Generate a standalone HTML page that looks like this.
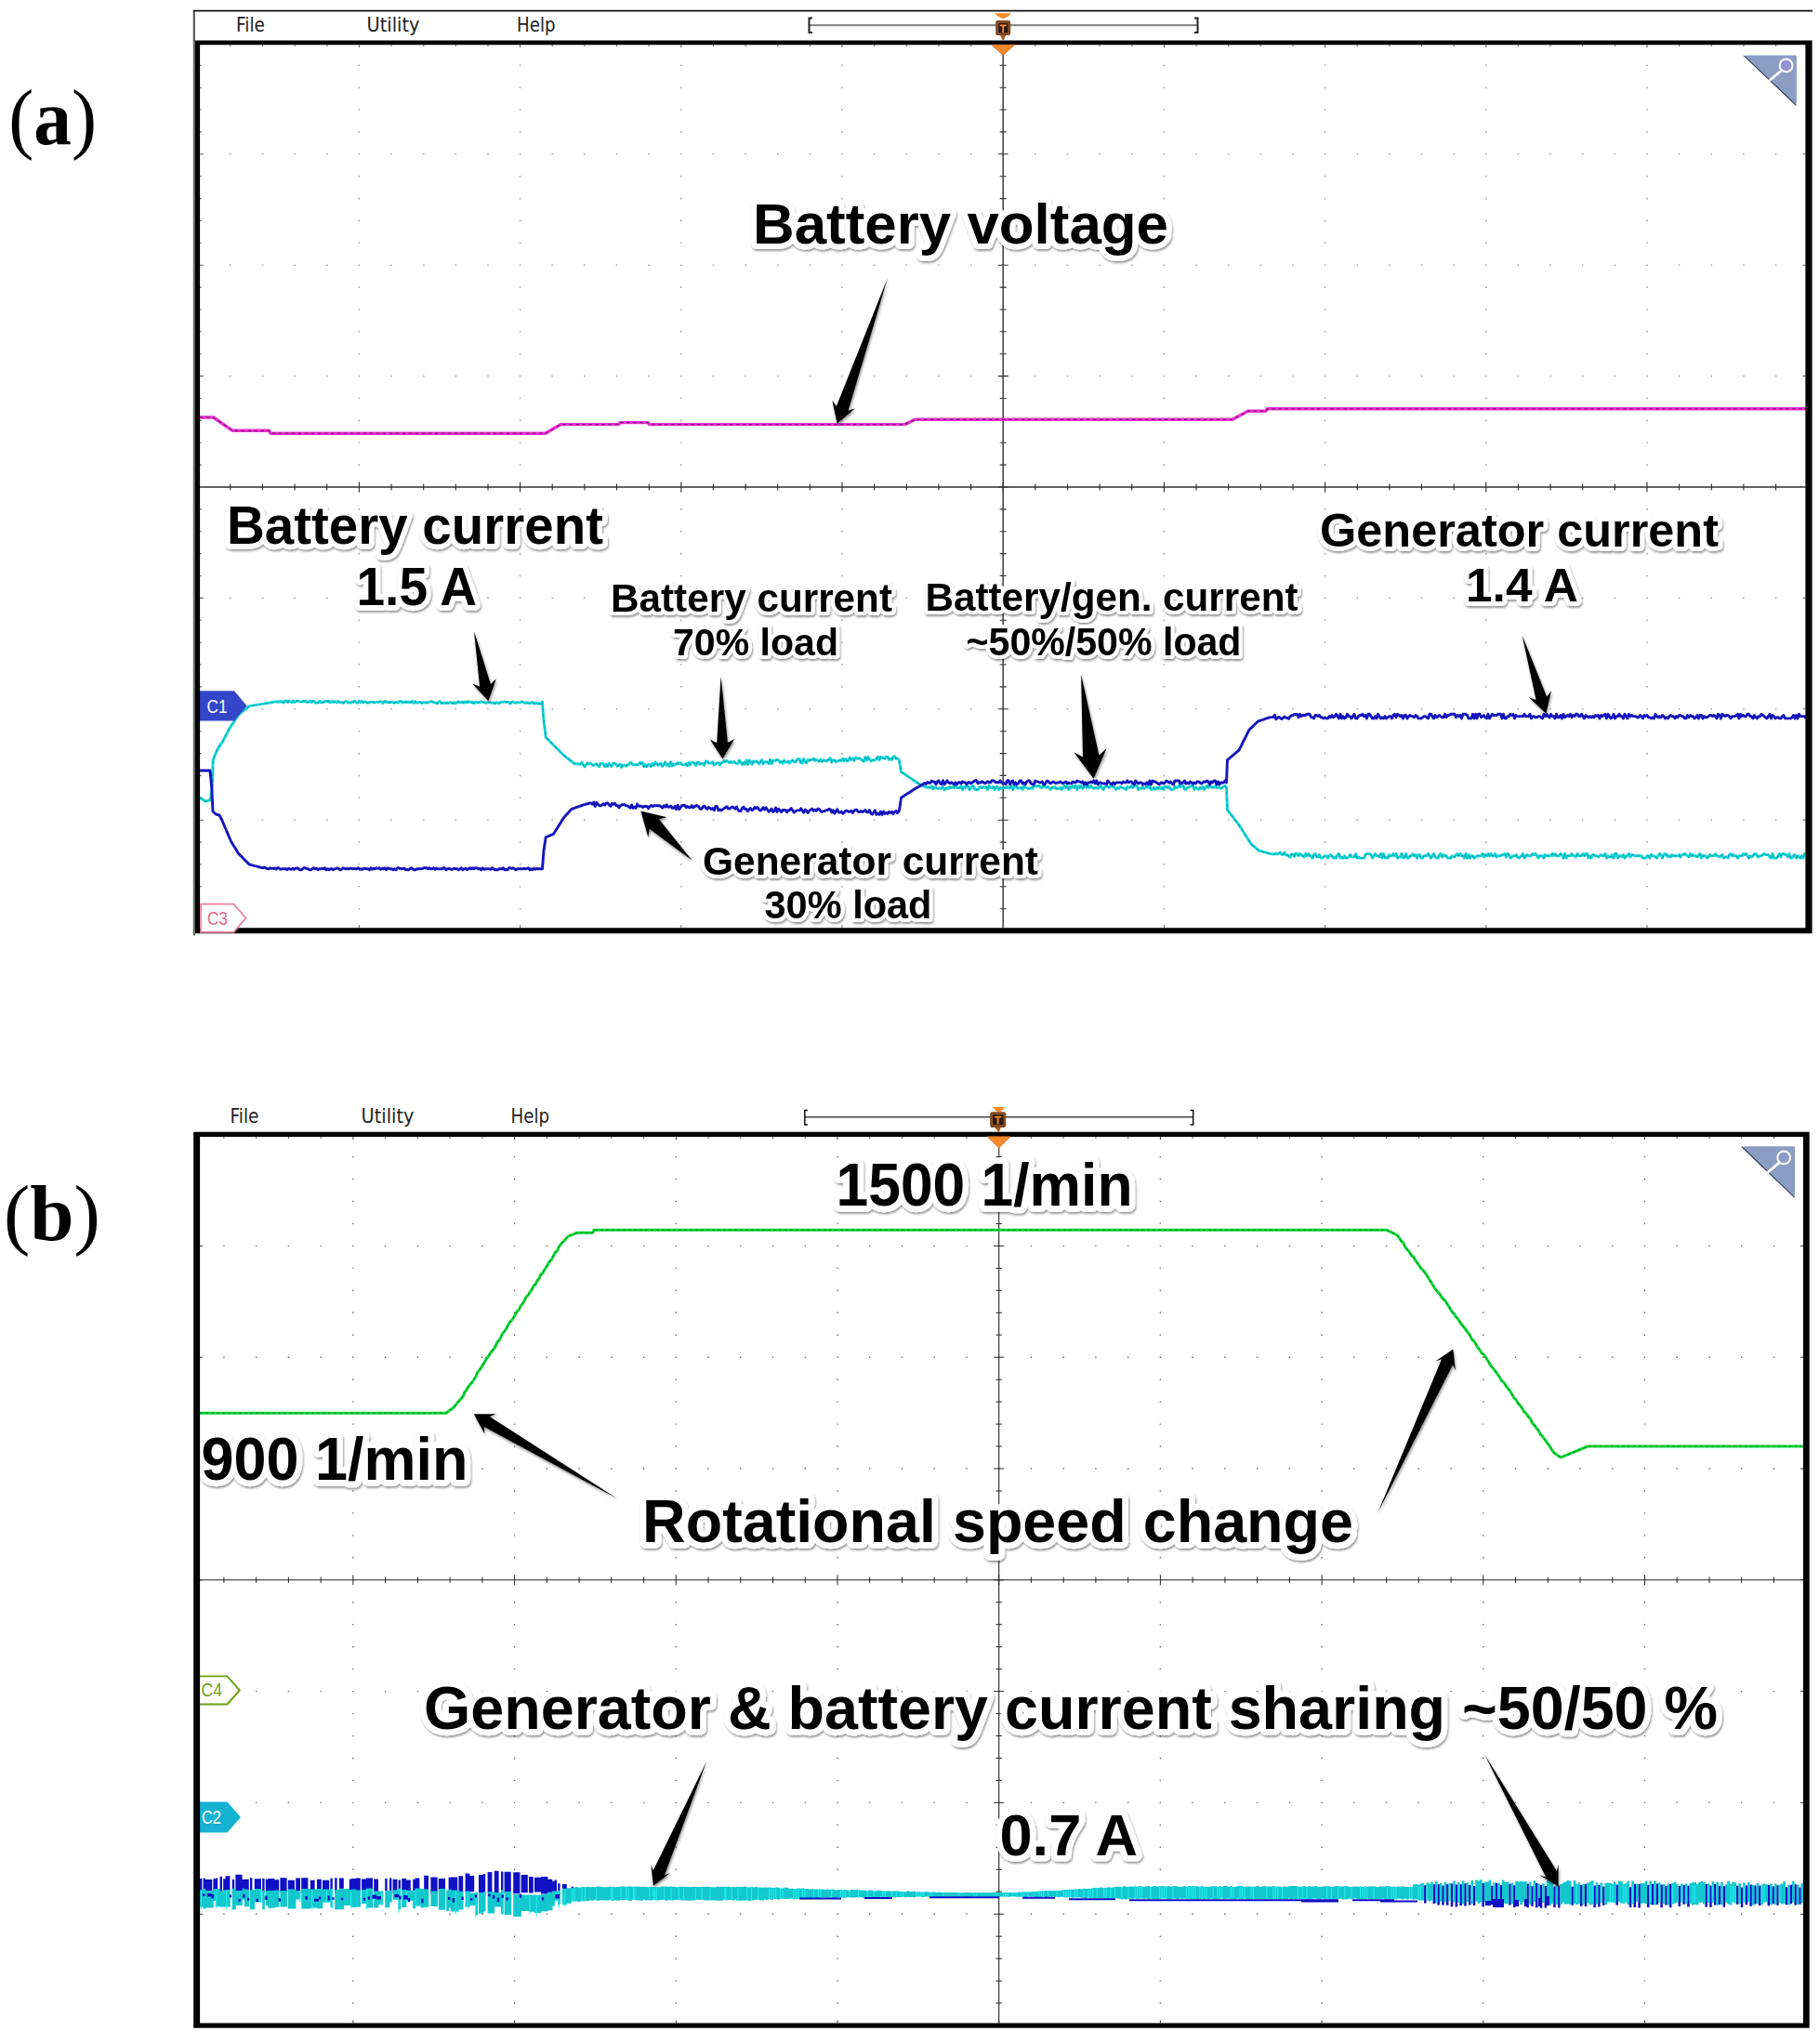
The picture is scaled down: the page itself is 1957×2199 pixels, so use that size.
<!DOCTYPE html>
<html lang="en"><head><meta charset="utf-8"><title>Oscilloscope figure</title>
<style>
html,body{margin:0;padding:0;background:#fff;}
body{width:1957px;height:2199px;overflow:hidden;position:relative;}
svg{position:absolute;left:0;top:0;display:block;}
.lb{font-family:"Liberation Sans",Arial,sans-serif;font-weight:bold;fill:#000;stroke:#fff;stroke-linejoin:round;paint-order:stroke fill;}
.mn{font-family:"DejaVu Sans","Liberation Sans",sans-serif;font-size:21.5px;fill:#1e1e1e;}
.ch{font-family:"Liberation Sans",Arial,sans-serif;font-size:20px;}
.fg{font-family:"Liberation Serif","Times New Roman",serif;fill:#000;}
</style></head><body>
<svg width="1957" height="2199" viewBox="0 0 1957 2199">
<defs>
<filter id="sh" x="-5%" y="-30%" width="110%" height="170%"><feGaussianBlur in="SourceAlpha" stdDeviation="1.3"/><feOffset dx="1.3" dy="1.8" result="b"/><feComponentTransfer><feFuncA type="linear" slope="0.42"/></feComponentTransfer><feMerge><feMergeNode/><feMergeNode in="SourceGraphic"/></feMerge></filter>
<filter id="sa" x="-30%" y="-30%" width="160%" height="160%"><feGaussianBlur in="SourceAlpha" stdDeviation="1.5"/><feOffset dx="1" dy="2"/><feComponentTransfer><feFuncA type="linear" slope="0.45"/></feComponentTransfer><feMerge><feMergeNode/><feMergeNode in="SourceGraphic"/></feMerge></filter>
</defs>
<rect width="1957" height="2199" fill="#fff"/>

<!-- panel a -->
<path d="M247,165.8h1.6M281.7,165.8h1.6M316.3,165.8h1.6M351,165.8h1.6M385.6,165.8h1.6M420.2,165.8h1.6M454.9,165.8h1.6M489.5,165.8h1.6M524.2,165.8h1.6M558.8,165.8h1.6M593.4,165.8h1.6M628.1,165.8h1.6M662.7,165.8h1.6M697.4,165.8h1.6M732,165.8h1.6M766.6,165.8h1.6M801.3,165.8h1.6M835.9,165.8h1.6M870.6,165.8h1.6M905.2,165.8h1.6M939.8,165.8h1.6M974.5,165.8h1.6M1009.1,165.8h1.6M1043.8,165.8h1.6M1078.4,165.8h1.6M1113,165.8h1.6M1147.7,165.8h1.6M1182.3,165.8h1.6M1217,165.8h1.6M1251.6,165.8h1.6M1286.2,165.8h1.6M1320.9,165.8h1.6M1355.5,165.8h1.6M1390.2,165.8h1.6M1424.8,165.8h1.6M1459.4,165.8h1.6M1494.1,165.8h1.6M1528.7,165.8h1.6M1563.4,165.8h1.6M1598,165.8h1.6M1632.6,165.8h1.6M1667.3,165.8h1.6M1701.9,165.8h1.6M1736.6,165.8h1.6M1771.2,165.8h1.6M1805.8,165.8h1.6M1840.5,165.8h1.6M1875.1,165.8h1.6M1909.8,165.8h1.6M247,285.2h1.6M281.7,285.2h1.6M316.3,285.2h1.6M351,285.2h1.6M385.6,285.2h1.6M420.2,285.2h1.6M454.9,285.2h1.6M489.5,285.2h1.6M524.2,285.2h1.6M558.8,285.2h1.6M593.4,285.2h1.6M628.1,285.2h1.6M662.7,285.2h1.6M697.4,285.2h1.6M732,285.2h1.6M766.6,285.2h1.6M801.3,285.2h1.6M835.9,285.2h1.6M870.6,285.2h1.6M905.2,285.2h1.6M939.8,285.2h1.6M974.5,285.2h1.6M1009.1,285.2h1.6M1043.8,285.2h1.6M1078.4,285.2h1.6M1113,285.2h1.6M1147.7,285.2h1.6M1182.3,285.2h1.6M1217,285.2h1.6M1251.6,285.2h1.6M1286.2,285.2h1.6M1320.9,285.2h1.6M1355.5,285.2h1.6M1390.2,285.2h1.6M1424.8,285.2h1.6M1459.4,285.2h1.6M1494.1,285.2h1.6M1528.7,285.2h1.6M1563.4,285.2h1.6M1598,285.2h1.6M1632.6,285.2h1.6M1667.3,285.2h1.6M1701.9,285.2h1.6M1736.6,285.2h1.6M1771.2,285.2h1.6M1805.8,285.2h1.6M1840.5,285.2h1.6M1875.1,285.2h1.6M1909.8,285.2h1.6M247,404.6h1.6M281.7,404.6h1.6M316.3,404.6h1.6M351,404.6h1.6M385.6,404.6h1.6M420.2,404.6h1.6M454.9,404.6h1.6M489.5,404.6h1.6M524.2,404.6h1.6M558.8,404.6h1.6M593.4,404.6h1.6M628.1,404.6h1.6M662.7,404.6h1.6M697.4,404.6h1.6M732,404.6h1.6M766.6,404.6h1.6M801.3,404.6h1.6M835.9,404.6h1.6M870.6,404.6h1.6M905.2,404.6h1.6M939.8,404.6h1.6M974.5,404.6h1.6M1009.1,404.6h1.6M1043.8,404.6h1.6M1078.4,404.6h1.6M1113,404.6h1.6M1147.7,404.6h1.6M1182.3,404.6h1.6M1217,404.6h1.6M1251.6,404.6h1.6M1286.2,404.6h1.6M1320.9,404.6h1.6M1355.5,404.6h1.6M1390.2,404.6h1.6M1424.8,404.6h1.6M1459.4,404.6h1.6M1494.1,404.6h1.6M1528.7,404.6h1.6M1563.4,404.6h1.6M1598,404.6h1.6M1632.6,404.6h1.6M1667.3,404.6h1.6M1701.9,404.6h1.6M1736.6,404.6h1.6M1771.2,404.6h1.6M1805.8,404.6h1.6M1840.5,404.6h1.6M1875.1,404.6h1.6M1909.8,404.6h1.6M247,643.4h1.6M281.7,643.4h1.6M316.3,643.4h1.6M351,643.4h1.6M385.6,643.4h1.6M420.2,643.4h1.6M454.9,643.4h1.6M489.5,643.4h1.6M524.2,643.4h1.6M558.8,643.4h1.6M593.4,643.4h1.6M628.1,643.4h1.6M662.7,643.4h1.6M697.4,643.4h1.6M732,643.4h1.6M766.6,643.4h1.6M801.3,643.4h1.6M835.9,643.4h1.6M870.6,643.4h1.6M905.2,643.4h1.6M939.8,643.4h1.6M974.5,643.4h1.6M1009.1,643.4h1.6M1043.8,643.4h1.6M1078.4,643.4h1.6M1113,643.4h1.6M1147.7,643.4h1.6M1182.3,643.4h1.6M1217,643.4h1.6M1251.6,643.4h1.6M1286.2,643.4h1.6M1320.9,643.4h1.6M1355.5,643.4h1.6M1390.2,643.4h1.6M1424.8,643.4h1.6M1459.4,643.4h1.6M1494.1,643.4h1.6M1528.7,643.4h1.6M1563.4,643.4h1.6M1598,643.4h1.6M1632.6,643.4h1.6M1667.3,643.4h1.6M1701.9,643.4h1.6M1736.6,643.4h1.6M1771.2,643.4h1.6M1805.8,643.4h1.6M1840.5,643.4h1.6M1875.1,643.4h1.6M1909.8,643.4h1.6M247,762.8h1.6M281.7,762.8h1.6M316.3,762.8h1.6M351,762.8h1.6M385.6,762.8h1.6M420.2,762.8h1.6M454.9,762.8h1.6M489.5,762.8h1.6M524.2,762.8h1.6M558.8,762.8h1.6M593.4,762.8h1.6M628.1,762.8h1.6M662.7,762.8h1.6M697.4,762.8h1.6M732,762.8h1.6M766.6,762.8h1.6M801.3,762.8h1.6M835.9,762.8h1.6M870.6,762.8h1.6M905.2,762.8h1.6M939.8,762.8h1.6M974.5,762.8h1.6M1009.1,762.8h1.6M1043.8,762.8h1.6M1078.4,762.8h1.6M1113,762.8h1.6M1147.7,762.8h1.6M1182.3,762.8h1.6M1217,762.8h1.6M1251.6,762.8h1.6M1286.2,762.8h1.6M1320.9,762.8h1.6M1355.5,762.8h1.6M1390.2,762.8h1.6M1424.8,762.8h1.6M1459.4,762.8h1.6M1494.1,762.8h1.6M1528.7,762.8h1.6M1563.4,762.8h1.6M1598,762.8h1.6M1632.6,762.8h1.6M1667.3,762.8h1.6M1701.9,762.8h1.6M1736.6,762.8h1.6M1771.2,762.8h1.6M1805.8,762.8h1.6M1840.5,762.8h1.6M1875.1,762.8h1.6M1909.8,762.8h1.6M247,882.2h1.6M281.7,882.2h1.6M316.3,882.2h1.6M351,882.2h1.6M385.6,882.2h1.6M420.2,882.2h1.6M454.9,882.2h1.6M489.5,882.2h1.6M524.2,882.2h1.6M558.8,882.2h1.6M593.4,882.2h1.6M628.1,882.2h1.6M662.7,882.2h1.6M697.4,882.2h1.6M732,882.2h1.6M766.6,882.2h1.6M801.3,882.2h1.6M835.9,882.2h1.6M870.6,882.2h1.6M905.2,882.2h1.6M939.8,882.2h1.6M974.5,882.2h1.6M1009.1,882.2h1.6M1043.8,882.2h1.6M1078.4,882.2h1.6M1113,882.2h1.6M1147.7,882.2h1.6M1182.3,882.2h1.6M1217,882.2h1.6M1251.6,882.2h1.6M1286.2,882.2h1.6M1320.9,882.2h1.6M1355.5,882.2h1.6M1390.2,882.2h1.6M1424.8,882.2h1.6M1459.4,882.2h1.6M1494.1,882.2h1.6M1528.7,882.2h1.6M1563.4,882.2h1.6M1598,882.2h1.6M1632.6,882.2h1.6M1667.3,882.2h1.6M1701.9,882.2h1.6M1736.6,882.2h1.6M1771.2,882.2h1.6M1805.8,882.2h1.6M1840.5,882.2h1.6M1875.1,882.2h1.6M1909.8,882.2h1.6M385.6,70.3h1.6M385.6,94.2h1.6M385.6,118h1.6M385.6,141.9h1.6M385.6,189.7h1.6M385.6,213.6h1.6M385.6,237.4h1.6M385.6,261.3h1.6M385.6,309.1h1.6M385.6,333h1.6M385.6,356.8h1.6M385.6,380.7h1.6M385.6,428.5h1.6M385.6,452.4h1.6M385.6,476.2h1.6M385.6,500.1h1.6M385.6,547.9h1.6M385.6,571.8h1.6M385.6,595.6h1.6M385.6,619.5h1.6M385.6,667.3h1.6M385.6,691.2h1.6M385.6,715h1.6M385.6,738.9h1.6M385.6,786.7h1.6M385.6,810.6h1.6M385.6,834.4h1.6M385.6,858.3h1.6M385.6,906.1h1.6M385.6,930h1.6M385.6,953.8h1.6M385.6,977.7h1.6M558.8,70.3h1.6M558.8,94.2h1.6M558.8,118h1.6M558.8,141.9h1.6M558.8,189.7h1.6M558.8,213.6h1.6M558.8,237.4h1.6M558.8,261.3h1.6M558.8,309.1h1.6M558.8,333h1.6M558.8,356.8h1.6M558.8,380.7h1.6M558.8,428.5h1.6M558.8,452.4h1.6M558.8,476.2h1.6M558.8,500.1h1.6M558.8,547.9h1.6M558.8,571.8h1.6M558.8,595.6h1.6M558.8,619.5h1.6M558.8,667.3h1.6M558.8,691.2h1.6M558.8,715h1.6M558.8,738.9h1.6M558.8,786.7h1.6M558.8,810.6h1.6M558.8,834.4h1.6M558.8,858.3h1.6M558.8,906.1h1.6M558.8,930h1.6M558.8,953.8h1.6M558.8,977.7h1.6M732,70.3h1.6M732,94.2h1.6M732,118h1.6M732,141.9h1.6M732,189.7h1.6M732,213.6h1.6M732,237.4h1.6M732,261.3h1.6M732,309.1h1.6M732,333h1.6M732,356.8h1.6M732,380.7h1.6M732,428.5h1.6M732,452.4h1.6M732,476.2h1.6M732,500.1h1.6M732,547.9h1.6M732,571.8h1.6M732,595.6h1.6M732,619.5h1.6M732,667.3h1.6M732,691.2h1.6M732,715h1.6M732,738.9h1.6M732,786.7h1.6M732,810.6h1.6M732,834.4h1.6M732,858.3h1.6M732,906.1h1.6M732,930h1.6M732,953.8h1.6M732,977.7h1.6M905.2,70.3h1.6M905.2,94.2h1.6M905.2,118h1.6M905.2,141.9h1.6M905.2,189.7h1.6M905.2,213.6h1.6M905.2,237.4h1.6M905.2,261.3h1.6M905.2,309.1h1.6M905.2,333h1.6M905.2,356.8h1.6M905.2,380.7h1.6M905.2,428.5h1.6M905.2,452.4h1.6M905.2,476.2h1.6M905.2,500.1h1.6M905.2,547.9h1.6M905.2,571.8h1.6M905.2,595.6h1.6M905.2,619.5h1.6M905.2,667.3h1.6M905.2,691.2h1.6M905.2,715h1.6M905.2,738.9h1.6M905.2,786.7h1.6M905.2,810.6h1.6M905.2,834.4h1.6M905.2,858.3h1.6M905.2,906.1h1.6M905.2,930h1.6M905.2,953.8h1.6M905.2,977.7h1.6M1251.6,70.3h1.6M1251.6,94.2h1.6M1251.6,118h1.6M1251.6,141.9h1.6M1251.6,189.7h1.6M1251.6,213.6h1.6M1251.6,237.4h1.6M1251.6,261.3h1.6M1251.6,309.1h1.6M1251.6,333h1.6M1251.6,356.8h1.6M1251.6,380.7h1.6M1251.6,428.5h1.6M1251.6,452.4h1.6M1251.6,476.2h1.6M1251.6,500.1h1.6M1251.6,547.9h1.6M1251.6,571.8h1.6M1251.6,595.6h1.6M1251.6,619.5h1.6M1251.6,667.3h1.6M1251.6,691.2h1.6M1251.6,715h1.6M1251.6,738.9h1.6M1251.6,786.7h1.6M1251.6,810.6h1.6M1251.6,834.4h1.6M1251.6,858.3h1.6M1251.6,906.1h1.6M1251.6,930h1.6M1251.6,953.8h1.6M1251.6,977.7h1.6M1424.8,70.3h1.6M1424.8,94.2h1.6M1424.8,118h1.6M1424.8,141.9h1.6M1424.8,189.7h1.6M1424.8,213.6h1.6M1424.8,237.4h1.6M1424.8,261.3h1.6M1424.8,309.1h1.6M1424.8,333h1.6M1424.8,356.8h1.6M1424.8,380.7h1.6M1424.8,428.5h1.6M1424.8,452.4h1.6M1424.8,476.2h1.6M1424.8,500.1h1.6M1424.8,547.9h1.6M1424.8,571.8h1.6M1424.8,595.6h1.6M1424.8,619.5h1.6M1424.8,667.3h1.6M1424.8,691.2h1.6M1424.8,715h1.6M1424.8,738.9h1.6M1424.8,786.7h1.6M1424.8,810.6h1.6M1424.8,834.4h1.6M1424.8,858.3h1.6M1424.8,906.1h1.6M1424.8,930h1.6M1424.8,953.8h1.6M1424.8,977.7h1.6M1598,70.3h1.6M1598,94.2h1.6M1598,118h1.6M1598,141.9h1.6M1598,189.7h1.6M1598,213.6h1.6M1598,237.4h1.6M1598,261.3h1.6M1598,309.1h1.6M1598,333h1.6M1598,356.8h1.6M1598,380.7h1.6M1598,428.5h1.6M1598,452.4h1.6M1598,476.2h1.6M1598,500.1h1.6M1598,547.9h1.6M1598,571.8h1.6M1598,595.6h1.6M1598,619.5h1.6M1598,667.3h1.6M1598,691.2h1.6M1598,715h1.6M1598,738.9h1.6M1598,786.7h1.6M1598,810.6h1.6M1598,834.4h1.6M1598,858.3h1.6M1598,906.1h1.6M1598,930h1.6M1598,953.8h1.6M1598,977.7h1.6M1771.2,70.3h1.6M1771.2,94.2h1.6M1771.2,118h1.6M1771.2,141.9h1.6M1771.2,189.7h1.6M1771.2,213.6h1.6M1771.2,237.4h1.6M1771.2,261.3h1.6M1771.2,309.1h1.6M1771.2,333h1.6M1771.2,356.8h1.6M1771.2,380.7h1.6M1771.2,428.5h1.6M1771.2,452.4h1.6M1771.2,476.2h1.6M1771.2,500.1h1.6M1771.2,547.9h1.6M1771.2,571.8h1.6M1771.2,595.6h1.6M1771.2,619.5h1.6M1771.2,667.3h1.6M1771.2,691.2h1.6M1771.2,715h1.6M1771.2,738.9h1.6M1771.2,786.7h1.6M1771.2,810.6h1.6M1771.2,834.4h1.6M1771.2,858.3h1.6M1771.2,906.1h1.6M1771.2,930h1.6M1771.2,953.8h1.6M1771.2,977.7h1.6" stroke="#a6a6a6" stroke-width="1.6" fill="none"/>
<path d="M215,524H1942.4 M1079.2,48.3V998.2" stroke="#303030" stroke-width="1.4" fill="none"/>
<path d="M247.8,520.5v7M282.5,520.5v7M317.1,520.5v7M351.8,520.5v7M386.4,518.5v11M421,520.5v7M455.7,520.5v7M490.3,520.5v7M525,520.5v7M559.6,518.5v11M594.2,520.5v7M628.9,520.5v7M663.5,520.5v7M698.2,520.5v7M732.8,518.5v11M767.4,520.5v7M802.1,520.5v7M836.7,520.5v7M871.4,520.5v7M906,518.5v11M940.6,520.5v7M975.3,520.5v7M1009.9,520.5v7M1044.6,520.5v7M1079.2,518.5v11M1113.8,520.5v7M1148.5,520.5v7M1183.1,520.5v7M1217.8,520.5v7M1252.4,518.5v11M1287,520.5v7M1321.7,520.5v7M1356.3,520.5v7M1391,520.5v7M1425.6,518.5v11M1460.2,520.5v7M1494.9,520.5v7M1529.5,520.5v7M1564.2,520.5v7M1598.8,518.5v11M1633.4,520.5v7M1668.1,520.5v7M1702.7,520.5v7M1737.4,520.5v7M1772,518.5v11M1806.6,520.5v7M1841.3,520.5v7M1875.9,520.5v7M1910.6,520.5v7M1075.7,70.3h7M1075.7,94.2h7M1075.7,118h7M1075.7,141.9h7M1073.7,165.8h11M1075.7,189.7h7M1075.7,213.6h7M1075.7,237.4h7M1075.7,261.3h7M1073.7,285.2h11M1075.7,309.1h7M1075.7,333h7M1075.7,356.8h7M1075.7,380.7h7M1073.7,404.6h11M1075.7,428.5h7M1075.7,452.4h7M1075.7,476.2h7M1075.7,500.1h7M1073.7,524h11M1075.7,547.9h7M1075.7,571.8h7M1075.7,595.6h7M1075.7,619.5h7M1073.7,643.4h11M1075.7,667.3h7M1075.7,691.2h7M1075.7,715h7M1075.7,738.9h7M1073.7,762.8h11M1075.7,786.7h7M1075.7,810.6h7M1075.7,834.4h7M1075.7,858.3h7M1073.7,882.2h11M1075.7,906.1h7M1075.7,930h7M1075.7,953.8h7M1075.7,977.7h7" stroke="#303030" stroke-width="1.1" fill="none"/>
<path d="M247.8,48.3v1.8M282.5,48.3v1.8M317.1,48.3v1.8M351.8,48.3v1.8M386.4,48.3v3M386.4,995.2v3M421,48.3v1.8M455.7,48.3v1.8M490.3,48.3v1.8M525,48.3v1.8M559.6,48.3v3M559.6,995.2v3M594.2,48.3v1.8M628.9,48.3v1.8M663.5,48.3v1.8M698.2,48.3v1.8M732.8,48.3v3M732.8,995.2v3M767.4,48.3v1.8M802.1,48.3v1.8M836.7,48.3v1.8M871.4,48.3v1.8M906,48.3v3M906,995.2v3M940.6,48.3v1.8M975.3,48.3v1.8M1009.9,48.3v1.8M1044.6,48.3v1.8M1079.2,48.3v3M1079.2,995.2v3M1113.8,48.3v1.8M1148.5,48.3v1.8M1183.1,48.3v1.8M1217.8,48.3v1.8M1252.4,48.3v3M1252.4,995.2v3M1287,48.3v1.8M1321.7,48.3v1.8M1356.3,48.3v1.8M1391,48.3v1.8M1425.6,48.3v3M1425.6,995.2v3M1460.2,48.3v1.8M1494.9,48.3v1.8M1529.5,48.3v1.8M1564.2,48.3v1.8M1598.8,48.3v3M1598.8,995.2v3M1633.4,48.3v1.8M1668.1,48.3v1.8M1702.7,48.3v1.8M1737.4,48.3v1.8M1772,48.3v3M1772,995.2v3M1806.6,48.3v1.8M1841.3,48.3v1.8M1875.9,48.3v1.8M1910.6,48.3v1.8M215,70.3h1.8M215,94.2h1.8M215,118h1.8M215,141.9h1.8M215,165.8h4M1939.4,165.8h3M215,189.7h1.8M215,213.6h1.8M215,237.4h1.8M215,261.3h1.8M215,285.2h4M1939.4,285.2h3M215,309.1h1.8M215,333h1.8M215,356.8h1.8M215,380.7h1.8M215,404.6h4M1939.4,404.6h3M215,428.5h1.8M215,452.4h1.8M215,476.2h1.8M215,500.1h1.8M215,524h4M1939.4,524h3M215,547.9h1.8M215,571.8h1.8M215,595.6h1.8M215,619.5h1.8M215,643.4h4M1939.4,643.4h3M215,667.3h1.8M215,691.2h1.8M215,715h1.8M215,738.9h1.8M215,762.8h4M1939.4,762.8h3M215,786.7h1.8M215,810.6h1.8M215,834.4h1.8M215,858.3h1.8M215,882.2h4M1939.4,882.2h3M215,906.1h1.8M215,930h1.8M215,953.8h1.8M215,977.7h1.8" stroke="#6a6a6a" stroke-width="1.1" fill="none"/>
<path d="M208.8,44V11.6" stroke="#4a4a4a" stroke-width="2" fill="none"/>
<path d="M207.8,11.6H1950" stroke="#111" stroke-width="1.6" fill="none"/>
<text class="mn" x="254" y="34" textLength="31" lengthAdjust="spacingAndGlyphs">File</text>
<text class="mn" x="394.5" y="34" textLength="57" lengthAdjust="spacingAndGlyphs">Utility</text>
<text class="mn" x="556" y="34" textLength="41.5" lengthAdjust="spacingAndGlyphs">Help</text>
<path d="M870.5,27.2H1288.5" stroke="#8e8e8e" stroke-width="2.2" fill="none"/>
<path d="M874,19.5H870.5V35H874M1285,19.5H1288.5V35H1285" stroke="#222" stroke-width="2" fill="none"/>
<path d="M215,449 229.6,449 250.2,463.3 289.5,463.3 291,466.2 586.7,466.2 603.5,456.6 665.8,456.6 667,454.6 697,454.6 698.5,456.6 973.6,456.6 984.6,451.3 1326,451.3 1342.7,442.2 1361.9,442.2 1363.5,439.8 1943,439.8" stroke="#e733cf" stroke-width="3.4" fill="none" stroke-linejoin="round"/>
<path d="M215,449 229.6,449 250.2,463.3 289.5,463.3 291,466.2 586.7,466.2 603.5,456.6 665.8,456.6 667,454.6 697,454.6 698.5,456.6 973.6,456.6 984.6,451.3 1326,451.3 1342.7,442.2 1361.9,442.2 1363.5,439.8 1943,439.8" stroke="#8a0a78" stroke-width="1.2" fill="none" stroke-dasharray="3.5 3.5"/>
<path d="M215,858 216.5,859 218,860 219.5,861 221,862 222.7,861.7 224.3,861.3 226,861 226.2,859.4 226.5,857.8 226.8,856.2 227,854.6 227.2,853 227.5,851.4 227.8,849.8 228,848.2 228.2,846.6 228.5,845 228.5,843.5 228.6,842 228.6,840.4 228.7,838.9 228.7,837.4 228.7,835.9 228.8,834.3 228.8,832.8 228.8,831.3 228.9,829.8 228.9,828.3 229,826.7 229,825.2 229,823.7 229.1,822.2 229.1,820.6 229.2,819.1 229.2,817.6 229.9,815.9 230.6,814.3 231.3,812.6 231.9,811 232.6,809.3 233.3,807.7 234,806 235,804.5 236,803 237,801.5 238,800 239,798.5 240,797 240.8,795.5 241.6,794 242.3,792.5 243.1,791 243.9,789.5 244.7,788 245.4,786.5 246.2,785 247,783.5 248.1,781.9 249.2,780.2 250.3,778.6 251.4,777 252.4,775.3 253.5,773.7 254.6,772.1 255.7,770.4 256.8,768.8 258.4,767.5 260.1,766.2 261.7,764.9 263.3,763.6 264.9,762.3 266.6,761 268.2,759.7 269.7,759.4 271.3,759.2 272.8,758.9 274.4,758.7 275.9,758.4 277.4,758.1 279,757.9 280.5,757.6 282,757.4 283.6,757.1 285.1,756.8 286.7,756.6 288.2,756.3 289.7,756 291.3,755.8 292.8,755.5 294.4,755.3 295.9,755 297.4,755 298.9,755 300.4,755 301.9,754.5 303.4,755 304.9,756 306.4,754 307.9,754 309.5,755.5 311,754.1 312.5,755.1 314,755.6 315.5,754.1 317,755.6 318.5,754.6 320,754.1 321.5,754.1 323,755.1 324.5,755.1 326,754.1 327.5,754.6 329,754.1 330.5,755.6 332,755.1 333.5,754.1 335,755.6 336.6,754.1 338.1,754.6 339.6,756.2 341.1,756.2 342.6,755.7 344.1,754.2 345.6,755.7 347.1,755.7 348.6,755.2 350.1,754.2 351.6,754.7 353.1,754.2 354.6,755.7 356.1,754.7 357.6,755.2 359.1,755.2 360.6,754.7 362.2,755.7 363.7,754.2 365.2,755.7 366.7,755.2 368.2,755.8 369.7,756.3 371.2,754.8 372.7,754.3 374.2,755.8 375.7,755.8 377.2,756.3 378.7,754.8 380.2,755.3 381.7,754.3 383.2,755.8 384.7,756.3 386.2,754.3 387.8,755.8 389.3,754.3 390.8,755.8 392.3,754.8 393.8,755.3 395.3,756.3 396.8,755.9 398.3,755.4 399.8,755.4 401.3,755.4 402.8,755.9 404.3,755.4 405.8,755.4 407.3,755.4 408.8,754.9 410.3,754.9 411.8,756.4 413.3,754.9 414.9,754.4 416.4,755.9 417.9,755.4 419.4,755.9 420.9,755.4 422.4,755.4 423.9,756.4 425.4,755.5 426.9,755.5 428.4,756 429.9,754.5 431.4,754.5 432.9,756 434.4,755.5 435.9,755 437.4,755.5 438.9,755 440.5,755.5 442,755.5 443.5,754.5 445,756.5 446.5,754.5 448,756 449.5,756 451,755.5 452.5,755.5 454,756.5 455.5,755.6 457,756.1 458.5,755.6 460,756.1 461.5,755.6 463,754.6 464.5,754.6 466.1,755.6 467.6,755.6 469.1,756.6 470.6,756.6 472.1,754.6 473.6,754.6 475.1,756.6 476.6,756.6 478.1,755.6 479.6,756.6 481.1,756.1 482.6,756.6 484.1,755.7 485.6,755.7 487.1,756.7 488.6,755.7 490.1,756.7 491.6,755.7 493.2,754.7 494.7,755.7 496.2,755.7 497.7,755.2 499.2,756.2 500.7,754.7 502.2,755.7 503.7,754.7 505.2,755.2 506.7,755.7 508.2,755.2 509.7,756.7 511.2,755.2 512.7,755.8 514.2,755.8 515.7,755.8 517.2,754.8 518.8,755.3 520.3,755.8 521.8,755.8 523.3,756.3 524.8,755.8 526.3,755.3 527.8,755.8 529.3,756.3 530.8,755.8 532.3,756.8 533.8,755.8 535.3,755.8 536.8,756.8 538.3,755.8 539.8,755.3 541.3,755.4 542.8,754.9 544.4,755.4 545.9,755.4 547.4,755.4 548.9,756.9 550.4,755.4 551.9,754.9 553.4,755.9 554.9,756.4 556.4,755.4 557.9,755.9 559.4,755.9 560.9,754.9 562.4,755.4 563.9,755.9 565.4,756.4 566.9,755.9 568.4,756.4 569.9,756.5 571.5,756 573,755.5 574.5,757 576,756.5 577.5,756.5 579,757 580.5,757 582,757 583.5,755 583.6,757.6 583.8,760.2 583.9,761.2 584,762.3 584.1,763.9 584.2,765.5 584.4,767.1 584.5,768.7 584.6,770.2 584.8,771.8 584.9,773.4 585,775 585.2,776.5 585.4,778 585.5,779.5 585.7,781.1 585.9,782.6 586.1,784.1 586.3,785.6 586.5,787.1 586.7,788.7 586.8,790.2 587,791.7 587.2,793.2 588.7,794.7 590.2,796.2 591.7,797.7 593.2,799.2 594.7,800.7 596.2,802.2 597.7,803.8 599.2,805.3 600.7,806.8 602.2,808.3 603.7,809.8 605.2,811.3 606.7,812.8 608.3,814 609.9,815.3 611.5,816.5 613.2,817.8 614.8,819 616.4,820.3 618,821.5 619.6,821.7 621.1,821.8 622.7,822 624.3,822.2 625.9,820.1 627.4,822.5 629,824.9 630.6,822.8 632.1,820.8 633.7,822 635.3,821.1 636.9,822.4 638.4,823.6 640,822.7 641.5,821.6 643,823.7 644.5,824.8 646,821.5 647.5,821.4 649.1,821.4 650.6,824.7 652.1,822.4 653.6,824.6 655.1,821.3 656.6,823.4 658.1,824.5 659.6,821.2 661.1,821.1 662.6,822.2 664.2,824.4 665.7,823.2 667.2,822.1 668.7,825.4 670.2,823.1 671.7,823.1 673.2,824.2 674.7,823 676.2,823 677.7,820.8 679.2,820.7 680.8,822.9 682.3,822.8 683.8,822.8 685.3,822.8 686.8,822.7 688.3,820.5 689.8,821.6 691.3,820.4 692.8,824.8 694.3,822.6 695.8,824.7 697.4,822.5 698.9,822.5 700.4,824.6 701.9,821.3 703.4,823.5 704.9,820.1 706.4,821.2 707.9,823.4 709.4,822.2 710.9,821.1 712.5,824.4 714,823.2 715.5,819.9 717,823.2 718.5,822 720,824.2 721.5,819.8 723,824.1 724.5,821.9 726,823 727.5,821.8 729.1,820.7 730.6,821.8 732.1,820.6 733.6,822.8 735.1,822.8 736.6,822.7 738.1,821.6 739.6,823.8 741.1,820.4 742.6,822.6 744.2,820.4 745.7,820.3 747.2,821.4 748.7,823.6 750.2,820.2 751.7,820.2 753.2,822.4 754.7,821.2 756.2,821.2 757.7,823.4 759.2,818.9 760.8,818.9 762.3,821 763.8,821 765.3,821 766.8,819.8 768.3,823.1 769.8,822 771.3,820.8 772.8,820.8 774.3,823 775.8,820.7 777.4,820.7 778.9,818.5 780.4,819.5 781.9,818.4 783.4,819.5 784.9,820.5 786.4,819.4 787.9,820.5 789.4,819.3 790.9,820.4 792.5,821.5 794,821.4 795.5,818.1 797,820.3 798.5,822.4 800,820.2 801.5,822.4 803,817.9 804.5,822.3 806,817.8 807.5,820 809,822.2 810.5,818.8 812,819.9 813.5,818.8 815,819.8 816.5,822 818.1,819.7 819.6,817.5 821.1,821.9 822.6,819.6 824.1,819.6 825.6,819.6 827.1,821.7 828.6,817.3 830.1,821.6 831.6,818.3 833.1,818.3 834.6,818.2 836.1,817.1 837.6,818.1 839.1,820.3 840.6,819.2 842.1,821.3 843.6,818 845.1,820.2 846.6,820.1 848.1,819 849.6,821.1 851.2,818.9 852.7,817.8 854.2,819.9 855.7,819.9 857.2,817.6 858.7,816.5 860.2,816.5 861.7,820.8 863.2,820.8 864.7,816.4 866.2,819.6 867.7,820.7 869.2,817.3 870.7,818.4 872.2,817.3 873.7,817.2 875.2,816.1 876.7,818.3 878.2,817.1 879.7,818.2 881.2,819.2 882.8,817 884.3,819.2 885.8,818 887.3,818 888.8,819 890.3,817.9 891.8,816.8 893.3,815.6 894.8,820 896.3,817.8 897.8,817.7 899.3,819.9 900.8,818.7 902.3,818.7 903.8,817.6 905.3,818.6 906.8,816.4 908.3,818.6 909.8,816.3 911.3,818.5 912.8,818.4 914.3,815.1 915.9,817.3 917.4,816.1 918.9,818.3 920.4,814.9 921.9,816 923.4,816 924.9,815.9 926.4,817 927.9,818.1 929.4,819.1 930.9,814.7 932.4,817.9 933.9,814.6 935.4,816.8 936.9,818.9 938.4,817.8 939.9,817.7 941.4,817.7 942.9,816.6 944.4,814.3 945.9,817.6 947.4,814.3 949,815.3 950.5,815.3 952,816.3 953.5,814.1 955,814.1 956.5,817.3 958,816.2 959.5,817.3 961,813.9 962.5,813.9 964,816 965.5,816 967.5,818 967.8,819.6 968,821.2 968.2,822.8 968.5,824.4 968.8,825.9 969,827.5 969.2,829.1 969.5,830.7 972,832 973.5,833 975,834 976.5,835.1 978,836.1 979.5,837.1 981,838.1 982.5,839.2 984,840.2 985.5,841.2 987,842.2 988.5,843.3 990,844.3 991.5,845.3 993,845.5 994.6,845.7 996.1,846.8 997.7,847 999.2,847.2 1000.8,847.4 1002.3,845.6 1003.8,848.8 1005.4,847 1006.9,847.1 1008.5,848.3 1010,848.5 1011.5,847.5 1013,848.5 1014.5,846.5 1016,849.5 1017.5,848.5 1019,847.5 1020.5,848.5 1022,846.5 1023.5,847.5 1025,846.5 1026.5,847.5 1028,845.5 1029.5,847.5 1031,847.5 1032.5,847.5 1034,845.5 1035.5,849.5 1037,846.5 1038.5,847.5 1040,845.5 1041.6,846.5 1043.1,849.5 1044.6,847.5 1046.1,845.5 1047.6,846.5 1049.1,849.5 1050.6,849.5 1052.1,849.5 1053.6,847.5 1055.1,846.5 1056.6,847.5 1058.1,846.5 1059.6,847.5 1061.1,846.5 1062.6,849.5 1064.1,845.5 1065.6,847.5 1067.1,847.5 1068.6,846.5 1070.1,849.5 1071.6,846.5 1073.1,846.5 1074.6,849.5 1076.1,847.5 1077.6,848.5 1079.1,847.5 1080.6,847.5 1082.1,847.5 1083.6,846.5 1085.1,847.5 1086.6,847.5 1088.1,845.4 1089.6,849.4 1091.1,847.4 1092.6,845.4 1094.1,847.4 1095.6,848.4 1097.1,847.4 1098.6,847.4 1100.1,849.4 1101.6,845.4 1103.2,847.4 1104.7,847.4 1106.2,848.4 1107.7,848.4 1109.2,847.4 1110.7,848.4 1112.2,845.4 1113.7,845.4 1115.2,846.4 1116.7,845.4 1118.2,845.4 1119.7,847.4 1121.2,847.4 1122.7,845.4 1124.2,846.4 1125.7,847.4 1127.2,846.4 1128.7,847.4 1130.2,849.4 1131.7,847.4 1133.2,847.4 1134.7,846.4 1136.2,848.4 1137.7,848.4 1139.2,848.4 1140.7,847.4 1142.2,849.4 1143.7,847.4 1145.2,845.4 1146.7,847.4 1148.2,845.4 1149.7,849.4 1151.2,846.4 1152.7,847.4 1154.2,845.4 1155.7,847.4 1157.2,845.4 1158.7,849.4 1160.2,845.4 1161.7,847.4 1163.2,845.4 1164.8,848.4 1166.3,846.4 1167.8,845.4 1169.3,847.4 1170.8,845.4 1172.3,847.4 1173.8,845.4 1175.3,847.4 1176.8,848.4 1178.3,847.4 1179.8,847.4 1181.3,848.4 1182.8,846.4 1184.3,845.4 1185.8,848.4 1187.3,849.4 1188.8,846.4 1190.3,845.4 1191.8,846.4 1193.3,847.4 1194.8,845.4 1196.3,846.4 1197.8,846.4 1199.3,847.4 1200.8,849.4 1202.3,847.4 1203.8,848.4 1205.3,846.4 1206.8,847.4 1208.3,847.4 1209.8,848.4 1211.3,849.4 1212.8,846.4 1214.3,847.4 1215.8,847.4 1217.3,845.4 1218.8,847.4 1220.3,845.4 1221.8,845.4 1223.3,845.4 1224.8,849.4 1226.3,848.4 1227.9,848.4 1229.4,846.4 1230.9,848.4 1232.4,847.4 1233.9,846.4 1235.4,847.4 1236.9,845.4 1238.4,849.4 1239.9,849.4 1241.4,847.4 1242.9,849.3 1244.4,847.3 1245.9,848.3 1247.4,847.3 1248.9,848.3 1250.4,847.3 1251.9,849.3 1253.4,846.3 1254.9,846.3 1256.4,847.3 1257.9,846.3 1259.4,849.3 1260.9,849.3 1262.4,849.3 1263.9,846.3 1265.4,847.3 1266.9,847.3 1268.4,845.3 1269.9,846.3 1271.4,845.3 1272.9,845.3 1274.4,849.3 1275.9,849.3 1277.4,847.3 1278.9,847.3 1280.4,846.3 1281.9,845.3 1283.4,845.3 1284.9,849.3 1286.4,847.3 1287.9,848.3 1289.5,849.3 1291,847.3 1292.5,848.3 1294,846.3 1295.5,849.3 1297,847.3 1298.5,845.3 1300,847.3 1301.5,846.3 1303,846.3 1304.5,847.3 1306,847.3 1307.5,845.3 1309,847.3 1310.5,847.3 1312,847.3 1313.5,848.3 1315,847.3 1316.5,846.3 1318,845.3 1319.5,847.3 1319.6,848.8 1319.6,850.3 1319.7,851.8 1319.8,853.3 1319.8,854.8 1319.9,856.3 1319.9,857.8 1320,859.3 1320.1,860.8 1320.1,862.3 1320.2,863.8 1320.2,865.3 1320.3,866.8 1320.4,868.3 1320.4,869.8 1320.5,871.3 1321.7,872.8 1322.8,874.3 1324,875.9 1325.2,877.4 1326.3,878.9 1327.5,880.4 1328.6,881.9 1329.8,883.4 1331,885 1332.1,886.5 1333.3,888 1334.3,889.5 1335.3,891.1 1336.2,892.6 1337.2,894.2 1338.2,895.7 1339.2,897.2 1340.1,898.8 1341.1,900.3 1342.1,901.8 1343.1,903.4 1344,904.9 1345,906.5 1346,908 1347.6,909.4 1349.3,910.8 1350.9,912.2 1352.6,913.6 1354.2,915 1355.8,915.5 1357.3,915.9 1358.9,916.4 1360.5,916.8 1362.1,917.2 1363.7,917.7 1365.2,918.1 1366.8,918.6 1368.3,918.7 1369.8,918.8 1371.3,918.9 1372.8,917.9 1374.3,919.1 1375.9,918.1 1377.4,917 1378.9,919.4 1380.4,919.5 1381.9,917.3 1383.4,919.7 1384.9,919.8 1386.4,921 1387.9,922.3 1389.4,919 1390.9,919 1392.5,921.4 1394,918.1 1395.5,918.2 1397,920.6 1398.5,918.4 1400,919.6 1401.5,920.8 1403,921.9 1404.5,918.5 1406,920.8 1407.5,918.5 1409,920.8 1410.5,920.8 1412,923.1 1413.5,919.6 1415,918.5 1416.5,921.9 1418,921.9 1419.5,919.6 1421,923.1 1422.5,923.1 1424,921.9 1425.5,920.8 1427,920.8 1428.5,923.1 1430,920.8 1431.5,919.6 1433,920.8 1434.5,923.1 1436,921.9 1437.5,923.1 1439,919.6 1440.5,918.5 1442,923.1 1443.5,921.9 1445,923.1 1446.5,920.8 1448,923.1 1449.5,923.1 1451,921.9 1452.5,919.6 1454,921.9 1455.5,921.9 1457,921.9 1458.5,918.5 1460,923.1 1461.5,921.9 1463,923.1 1464.5,923.1 1466,923.1 1467.5,923.1 1469,919.6 1470.5,918.5 1472,918.5 1473.5,918.5 1475,919.6 1476.5,923.1 1478,920.8 1479.5,918.5 1481,920.8 1482.5,920.8 1484,921.9 1485.5,918.5 1487,923.1 1488.5,918.5 1490,923.1 1491.5,921.9 1493,923.1 1494.5,919.6 1496,920.8 1497.5,920.8 1499,918.5 1500.5,920.8 1502,918.5 1503.5,923.1 1505,921.9 1506.5,921.9 1508,918.5 1509.5,923.1 1511,921.9 1512.5,918.5 1514,923.1 1515.5,923.1 1517,920.8 1518.5,920.8 1520,918.5 1521.5,920.8 1523,919.6 1524.5,923.1 1526,919.6 1527.5,919.6 1529,923.1 1530.5,923.1 1532,920.8 1533.5,920.8 1535,920.8 1536.5,918.5 1538,920.8 1539.5,923.1 1541,920.8 1542.5,918.5 1544,921.9 1545.5,923.1 1547,923.1 1548.5,919.6 1550,918.5 1551.5,921.9 1553,919.6 1554.5,920.8 1556,920.8 1557.5,923.1 1559,923.1 1560.5,923.1 1562,920.8 1563.5,921.9 1565,921.9 1566.5,919.6 1568,918.5 1569.5,920.8 1571,918.5 1572.5,920.8 1574,920.8 1575.5,923.1 1577,918.5 1578.5,923.1 1580,919.6 1581.5,923.1 1583,920.8 1584.5,920.8 1586,923.1 1587.5,921.9 1589,920.8 1590.5,920.8 1592,920.8 1593.5,920.8 1595,918.5 1596.5,921.9 1598,919.6 1599.5,920.8 1601,918.5 1602.5,920.8 1604,918.5 1605.5,920.8 1607,920.8 1608.5,918.5 1610,921.9 1611.5,920.8 1613,920.8 1614.5,920.8 1616,919.6 1617.5,919.6 1619,918.5 1620.5,921.9 1622,918.5 1623.5,919.6 1625,923.1 1626.5,921.9 1628,920.8 1629.5,920.8 1631,919.6 1632.5,921.9 1634,923.1 1635.5,921.9 1637,920.8 1638.5,918.5 1640,923.1 1641.5,920.8 1643,919.6 1644.5,920.8 1646,920.8 1647.5,920.8 1649,918.5 1650.5,919.6 1652,918.5 1653.5,920.8 1655,923.1 1656.5,920.8 1658,920.8 1659.5,920.8 1661,923.1 1662.5,919.6 1664,920.8 1665.5,920.8 1667,920.8 1668.5,920.8 1670,918.5 1671.5,920.8 1673,918.5 1674.5,920.8 1676,920.8 1677.5,920.8 1679,918.5 1680.5,919.6 1682,923.1 1683.5,918.5 1685,923.1 1686.5,920.8 1688,920.8 1689.5,920.8 1691,918.5 1692.5,920.8 1694,920.8 1695.5,921.9 1697,918.5 1698.5,920.8 1700,920.8 1701.5,920.8 1703,918.5 1704.5,920.8 1706,918.5 1707.5,918.5 1709,923.1 1710.5,920.8 1712,923.1 1713.5,919.6 1715,919.6 1716.5,920.8 1718,920.8 1719.5,921.9 1721,920.8 1722.5,919.6 1724,920.8 1725.5,920.8 1727,918.5 1728.5,923.1 1730,920.8 1731.5,921.9 1733,921.9 1734.5,919.6 1736,923.1 1737.5,918.5 1739,918.5 1740.5,923.1 1742,920.8 1743.5,920.8 1745,921.9 1746.5,919.6 1748,923.1 1749.5,920.8 1751,920.8 1752.5,918.5 1754,921.9 1755.5,919.6 1757,919.6 1758.5,920.8 1760,920.8 1761.5,920.8 1763,920.8 1764.5,920.8 1766,920.8 1767.5,923.1 1769,923.1 1770.5,923.1 1772,920.8 1773.5,920.8 1775,923.1 1776.5,919.6 1778,920.8 1779.5,920.8 1781,921.9 1782.5,923.1 1784,920.8 1785.5,918.5 1787,919.6 1788.5,923.1 1790,919.6 1791.5,918.5 1793,919.6 1794.5,921.9 1796,920.8 1797.5,921.9 1799,919.6 1800.5,920.8 1802,920.8 1803.5,920.8 1805,920.8 1806.5,919.6 1808,921.9 1809.5,919.6 1811,919.6 1812.5,918.5 1814,919.6 1815.5,920.8 1817,921.9 1818.5,918.5 1820,920.8 1821.5,919.6 1823,920.8 1824.5,920.8 1826,921.9 1827.5,919.6 1829,918.5 1830.5,923.1 1832,920.8 1833.5,920.8 1835,920.8 1836.5,923.1 1838,921.9 1839.5,919.6 1841,920.8 1842.5,920.8 1844,920.8 1845.5,918.5 1847,920.8 1848.5,920.8 1850,921.9 1851.5,920.8 1853,919.6 1854.5,923.1 1856,921.9 1857.5,921.9 1859,923.1 1860.5,919.6 1862,918.5 1863.5,920.8 1865,919.6 1866.5,920.8 1868,920.8 1869.5,923.1 1871,920.8 1872.5,920.8 1874,920.8 1875.5,918.5 1877,919.6 1878.5,918.5 1880,920.8 1881.5,923.1 1883,920.8 1884.5,921.9 1886,920.8 1887.5,918.5 1889,918.5 1890.5,920.8 1892,921.9 1893.5,920.8 1895,920.8 1896.5,919.6 1898,918.5 1899.5,919.6 1901,919.6 1902.5,919.6 1904,921.9 1905.5,923.1 1907,918.5 1908.5,923.1 1910,923.1 1911.5,923.1 1913,920.8 1914.5,918.5 1916,921.9 1917.5,918.5 1919,918.5 1920.5,919.6 1922,919.6 1923.5,921.9 1925,918.5 1926.5,923.1 1928,923.1 1929.5,920.8 1931,919.6 1932.5,923.1 1934,920.8 1935.5,921.9 1937,923.1 1938.5,920.8 1940,923.1 1941.5,918.5 1943,918.5" stroke="#12d3d7" stroke-width="2.9" fill="none" stroke-linejoin="round"/>
<path d="M215,858 216.5,859 218,860 219.5,861 221,862 222.7,861.7 224.3,861.3 226,861 226.2,859.4 226.5,857.8 226.8,856.2 227,854.6 227.2,853 227.5,851.4 227.8,849.8 228,848.2 228.2,846.6 228.5,845 228.5,843.5 228.6,842 228.6,840.4 228.7,838.9 228.7,837.4 228.7,835.9 228.8,834.3 228.8,832.8 228.8,831.3 228.9,829.8 228.9,828.3 229,826.7 229,825.2 229,823.7 229.1,822.2 229.1,820.6 229.2,819.1 229.2,817.6 229.9,815.9 230.6,814.3 231.3,812.6 231.9,811 232.6,809.3 233.3,807.7 234,806 235,804.5 236,803 237,801.5 238,800 239,798.5 240,797 240.8,795.5 241.6,794 242.3,792.5 243.1,791 243.9,789.5 244.7,788 245.4,786.5 246.2,785 247,783.5 248.1,781.9 249.2,780.2 250.3,778.6 251.4,777 252.4,775.3 253.5,773.7 254.6,772.1 255.7,770.4 256.8,768.8 258.4,767.5 260.1,766.2 261.7,764.9 263.3,763.6 264.9,762.3 266.6,761 268.2,759.7 269.7,759.4 271.3,759.2 272.8,758.9 274.4,758.7 275.9,758.4 277.4,758.1 279,757.9 280.5,757.6 282,757.4 283.6,757.1 285.1,756.8 286.7,756.6 288.2,756.3 289.7,756 291.3,755.8 292.8,755.5 294.4,755.3 295.9,755 297.4,755 298.9,755 300.4,755 301.9,754.5 303.4,755 304.9,756 306.4,754 307.9,754 309.5,755.5 311,754.1 312.5,755.1 314,755.6 315.5,754.1 317,755.6 318.5,754.6 320,754.1 321.5,754.1 323,755.1 324.5,755.1 326,754.1 327.5,754.6 329,754.1 330.5,755.6 332,755.1 333.5,754.1 335,755.6 336.6,754.1 338.1,754.6 339.6,756.2 341.1,756.2 342.6,755.7 344.1,754.2 345.6,755.7 347.1,755.7 348.6,755.2 350.1,754.2 351.6,754.7 353.1,754.2 354.6,755.7 356.1,754.7 357.6,755.2 359.1,755.2 360.6,754.7 362.2,755.7 363.7,754.2 365.2,755.7 366.7,755.2 368.2,755.8 369.7,756.3 371.2,754.8 372.7,754.3 374.2,755.8 375.7,755.8 377.2,756.3 378.7,754.8 380.2,755.3 381.7,754.3 383.2,755.8 384.7,756.3 386.2,754.3 387.8,755.8 389.3,754.3 390.8,755.8 392.3,754.8 393.8,755.3 395.3,756.3 396.8,755.9 398.3,755.4 399.8,755.4 401.3,755.4 402.8,755.9 404.3,755.4 405.8,755.4 407.3,755.4 408.8,754.9 410.3,754.9 411.8,756.4 413.3,754.9 414.9,754.4 416.4,755.9 417.9,755.4 419.4,755.9 420.9,755.4 422.4,755.4 423.9,756.4 425.4,755.5 426.9,755.5 428.4,756 429.9,754.5 431.4,754.5 432.9,756 434.4,755.5 435.9,755 437.4,755.5 438.9,755 440.5,755.5 442,755.5 443.5,754.5 445,756.5 446.5,754.5 448,756 449.5,756 451,755.5 452.5,755.5 454,756.5 455.5,755.6 457,756.1 458.5,755.6 460,756.1 461.5,755.6 463,754.6 464.5,754.6 466.1,755.6 467.6,755.6 469.1,756.6 470.6,756.6 472.1,754.6 473.6,754.6 475.1,756.6 476.6,756.6 478.1,755.6 479.6,756.6 481.1,756.1 482.6,756.6 484.1,755.7 485.6,755.7 487.1,756.7 488.6,755.7 490.1,756.7 491.6,755.7 493.2,754.7 494.7,755.7 496.2,755.7 497.7,755.2 499.2,756.2 500.7,754.7 502.2,755.7 503.7,754.7 505.2,755.2 506.7,755.7 508.2,755.2 509.7,756.7 511.2,755.2 512.7,755.8 514.2,755.8 515.7,755.8 517.2,754.8 518.8,755.3 520.3,755.8 521.8,755.8 523.3,756.3 524.8,755.8 526.3,755.3 527.8,755.8 529.3,756.3 530.8,755.8 532.3,756.8 533.8,755.8 535.3,755.8 536.8,756.8 538.3,755.8 539.8,755.3 541.3,755.4 542.8,754.9 544.4,755.4 545.9,755.4 547.4,755.4 548.9,756.9 550.4,755.4 551.9,754.9 553.4,755.9 554.9,756.4 556.4,755.4 557.9,755.9 559.4,755.9 560.9,754.9 562.4,755.4 563.9,755.9 565.4,756.4 566.9,755.9 568.4,756.4 569.9,756.5 571.5,756 573,755.5 574.5,757 576,756.5 577.5,756.5 579,757 580.5,757 582,757 583.5,755 583.6,757.6 583.8,760.2 583.9,761.2 584,762.3 584.1,763.9 584.2,765.5 584.4,767.1 584.5,768.7 584.6,770.2 584.8,771.8 584.9,773.4 585,775 585.2,776.5 585.4,778 585.5,779.5 585.7,781.1 585.9,782.6 586.1,784.1 586.3,785.6 586.5,787.1 586.7,788.7 586.8,790.2 587,791.7 587.2,793.2 588.7,794.7 590.2,796.2 591.7,797.7 593.2,799.2 594.7,800.7 596.2,802.2 597.7,803.8 599.2,805.3 600.7,806.8 602.2,808.3 603.7,809.8 605.2,811.3 606.7,812.8 608.3,814 609.9,815.3 611.5,816.5 613.2,817.8 614.8,819 616.4,820.3 618,821.5 619.6,821.7 621.1,821.8 622.7,822 624.3,822.2 625.9,820.1 627.4,822.5 629,824.9 630.6,822.8 632.1,820.8 633.7,822 635.3,821.1 636.9,822.4 638.4,823.6 640,822.7 641.5,821.6 643,823.7 644.5,824.8 646,821.5 647.5,821.4 649.1,821.4 650.6,824.7 652.1,822.4 653.6,824.6 655.1,821.3 656.6,823.4 658.1,824.5 659.6,821.2 661.1,821.1 662.6,822.2 664.2,824.4 665.7,823.2 667.2,822.1 668.7,825.4 670.2,823.1 671.7,823.1 673.2,824.2 674.7,823 676.2,823 677.7,820.8 679.2,820.7 680.8,822.9 682.3,822.8 683.8,822.8 685.3,822.8 686.8,822.7 688.3,820.5 689.8,821.6 691.3,820.4 692.8,824.8 694.3,822.6 695.8,824.7 697.4,822.5 698.9,822.5 700.4,824.6 701.9,821.3 703.4,823.5 704.9,820.1 706.4,821.2 707.9,823.4 709.4,822.2 710.9,821.1 712.5,824.4 714,823.2 715.5,819.9 717,823.2 718.5,822 720,824.2 721.5,819.8 723,824.1 724.5,821.9 726,823 727.5,821.8 729.1,820.7 730.6,821.8 732.1,820.6 733.6,822.8 735.1,822.8 736.6,822.7 738.1,821.6 739.6,823.8 741.1,820.4 742.6,822.6 744.2,820.4 745.7,820.3 747.2,821.4 748.7,823.6 750.2,820.2 751.7,820.2 753.2,822.4 754.7,821.2 756.2,821.2 757.7,823.4 759.2,818.9 760.8,818.9 762.3,821 763.8,821 765.3,821 766.8,819.8 768.3,823.1 769.8,822 771.3,820.8 772.8,820.8 774.3,823 775.8,820.7 777.4,820.7 778.9,818.5 780.4,819.5 781.9,818.4 783.4,819.5 784.9,820.5 786.4,819.4 787.9,820.5 789.4,819.3 790.9,820.4 792.5,821.5 794,821.4 795.5,818.1 797,820.3 798.5,822.4 800,820.2 801.5,822.4 803,817.9 804.5,822.3 806,817.8 807.5,820 809,822.2 810.5,818.8 812,819.9 813.5,818.8 815,819.8 816.5,822 818.1,819.7 819.6,817.5 821.1,821.9 822.6,819.6 824.1,819.6 825.6,819.6 827.1,821.7 828.6,817.3 830.1,821.6 831.6,818.3 833.1,818.3 834.6,818.2 836.1,817.1 837.6,818.1 839.1,820.3 840.6,819.2 842.1,821.3 843.6,818 845.1,820.2 846.6,820.1 848.1,819 849.6,821.1 851.2,818.9 852.7,817.8 854.2,819.9 855.7,819.9 857.2,817.6 858.7,816.5 860.2,816.5 861.7,820.8 863.2,820.8 864.7,816.4 866.2,819.6 867.7,820.7 869.2,817.3 870.7,818.4 872.2,817.3 873.7,817.2 875.2,816.1 876.7,818.3 878.2,817.1 879.7,818.2 881.2,819.2 882.8,817 884.3,819.2 885.8,818 887.3,818 888.8,819 890.3,817.9 891.8,816.8 893.3,815.6 894.8,820 896.3,817.8 897.8,817.7 899.3,819.9 900.8,818.7 902.3,818.7 903.8,817.6 905.3,818.6 906.8,816.4 908.3,818.6 909.8,816.3 911.3,818.5 912.8,818.4 914.3,815.1 915.9,817.3 917.4,816.1 918.9,818.3 920.4,814.9 921.9,816 923.4,816 924.9,815.9 926.4,817 927.9,818.1 929.4,819.1 930.9,814.7 932.4,817.9 933.9,814.6 935.4,816.8 936.9,818.9 938.4,817.8 939.9,817.7 941.4,817.7 942.9,816.6 944.4,814.3 945.9,817.6 947.4,814.3 949,815.3 950.5,815.3 952,816.3 953.5,814.1 955,814.1 956.5,817.3 958,816.2 959.5,817.3 961,813.9 962.5,813.9 964,816 965.5,816 967.5,818 967.8,819.6 968,821.2 968.2,822.8 968.5,824.4 968.8,825.9 969,827.5 969.2,829.1 969.5,830.7 972,832 973.5,833 975,834 976.5,835.1 978,836.1 979.5,837.1 981,838.1 982.5,839.2 984,840.2 985.5,841.2 987,842.2 988.5,843.3 990,844.3 991.5,845.3 993,845.5 994.6,845.7 996.1,846.8 997.7,847 999.2,847.2 1000.8,847.4 1002.3,845.6 1003.8,848.8 1005.4,847 1006.9,847.1 1008.5,848.3 1010,848.5 1011.5,847.5 1013,848.5 1014.5,846.5 1016,849.5 1017.5,848.5 1019,847.5 1020.5,848.5 1022,846.5 1023.5,847.5 1025,846.5 1026.5,847.5 1028,845.5 1029.5,847.5 1031,847.5 1032.5,847.5 1034,845.5 1035.5,849.5 1037,846.5 1038.5,847.5 1040,845.5 1041.6,846.5 1043.1,849.5 1044.6,847.5 1046.1,845.5 1047.6,846.5 1049.1,849.5 1050.6,849.5 1052.1,849.5 1053.6,847.5 1055.1,846.5 1056.6,847.5 1058.1,846.5 1059.6,847.5 1061.1,846.5 1062.6,849.5 1064.1,845.5 1065.6,847.5 1067.1,847.5 1068.6,846.5 1070.1,849.5 1071.6,846.5 1073.1,846.5 1074.6,849.5 1076.1,847.5 1077.6,848.5 1079.1,847.5 1080.6,847.5 1082.1,847.5 1083.6,846.5 1085.1,847.5 1086.6,847.5 1088.1,845.4 1089.6,849.4 1091.1,847.4 1092.6,845.4 1094.1,847.4 1095.6,848.4 1097.1,847.4 1098.6,847.4 1100.1,849.4 1101.6,845.4 1103.2,847.4 1104.7,847.4 1106.2,848.4 1107.7,848.4 1109.2,847.4 1110.7,848.4 1112.2,845.4 1113.7,845.4 1115.2,846.4 1116.7,845.4 1118.2,845.4 1119.7,847.4 1121.2,847.4 1122.7,845.4 1124.2,846.4 1125.7,847.4 1127.2,846.4 1128.7,847.4 1130.2,849.4 1131.7,847.4 1133.2,847.4 1134.7,846.4 1136.2,848.4 1137.7,848.4 1139.2,848.4 1140.7,847.4 1142.2,849.4 1143.7,847.4 1145.2,845.4 1146.7,847.4 1148.2,845.4 1149.7,849.4 1151.2,846.4 1152.7,847.4 1154.2,845.4 1155.7,847.4 1157.2,845.4 1158.7,849.4 1160.2,845.4 1161.7,847.4 1163.2,845.4 1164.8,848.4 1166.3,846.4 1167.8,845.4 1169.3,847.4 1170.8,845.4 1172.3,847.4 1173.8,845.4 1175.3,847.4 1176.8,848.4 1178.3,847.4 1179.8,847.4 1181.3,848.4 1182.8,846.4 1184.3,845.4 1185.8,848.4 1187.3,849.4 1188.8,846.4 1190.3,845.4 1191.8,846.4 1193.3,847.4 1194.8,845.4 1196.3,846.4 1197.8,846.4 1199.3,847.4 1200.8,849.4 1202.3,847.4 1203.8,848.4 1205.3,846.4 1206.8,847.4 1208.3,847.4 1209.8,848.4 1211.3,849.4 1212.8,846.4 1214.3,847.4 1215.8,847.4 1217.3,845.4 1218.8,847.4 1220.3,845.4 1221.8,845.4 1223.3,845.4 1224.8,849.4 1226.3,848.4 1227.9,848.4 1229.4,846.4 1230.9,848.4 1232.4,847.4 1233.9,846.4 1235.4,847.4 1236.9,845.4 1238.4,849.4 1239.9,849.4 1241.4,847.4 1242.9,849.3 1244.4,847.3 1245.9,848.3 1247.4,847.3 1248.9,848.3 1250.4,847.3 1251.9,849.3 1253.4,846.3 1254.9,846.3 1256.4,847.3 1257.9,846.3 1259.4,849.3 1260.9,849.3 1262.4,849.3 1263.9,846.3 1265.4,847.3 1266.9,847.3 1268.4,845.3 1269.9,846.3 1271.4,845.3 1272.9,845.3 1274.4,849.3 1275.9,849.3 1277.4,847.3 1278.9,847.3 1280.4,846.3 1281.9,845.3 1283.4,845.3 1284.9,849.3 1286.4,847.3 1287.9,848.3 1289.5,849.3 1291,847.3 1292.5,848.3 1294,846.3 1295.5,849.3 1297,847.3 1298.5,845.3 1300,847.3 1301.5,846.3 1303,846.3 1304.5,847.3 1306,847.3 1307.5,845.3 1309,847.3 1310.5,847.3 1312,847.3 1313.5,848.3 1315,847.3 1316.5,846.3 1318,845.3 1319.5,847.3 1319.6,848.8 1319.6,850.3 1319.7,851.8 1319.8,853.3 1319.8,854.8 1319.9,856.3 1319.9,857.8 1320,859.3 1320.1,860.8 1320.1,862.3 1320.2,863.8 1320.2,865.3 1320.3,866.8 1320.4,868.3 1320.4,869.8 1320.5,871.3 1321.7,872.8 1322.8,874.3 1324,875.9 1325.2,877.4 1326.3,878.9 1327.5,880.4 1328.6,881.9 1329.8,883.4 1331,885 1332.1,886.5 1333.3,888 1334.3,889.5 1335.3,891.1 1336.2,892.6 1337.2,894.2 1338.2,895.7 1339.2,897.2 1340.1,898.8 1341.1,900.3 1342.1,901.8 1343.1,903.4 1344,904.9 1345,906.5 1346,908 1347.6,909.4 1349.3,910.8 1350.9,912.2 1352.6,913.6 1354.2,915 1355.8,915.5 1357.3,915.9 1358.9,916.4 1360.5,916.8 1362.1,917.2 1363.7,917.7 1365.2,918.1 1366.8,918.6 1368.3,918.7 1369.8,918.8 1371.3,918.9 1372.8,917.9 1374.3,919.1 1375.9,918.1 1377.4,917 1378.9,919.4 1380.4,919.5 1381.9,917.3 1383.4,919.7 1384.9,919.8 1386.4,921 1387.9,922.3 1389.4,919 1390.9,919 1392.5,921.4 1394,918.1 1395.5,918.2 1397,920.6 1398.5,918.4 1400,919.6 1401.5,920.8 1403,921.9 1404.5,918.5 1406,920.8 1407.5,918.5 1409,920.8 1410.5,920.8 1412,923.1 1413.5,919.6 1415,918.5 1416.5,921.9 1418,921.9 1419.5,919.6 1421,923.1 1422.5,923.1 1424,921.9 1425.5,920.8 1427,920.8 1428.5,923.1 1430,920.8 1431.5,919.6 1433,920.8 1434.5,923.1 1436,921.9 1437.5,923.1 1439,919.6 1440.5,918.5 1442,923.1 1443.5,921.9 1445,923.1 1446.5,920.8 1448,923.1 1449.5,923.1 1451,921.9 1452.5,919.6 1454,921.9 1455.5,921.9 1457,921.9 1458.5,918.5 1460,923.1 1461.5,921.9 1463,923.1 1464.5,923.1 1466,923.1 1467.5,923.1 1469,919.6 1470.5,918.5 1472,918.5 1473.5,918.5 1475,919.6 1476.5,923.1 1478,920.8 1479.5,918.5 1481,920.8 1482.5,920.8 1484,921.9 1485.5,918.5 1487,923.1 1488.5,918.5 1490,923.1 1491.5,921.9 1493,923.1 1494.5,919.6 1496,920.8 1497.5,920.8 1499,918.5 1500.5,920.8 1502,918.5 1503.5,923.1 1505,921.9 1506.5,921.9 1508,918.5 1509.5,923.1 1511,921.9 1512.5,918.5 1514,923.1 1515.5,923.1 1517,920.8 1518.5,920.8 1520,918.5 1521.5,920.8 1523,919.6 1524.5,923.1 1526,919.6 1527.5,919.6 1529,923.1 1530.5,923.1 1532,920.8 1533.5,920.8 1535,920.8 1536.5,918.5 1538,920.8 1539.5,923.1 1541,920.8 1542.5,918.5 1544,921.9 1545.5,923.1 1547,923.1 1548.5,919.6 1550,918.5 1551.5,921.9 1553,919.6 1554.5,920.8 1556,920.8 1557.5,923.1 1559,923.1 1560.5,923.1 1562,920.8 1563.5,921.9 1565,921.9 1566.5,919.6 1568,918.5 1569.5,920.8 1571,918.5 1572.5,920.8 1574,920.8 1575.5,923.1 1577,918.5 1578.5,923.1 1580,919.6 1581.5,923.1 1583,920.8 1584.5,920.8 1586,923.1 1587.5,921.9 1589,920.8 1590.5,920.8 1592,920.8 1593.5,920.8 1595,918.5 1596.5,921.9 1598,919.6 1599.5,920.8 1601,918.5 1602.5,920.8 1604,918.5 1605.5,920.8 1607,920.8 1608.5,918.5 1610,921.9 1611.5,920.8 1613,920.8 1614.5,920.8 1616,919.6 1617.5,919.6 1619,918.5 1620.5,921.9 1622,918.5 1623.5,919.6 1625,923.1 1626.5,921.9 1628,920.8 1629.5,920.8 1631,919.6 1632.5,921.9 1634,923.1 1635.5,921.9 1637,920.8 1638.5,918.5 1640,923.1 1641.5,920.8 1643,919.6 1644.5,920.8 1646,920.8 1647.5,920.8 1649,918.5 1650.5,919.6 1652,918.5 1653.5,920.8 1655,923.1 1656.5,920.8 1658,920.8 1659.5,920.8 1661,923.1 1662.5,919.6 1664,920.8 1665.5,920.8 1667,920.8 1668.5,920.8 1670,918.5 1671.5,920.8 1673,918.5 1674.5,920.8 1676,920.8 1677.5,920.8 1679,918.5 1680.5,919.6 1682,923.1 1683.5,918.5 1685,923.1 1686.5,920.8 1688,920.8 1689.5,920.8 1691,918.5 1692.5,920.8 1694,920.8 1695.5,921.9 1697,918.5 1698.5,920.8 1700,920.8 1701.5,920.8 1703,918.5 1704.5,920.8 1706,918.5 1707.5,918.5 1709,923.1 1710.5,920.8 1712,923.1 1713.5,919.6 1715,919.6 1716.5,920.8 1718,920.8 1719.5,921.9 1721,920.8 1722.5,919.6 1724,920.8 1725.5,920.8 1727,918.5 1728.5,923.1 1730,920.8 1731.5,921.9 1733,921.9 1734.5,919.6 1736,923.1 1737.5,918.5 1739,918.5 1740.5,923.1 1742,920.8 1743.5,920.8 1745,921.9 1746.5,919.6 1748,923.1 1749.5,920.8 1751,920.8 1752.5,918.5 1754,921.9 1755.5,919.6 1757,919.6 1758.5,920.8 1760,920.8 1761.5,920.8 1763,920.8 1764.5,920.8 1766,920.8 1767.5,923.1 1769,923.1 1770.5,923.1 1772,920.8 1773.5,920.8 1775,923.1 1776.5,919.6 1778,920.8 1779.5,920.8 1781,921.9 1782.5,923.1 1784,920.8 1785.5,918.5 1787,919.6 1788.5,923.1 1790,919.6 1791.5,918.5 1793,919.6 1794.5,921.9 1796,920.8 1797.5,921.9 1799,919.6 1800.5,920.8 1802,920.8 1803.5,920.8 1805,920.8 1806.5,919.6 1808,921.9 1809.5,919.6 1811,919.6 1812.5,918.5 1814,919.6 1815.5,920.8 1817,921.9 1818.5,918.5 1820,920.8 1821.5,919.6 1823,920.8 1824.5,920.8 1826,921.9 1827.5,919.6 1829,918.5 1830.5,923.1 1832,920.8 1833.5,920.8 1835,920.8 1836.5,923.1 1838,921.9 1839.5,919.6 1841,920.8 1842.5,920.8 1844,920.8 1845.5,918.5 1847,920.8 1848.5,920.8 1850,921.9 1851.5,920.8 1853,919.6 1854.5,923.1 1856,921.9 1857.5,921.9 1859,923.1 1860.5,919.6 1862,918.5 1863.5,920.8 1865,919.6 1866.5,920.8 1868,920.8 1869.5,923.1 1871,920.8 1872.5,920.8 1874,920.8 1875.5,918.5 1877,919.6 1878.5,918.5 1880,920.8 1881.5,923.1 1883,920.8 1884.5,921.9 1886,920.8 1887.5,918.5 1889,918.5 1890.5,920.8 1892,921.9 1893.5,920.8 1895,920.8 1896.5,919.6 1898,918.5 1899.5,919.6 1901,919.6 1902.5,919.6 1904,921.9 1905.5,923.1 1907,918.5 1908.5,923.1 1910,923.1 1911.5,923.1 1913,920.8 1914.5,918.5 1916,921.9 1917.5,918.5 1919,918.5 1920.5,919.6 1922,919.6 1923.5,921.9 1925,918.5 1926.5,923.1 1928,923.1 1929.5,920.8 1931,919.6 1932.5,923.1 1934,920.8 1935.5,921.9 1937,923.1 1938.5,920.8 1940,923.1 1941.5,918.5 1943,918.5" stroke="#0aa4a8" stroke-width="1.1" fill="none" stroke-dasharray="3 3.5"/>
<path d="M215,829 216.6,829 218.1,829 219.7,829 221.3,829 222.9,829 224.4,829 226,829 226.1,830.5 226.3,832 226.4,833.5 226.6,835 226.7,836.5 226.9,838 227,839.5 227.1,841 227.3,842.5 227.4,844 227.6,845.5 227.7,847 227.9,848.5 228,850 228.1,851.5 228.1,853.1 228.2,854.6 228.3,856.1 228.3,857.7 228.4,859.2 228.5,860.7 228.5,862.3 228.6,863.8 228.7,865.3 228.7,866.9 228.8,868.4 228.9,869.9 228.9,871.5 229,873 230.7,874.5 232.4,876 234.2,876.5 236,877 237,878.9 238,880.8 239,882.7 239.6,884.2 240.3,885.7 240.9,887.3 241.6,888.8 242.2,890.3 242.9,891.8 243.5,893.3 244.2,894.9 244.8,896.4 245.5,897.9 246.1,899.4 246.8,900.9 247.4,902.5 248.1,904 248.7,905.5 249.7,907.1 250.7,908.8 251.7,910.4 252.8,912 253.8,913.6 254.8,915.2 255.8,916.9 256.8,918.5 258.4,920.1 260.1,921.8 261.7,923.4 263.3,925.1 264.9,926.7 266.6,928.4 268.2,930 269.8,930.4 271.5,930.8 273.1,931.3 274.7,931.7 276.4,932.1 278,932.5 279.6,933 281.3,933.4 282.9,933.8 284.5,932.9 286,934 287.6,934.6 289.1,934.7 290.7,933.8 292.2,934.3 293.8,934.4 295.3,934 296.9,935.1 298.4,933.7 300,933.8 301.5,935.3 303,934.8 304.5,934.8 306,934.8 307.5,934.8 309,935.8 310.5,934.3 312,934.8 313.5,935.3 315,934.3 316.5,935.3 318,934.3 319.5,933.8 321,934.8 322.5,935.8 324,935.8 325.5,934.8 327,933.8 328.5,933.8 330,934.3 331.5,934.8 333,935.8 334.5,935.8 336,934.8 337.5,933.8 339,934.8 340.5,934.3 342,935.8 343.5,934.8 345,934.8 346.5,934.3 348,934.8 349.5,933.8 351,935.8 352.5,934.8 354,935.8 355.5,934.8 357,934.8 358.5,935.8 360,934.8 361.5,934.3 363,933.8 364.5,934.8 366,935.8 367.5,935.3 369,933.8 370.5,934.3 372,934.8 373.5,934.3 375,934.8 376.5,934.3 378,934.3 379.5,934.8 381,934.3 382.5,934.8 384,934.8 385.5,933.8 387,935.3 388.5,934.8 390,935.3 391.5,934.3 393,934.3 394.5,934.8 396,934.8 397.5,935.8 399,933.8 400.5,935.3 402,934.3 403.5,934.8 405,933.8 406.5,934.3 408,933.8 409.5,935.3 411,934.3 412.5,934.8 414,933.8 415.5,935.8 417,933.8 418.5,934.3 420,934.8 421.5,934.8 423,935.8 424.5,934.8 426,935.8 427.5,933.8 429,933.8 430.5,934.3 432,934.8 433.5,934.3 435,934.3 436.5,935.8 438,935.3 439.5,935.8 441,934.8 442.5,933.8 444,934.8 445.5,935.8 447,935.8 448.5,934.8 450,934.8 451.5,934.8 453,934.8 454.5,934.3 456,933.8 457.5,933.8 459,933.8 460.5,934.8 462,933.8 463.5,934.8 465,934.8 466.5,933.8 468,935.3 469.5,934.3 471,934.8 472.5,934.8 474,934.8 475.5,934.8 477,933.8 478.5,933.8 480,935.8 481.5,934.8 483,934.3 484.5,934.8 486,935.3 487.5,934.8 489,934.3 490.5,934.8 492,934.8 493.5,935.8 495,934.8 496.5,933.8 498,935.8 499.5,934.8 501,934.3 502.5,935.8 504,934.8 505.5,933.8 507,934.8 508.5,933.8 510,934.8 511.5,933.8 513,933.8 514.5,934.8 516,934.3 517.5,935.8 519,933.8 520.5,935.3 522,934.8 523.5,934.8 525,934.8 526.5,934.8 528,935.3 529.5,933.8 531,934.8 532.5,935.8 534,935.8 535.5,935.8 537,934.8 538.5,934.8 540,934.8 541.5,933.8 543,935.8 544.5,935.3 546,935.8 547.5,933.8 549,933.8 550.5,934.3 552,933.8 553.5,934.8 555,935.8 556.5,934.8 558,934.8 559.5,934.8 561,934.8 562.5,934.8 564,934.3 565.5,934.8 567,934.3 568.5,933.8 570,935.8 571.5,934.8 573,935.8 574.5,934.3 576,935.3 577.5,934.3 579,934.8 580.5,934.8 582,934.8 583.5,934.8 583.6,933.8 583.7,930.8 583.8,930.7 584,928.2 584.1,927.2 584.2,925.7 584.3,924.1 584.4,922.6 584.5,921.1 584.7,919.6 584.8,918 584.9,916.5 585,915 585.2,913.4 585.5,911.8 585.7,910.2 586,908.6 586.2,907 586.5,905.4 586.7,903.8 587,902.2 587.2,900.6 588.8,900 590.5,899.3 592.1,898.7 593.8,898 595.4,897.4 596.4,895.8 597.5,894.1 598.5,892.5 599.5,890.9 600.5,889.3 601.6,887.6 602.6,886 603.6,884.4 604.6,882.8 605.7,881.1 606.7,879.5 608.1,878 609.4,876.5 610.8,875 612.2,873.4 613.5,871.9 614.9,870.4 616.5,869.8 618.2,869.3 619.8,868.7 621.4,868.2 623,867.6 624.7,867 626.3,866.5 627.9,865.9 629.6,865.4 631.2,864.8 632.7,864.9 634.2,863.9 635.7,864 637.3,865.2 638.8,863 640.3,867.5 641.8,863.2 643.3,865.5 644.8,866.7 646.4,866.8 647.9,865.8 649.4,864.8 650.9,866 652.4,863.9 653.9,863.9 655.5,866.2 657,867.4 658.5,864.2 660,865.4 661.5,864.3 663,866.6 664.5,866.6 666,868.9 667.5,866.7 669,865.7 670.5,865.7 672,865.7 673.5,866.9 675.1,866.9 676.6,868.1 678.1,869.2 679.6,865.9 681.1,869.3 682.6,868.2 684.1,869.4 685.6,865 687.1,867.3 688.6,867.3 690.1,867.3 691.6,868.5 693.1,867.4 694.6,867.5 696.1,867.5 697.6,869.7 699.1,867.6 700.6,866.5 702.2,867.7 703.7,866.6 705.2,866.7 706.7,866.7 708.2,866.7 709.7,866.8 711.2,867.9 712.7,869.1 714.2,866.9 715.7,868.1 717.2,865.9 718.7,868.1 720.2,868.2 721.7,867.1 723.2,869.4 724.7,869.4 726.2,867.2 727.7,870.6 729.2,866.2 730.8,870.7 732.3,868.5 733.8,866.4 735.3,866.4 736.8,866.4 738.3,868.7 739.8,867.6 741.3,868.8 742.8,868.8 744.3,866.6 745.8,868.9 747.3,867.8 748.8,866.8 750.3,866.8 751.8,868 753.3,870.2 754.8,870.2 756.3,868.1 757.8,867 759.4,869.3 760.9,870.4 762.4,868.3 763.9,869.4 765.4,870.5 766.9,869.5 768.4,871.7 769.9,867.4 771.4,867.4 772.9,871.8 774.4,870.8 775.9,871.9 777.4,870.9 778.9,869.8 780.4,868.8 781.9,867.7 783.4,869.9 784.9,870 786.5,868.9 788,867.9 789.5,869 791,870.1 792.5,868 794,871.3 795.5,872.5 797,872.5 798.5,869.3 800,868.2 801.5,870.4 803,870.5 804.5,872.7 806,870.6 807.5,869.5 809,871.7 810.5,870.7 812,868.5 813.5,869.6 815,868.6 816.5,870.8 818.1,872 819.6,870.9 821.1,868.7 822.6,871 824.1,868.8 825.6,871 827.1,873.3 828.6,872.2 830.1,870.1 831.6,873.4 833.1,872.3 834.6,869.1 836.1,873.5 837.6,870.3 839.1,871.4 840.6,873.6 842.1,871.5 843.6,871.5 845.1,871.5 846.6,873.8 848.1,871.6 849.6,871.7 851.2,869.5 852.7,871.7 854.2,874 855.7,872.9 857.2,871.9 858.7,871.9 860.2,871.9 861.7,869.8 863.2,872 864.7,874.2 866.2,871 867.7,872.1 869.2,874.4 870.7,872.2 872.2,871.1 873.7,870.1 875.2,872.3 876.7,871.2 878.2,872.4 879.7,870.2 881.2,870.3 882.8,872.5 884.3,873.6 885.8,872.6 887.3,872.6 888.8,871.6 890.3,871.6 891.8,870.5 893.3,870.6 894.8,873.9 896.3,871.7 897.8,875.1 899.3,872.9 900.8,870.8 902.3,874.1 903.8,874.1 905.3,873.1 906.8,875.3 908.3,874.2 909.8,872.1 911.3,872.1 912.8,873.3 914.3,873.3 915.9,872.2 917.4,874.5 918.9,872.3 920.4,871.3 921.9,871.3 923.4,873.5 924.9,873.6 926.4,872.5 927.9,873.6 929.4,872.6 930.9,871.5 932.4,873.8 933.9,873.8 935.4,871.6 936.9,875 938.4,876.1 939.9,874 941.4,871.8 942.9,876.2 944.4,875.2 945.9,876.3 947.4,873 949,876.4 950.5,873.1 952,875.4 953.5,874.3 955,875.4 956.5,873.3 958,874.4 959.5,873.3 961,875.6 962.5,873.4 964,872.4 965.5,874.6 967.5,872 967.7,870.5 967.9,869 968.2,867.4 968.4,865.9 968.6,864.4 968.8,862.9 969.1,861.3 969.3,859.8 969.5,858.3 971,857.3 972.6,856.3 974.1,855.3 975.6,854.2 977.2,853.2 978.7,852.2 980.3,851.2 981.8,850.2 983.4,849.2 985,848.3 986.7,847.3 988.3,846.4 989.9,845.4 991.5,844.4 993.2,843.5 994.8,842.5 996.3,843.4 997.8,841.4 999.4,842.3 1000.9,842.2 1002.4,840.1 1003.9,841.1 1005.4,841 1007,843.9 1008.5,840.9 1010,839.8 1011.5,842.8 1013,843.8 1014.5,839.8 1016,843.8 1017.5,841.8 1019,839.8 1020.5,841.8 1022,842.8 1023.5,841.8 1025,842.8 1026.5,843.8 1028,841.8 1029.5,843.8 1031,841.8 1032.5,841.8 1034,842.8 1035.5,840.8 1037,841.8 1038.5,841.8 1040,843.8 1041.6,841.8 1043.1,841.8 1044.6,842.8 1046.1,841.8 1047.6,840.8 1049.1,839.8 1050.6,839.8 1052.1,842.8 1053.6,841.8 1055.1,841.8 1056.6,840.8 1058.1,841.8 1059.6,842.8 1061.1,841.8 1062.6,840.8 1064.1,841.8 1065.6,841.8 1067.1,839.8 1068.6,839.8 1070.1,840.8 1071.6,841.8 1073.1,841.8 1074.6,841.8 1076.1,839.8 1077.6,841.8 1079.1,842.8 1080.6,842.8 1082.1,843.8 1083.6,839.8 1085.1,839.8 1086.6,843.8 1088.1,840.9 1089.6,839.9 1091.1,843.9 1092.6,841.9 1094.1,843.9 1095.6,842.9 1097.1,839.9 1098.6,839.9 1100.1,842.9 1101.6,841.9 1103.2,843.9 1104.7,840.9 1106.2,839.9 1107.7,839.9 1109.2,842.9 1110.7,843.9 1112.2,843.9 1113.7,839.9 1115.2,840.9 1116.7,840.9 1118.2,841.9 1119.7,841.9 1121.2,840.9 1122.7,843.9 1124.2,843.9 1125.7,840.9 1127.2,839.9 1128.7,841.9 1130.2,842.9 1131.7,841.9 1133.2,840.9 1134.7,841.9 1136.2,842.9 1137.7,841.9 1139.2,841.9 1140.7,840.9 1142.2,841.9 1143.7,842.9 1145.2,841.9 1146.7,840.9 1148.2,842.9 1149.7,841.9 1151.2,842.9 1152.7,842.9 1154.2,840.9 1155.7,841.9 1157.2,841.9 1158.7,839.9 1160.2,840.9 1161.7,840.9 1163.2,841.9 1164.8,840.9 1166.3,843.9 1167.8,841.9 1169.3,843.9 1170.8,841.9 1172.3,841.9 1173.8,840.9 1175.3,841.9 1176.8,839.9 1178.3,842.9 1179.8,839.9 1181.3,843.9 1182.8,841.9 1184.3,841.9 1185.8,842.9 1187.3,842.9 1188.8,842.9 1190.3,843.9 1191.8,839.9 1193.3,841.9 1194.8,842.9 1196.3,843.9 1197.8,841.9 1199.3,843.9 1200.8,841.9 1202.3,841.9 1203.8,841.9 1205.3,841.9 1206.8,842.9 1208.3,840.9 1209.8,841.9 1211.3,841.9 1212.8,839.9 1214.3,841.9 1215.8,840.9 1217.3,840.9 1218.8,842.9 1220.3,843.9 1221.8,839.9 1223.3,841.9 1224.8,842.9 1226.3,841.9 1227.9,841.9 1229.4,843.9 1230.9,842.9 1232.4,843.9 1233.9,841.9 1235.4,843.9 1236.9,839.9 1238.4,843.9 1239.9,839.9 1241.4,840.9 1242.9,841 1244.4,842 1245.9,843 1247.4,844 1248.9,842 1250.4,842 1251.9,843 1253.4,842 1254.9,840 1256.4,841 1257.9,842 1259.4,841 1260.9,843 1262.4,844 1263.9,840 1265.4,840 1266.9,840 1268.4,840 1269.9,843 1271.4,842 1272.9,842 1274.4,840 1275.9,843 1277.4,842 1278.9,843 1280.4,841 1281.9,842 1283.4,843 1284.9,842 1286.4,843 1287.9,841 1289.5,841 1291,842 1292.5,843 1294,842 1295.5,841 1297,841 1298.5,840 1300,841 1301.5,844 1303,841 1304.5,842 1306,840 1307.5,840 1309,844 1310.5,841 1312,844 1313.5,842 1315,842 1316.5,842 1318,840 1319.5,842 1319.6,840.5 1319.6,839 1319.7,837.4 1319.8,835.9 1319.8,834.4 1319.9,832.9 1319.9,831.3 1320,829.8 1320.1,828.3 1320.1,826.8 1320.2,825.2 1320.2,823.7 1320.3,822.2 1320.4,820.6 1320.4,819.1 1320.5,817.6 1322.1,816.3 1323.6,815 1325.2,813.6 1326.8,812.3 1328.3,811 1329.9,809.6 1331.4,808.3 1333,807 1333.8,805.4 1334.6,803.9 1335.4,802.3 1336.1,800.7 1336.9,799.2 1337.7,797.6 1338.5,796 1339.3,794.5 1340.1,792.9 1340.9,791.4 1341.6,789.8 1342.4,788.2 1343.2,786.7 1344,785.1 1345.6,783.6 1347.2,782.1 1348.8,780.5 1350.3,779 1351.9,777.5 1353.5,776 1355.2,775.5 1356.8,774.9 1358.5,774.4 1360.2,773.8 1361.8,773.2 1363.5,772.7 1365.1,772.1 1366.8,771.6 1368.3,771.6 1369.8,771.5 1371.3,769.2 1372.8,773.7 1374.3,772.5 1375.9,771.3 1377.4,772.4 1378.9,773.5 1380.4,772.3 1381.9,771.1 1383.4,772.2 1384.9,772.2 1386.4,773.3 1387.9,771 1389.4,769.8 1390.9,769.7 1392.5,768.5 1394,768.5 1395.5,768.4 1397,771.8 1398.5,768.3 1400,770.6 1401.5,769.5 1403,769.5 1404.5,769.5 1406,768.3 1407.5,768.3 1409,768.3 1410.5,771.8 1412,771.8 1413.5,772.9 1415,769.5 1416.5,769.5 1418,770.6 1419.5,769.5 1421,771.8 1422.5,771.8 1424,772.9 1425.5,771.8 1427,772.9 1428.5,772.9 1430,770.6 1431.5,771.8 1433,769.5 1434.5,771.8 1436,770.6 1437.5,768.3 1439,770.6 1440.5,772.9 1442,768.3 1443.5,772.9 1445,770.6 1446.5,772.9 1448,771.8 1449.5,768.3 1451,770.6 1452.5,770.6 1454,772.9 1455.5,770.6 1457,768.3 1458.5,772.9 1460,772.9 1461.5,770.6 1463,769.5 1464.5,769.5 1466,768.3 1467.5,770.6 1469,769.5 1470.5,772.9 1472,768.3 1473.5,768.3 1475,770.6 1476.5,772.9 1478,772.9 1479.5,770.6 1481,772.9 1482.5,768.3 1484,770.6 1485.5,772.9 1487,771.8 1488.5,772.9 1490,770.6 1491.5,772.9 1493,771.8 1494.5,770.6 1496,770.6 1497.5,772.9 1499,769.5 1500.5,768.3 1502,771.8 1503.5,768.3 1505,769.5 1506.5,770.6 1508,769.5 1509.5,772.9 1511,769.5 1512.5,769.5 1514,772.9 1515.5,770.6 1517,769.5 1518.5,770.6 1520,770.6 1521.5,771.8 1523,769.5 1524.5,770.6 1526,772.9 1527.5,772.9 1529,772.9 1530.5,771.8 1532,770.6 1533.5,770.6 1535,771.8 1536.5,772.9 1538,768.3 1539.5,768.3 1541,770.6 1542.5,772.9 1544,769.5 1545.5,771.8 1547,770.6 1548.5,769.5 1550,770.6 1551.5,771.8 1553,771.8 1554.5,768.3 1556,771.8 1557.5,769.5 1559,769.5 1560.5,768.3 1562,768.3 1563.5,768.3 1565,768.3 1566.5,771.8 1568,769.5 1569.5,770.6 1571,769.5 1572.5,772.9 1574,768.3 1575.5,768.3 1577,768.3 1578.5,769.5 1580,772.9 1581.5,772.9 1583,772.9 1584.5,768.3 1586,772.9 1587.5,768.3 1589,772.9 1590.5,768.3 1592,768.3 1593.5,771.8 1595,770.6 1596.5,769.5 1598,771.8 1599.5,772.9 1601,768.3 1602.5,772.9 1604,770.6 1605.5,768.3 1607,769.5 1608.5,769.5 1610,769.5 1611.5,768.3 1613,768.3 1614.5,768.3 1616,772.9 1617.5,768.3 1619,772.9 1620.5,772.9 1622,770.6 1623.5,770.6 1625,768.3 1626.5,769.5 1628,768.3 1629.5,772.9 1631,769.5 1632.5,770.6 1634,770.6 1635.5,770.6 1637,770.6 1638.5,770.6 1640,768.3 1641.5,770.6 1643,770.6 1644.5,770.6 1646,768.3 1647.5,772.9 1649,770.6 1650.5,770.6 1652,771.8 1653.5,771.8 1655,770.6 1656.5,770.6 1658,771.8 1659.5,772.9 1661,768.3 1662.5,770.6 1664,768.3 1665.5,770.6 1667,771.8 1668.5,768.3 1670,770.6 1671.5,770.6 1673,772.9 1674.5,768.3 1676,771.8 1677.5,771.8 1679,769.5 1680.5,772.9 1682,768.3 1683.5,771.8 1685,770.6 1686.5,769.5 1688,770.6 1689.5,768.3 1691,771.8 1692.5,769.5 1694,770.6 1695.5,768.3 1697,768.3 1698.5,770.6 1700,770.6 1701.5,768.3 1703,770.6 1704.5,772.9 1706,769.5 1707.5,770.6 1709,771.8 1710.5,770.6 1712,771.8 1713.5,770.6 1715,771.8 1716.5,769.5 1718,770.6 1719.5,769.5 1721,772.9 1722.5,769.5 1724,770.6 1725.5,769.5 1727,768.3 1728.5,772.9 1730,768.3 1731.5,770.6 1733,772.9 1734.5,771.8 1736,768.3 1737.5,772.9 1739,770.6 1740.5,770.6 1742,768.3 1743.5,770.6 1745,770.6 1746.5,772.9 1748,768.3 1749.5,770.6 1751,772.9 1752.5,768.3 1754,770.6 1755.5,769.5 1757,770.6 1758.5,770.6 1760,770.6 1761.5,771.8 1763,771.8 1764.5,769.5 1766,770.6 1767.5,772.9 1769,769.5 1770.5,770.6 1772,769.5 1773.5,771.8 1775,771.8 1776.5,772.9 1778,771.8 1779.5,772.9 1781,768.3 1782.5,770.6 1784,771.8 1785.5,770.6 1787,771.8 1788.5,769.5 1790,770.6 1791.5,772.9 1793,771.8 1794.5,772.9 1796,770.6 1797.5,769.5 1799,770.6 1800.5,770.6 1802,772.9 1803.5,770.6 1805,771.8 1806.5,769.5 1808,769.5 1809.5,770.6 1811,770.6 1812.5,772.9 1814,772.9 1815.5,769.5 1817,771.8 1818.5,769.5 1820,770.6 1821.5,770.6 1823,772.9 1824.5,771.8 1826,769.5 1827.5,772.9 1829,769.5 1830.5,769.5 1832,772.9 1833.5,770.6 1835,771.8 1836.5,771.8 1838,770.6 1839.5,769.5 1841,769.5 1842.5,770.6 1844,769.5 1845.5,770.6 1847,772.9 1848.5,768.3 1850,769.5 1851.5,772.9 1853,768.3 1854.5,769.5 1856,770.6 1857.5,769.5 1859,769.5 1860.5,770.6 1862,772.9 1863.5,770.6 1865,770.6 1866.5,770.6 1868,769.5 1869.5,768.3 1871,772.9 1872.5,768.3 1874,770.6 1875.5,769.5 1877,770.6 1878.5,770.6 1880,768.3 1881.5,768.3 1883,770.6 1884.5,770.6 1886,772.9 1887.5,769.5 1889,771.8 1890.5,772.9 1892,770.6 1893.5,770.6 1895,768.3 1896.5,769.5 1898,770.6 1899.5,771.8 1901,772.9 1902.5,770.6 1904,768.3 1905.5,772.9 1907,769.5 1908.5,770.6 1910,772.9 1911.5,771.8 1913,771.8 1914.5,772.9 1916,772.9 1917.5,770.6 1919,769.5 1920.5,772.9 1922,772.9 1923.5,772.9 1925,772.9 1926.5,772.9 1928,771.8 1929.5,769.5 1931,772.9 1932.5,769.5 1934,772.9 1935.5,768.3 1937,770.6 1938.5,770.6 1940,770.6 1941.5,770.6 1943,772.9" stroke="#1515bc" stroke-width="2.9" fill="none" stroke-linejoin="round"/>
<polygon points="215,743.2 252,743.2 265.6,759.4 252,775.5 215,775.5" fill="#3447c8"/>
<text class="ch" x="222.5" y="766.5" fill="#fff" textLength="22" lengthAdjust="spacingAndGlyphs">C1</text>
<path fill="#000" fill-rule="evenodd" d="M209.6,43.5H1949.6V1004.3H209.6Z M215.1,48.3V998.2H1942.4V48.3Z"/>
<rect x="207.8" y="43" width="2" height="963.5" fill="#59625e"/>
<polygon points="216,972.6 251.5,972.6 264.6,987.7 251.5,1002.8 216,1002.8" fill="#fff" stroke="#e8819a" stroke-width="1.7"/>
<text class="ch" x="223" y="994.5" fill="#e26a88" textLength="22" lengthAdjust="spacingAndGlyphs">C3</text>
<path d="M1070.4,14.3H1088Q1083.6,19.5 1079.2,19.9Q1074.8,19.5 1070.4,14.3Z" fill="#f58a2c"/>
<rect x="1072.2" y="23" width="14" height="14" rx="1.2" fill="#2a1a14" stroke="#7c421c" stroke-width="2"/>
<rect x="1073.4" y="24.2" width="11.6" height="11.6" fill="none" stroke="#b5672a" stroke-width="0.8"/>
<path d="M1075.5,27.4h7.4M1079.2,27.4v7.6" stroke="#ee8a34" stroke-width="1.9" fill="none"/>
<polygon points="1076.2,38 1082.2,38 1079.2,44.5" fill="#a85a20"/>
<polygon points="1066.8,48.2 1091.6,48.2 1079.2,59.6" fill="#f58a2c" stroke="#c86a1e" stroke-width="0.8"/>
<path d="M1878.9,60.6H1931.7V110.6Z" fill="#8b9dc3" stroke="#8b9dc3" stroke-width="2.4" stroke-linejoin="round"/>
<path d="M1876.5,60.2L1932.1,113" stroke="#2f3a52" stroke-width="1.1" stroke-linecap="round"/>
<path d="M1916.4,76L1904.5,86" stroke="#fff" stroke-width="2.8" stroke-linecap="round"/>
<circle cx="1921.6" cy="70.4" r="6.9" fill="#9192cf" stroke="#fff" stroke-width="2"/>
<g fill="#000" filter="url(#sa)">
<polygon points="955,299 899.8,437.3 895.4,430.8 900.6,455.6 920,439.4 912.5,441.7"/>
<polygon points="510,679 516.1,738.5 508.3,735.5 525.4,753.9 533.8,730.2 527.9,736"/>
<polygon points="775.6,727.6 771.2,799.3 763.8,795.5 777.4,816.2 790.2,794.9 782.9,799.1"/>
<polygon points="1163.1,725.4 1165,814.6 1155.3,809.2 1176.6,837.4 1190.6,805 1182.4,812.5"/>
<polygon points="744.5,925.4 708.9,881.2 717.6,879.3 689.4,872.6 697.3,900.5 698.8,891.7"/>
<polygon points="1637.6,683.4 1652.6,752.9 1645.1,750.5 1663.3,767.4 1669,743.2 1664.1,749.4"/>
</g>
<g filter="url(#sh)">
<text class="lb" x="810" y="261.8" font-size="61.3" stroke-width="12" textLength="447" lengthAdjust="spacingAndGlyphs">Battery voltage</text>
<text class="lb" x="244" y="584.7" font-size="58" stroke-width="11.3" textLength="405" lengthAdjust="spacingAndGlyphs">Battery current</text>
<text class="lb" x="383.5" y="650.5" font-size="58" stroke-width="11.3" textLength="129.5" lengthAdjust="spacingAndGlyphs">1.5 A</text>
<text class="lb" x="657" y="658" font-size="41.8" stroke-width="8.2" textLength="303" lengthAdjust="spacingAndGlyphs">Battery current</text>
<text class="lb" x="724" y="705" font-size="40.5" stroke-width="7.9" textLength="178" lengthAdjust="spacingAndGlyphs">70% load</text>
<text class="lb" x="995.5" y="656.5" font-size="41.8" stroke-width="8.2" textLength="401" lengthAdjust="spacingAndGlyphs">Battery/gen. current</text>
<text class="lb" x="1039.5" y="705" font-size="41.8" stroke-width="8.2" textLength="296" lengthAdjust="spacingAndGlyphs">~50%/50% load</text>
<text class="lb" x="756" y="941" font-size="41.8" stroke-width="8.2" textLength="361" lengthAdjust="spacingAndGlyphs">Generator current</text>
<text class="lb" x="822.5" y="988" font-size="41.8" stroke-width="8.2" textLength="180" lengthAdjust="spacingAndGlyphs">30% load</text>
<text class="lb" x="1420" y="588" font-size="50" stroke-width="9.8" textLength="429" lengthAdjust="spacingAndGlyphs">Generator current</text>
<text class="lb" x="1577" y="647" font-size="50" stroke-width="9.8" textLength="121" lengthAdjust="spacingAndGlyphs">1.4 A</text>
</g>
<text class="fg" x="9.2" y="155" font-size="85" textLength="94.9" lengthAdjust="spacingAndGlyphs">(<tspan font-weight="bold">a</tspan>)</text>
<!-- panel b -->
<path d="M240.2,1340.4h1.4M275,1340.4h1.4M309.7,1340.4h1.4M344.5,1340.4h1.4M379.2,1340.4h1.4M413.9,1340.4h1.4M448.7,1340.4h1.4M483.4,1340.4h1.4M518.2,1340.4h1.4M552.9,1340.4h1.4M587.6,1340.4h1.4M622.4,1340.4h1.4M657.1,1340.4h1.4M691.9,1340.4h1.4M726.6,1340.4h1.4M761.3,1340.4h1.4M796.1,1340.4h1.4M830.8,1340.4h1.4M865.6,1340.4h1.4M900.3,1340.4h1.4M935,1340.4h1.4M969.8,1340.4h1.4M1004.5,1340.4h1.4M1039.3,1340.4h1.4M1074,1340.4h1.4M1108.7,1340.4h1.4M1143.5,1340.4h1.4M1178.2,1340.4h1.4M1213,1340.4h1.4M1247.7,1340.4h1.4M1282.4,1340.4h1.4M1317.2,1340.4h1.4M1351.9,1340.4h1.4M1386.7,1340.4h1.4M1421.4,1340.4h1.4M1456.1,1340.4h1.4M1490.9,1340.4h1.4M1525.6,1340.4h1.4M1560.4,1340.4h1.4M1595.1,1340.4h1.4M1629.8,1340.4h1.4M1664.6,1340.4h1.4M1699.3,1340.4h1.4M1734.1,1340.4h1.4M1768.8,1340.4h1.4M1803.5,1340.4h1.4M1838.3,1340.4h1.4M1873,1340.4h1.4M1907.8,1340.4h1.4M240.2,1460.2h1.4M275,1460.2h1.4M309.7,1460.2h1.4M344.5,1460.2h1.4M379.2,1460.2h1.4M413.9,1460.2h1.4M448.7,1460.2h1.4M483.4,1460.2h1.4M518.2,1460.2h1.4M552.9,1460.2h1.4M587.6,1460.2h1.4M622.4,1460.2h1.4M657.1,1460.2h1.4M691.9,1460.2h1.4M726.6,1460.2h1.4M761.3,1460.2h1.4M796.1,1460.2h1.4M830.8,1460.2h1.4M865.6,1460.2h1.4M900.3,1460.2h1.4M935,1460.2h1.4M969.8,1460.2h1.4M1004.5,1460.2h1.4M1039.3,1460.2h1.4M1074,1460.2h1.4M1108.7,1460.2h1.4M1143.5,1460.2h1.4M1178.2,1460.2h1.4M1213,1460.2h1.4M1247.7,1460.2h1.4M1282.4,1460.2h1.4M1317.2,1460.2h1.4M1351.9,1460.2h1.4M1386.7,1460.2h1.4M1421.4,1460.2h1.4M1456.1,1460.2h1.4M1490.9,1460.2h1.4M1525.6,1460.2h1.4M1560.4,1460.2h1.4M1595.1,1460.2h1.4M1629.8,1460.2h1.4M1664.6,1460.2h1.4M1699.3,1460.2h1.4M1734.1,1460.2h1.4M1768.8,1460.2h1.4M1803.5,1460.2h1.4M1838.3,1460.2h1.4M1873,1460.2h1.4M1907.8,1460.2h1.4M240.2,1580h1.4M275,1580h1.4M309.7,1580h1.4M344.5,1580h1.4M379.2,1580h1.4M413.9,1580h1.4M448.7,1580h1.4M483.4,1580h1.4M518.2,1580h1.4M552.9,1580h1.4M587.6,1580h1.4M622.4,1580h1.4M657.1,1580h1.4M691.9,1580h1.4M726.6,1580h1.4M761.3,1580h1.4M796.1,1580h1.4M830.8,1580h1.4M865.6,1580h1.4M900.3,1580h1.4M935,1580h1.4M969.8,1580h1.4M1004.5,1580h1.4M1039.3,1580h1.4M1074,1580h1.4M1108.7,1580h1.4M1143.5,1580h1.4M1178.2,1580h1.4M1213,1580h1.4M1247.7,1580h1.4M1282.4,1580h1.4M1317.2,1580h1.4M1351.9,1580h1.4M1386.7,1580h1.4M1421.4,1580h1.4M1456.1,1580h1.4M1490.9,1580h1.4M1525.6,1580h1.4M1560.4,1580h1.4M1595.1,1580h1.4M1629.8,1580h1.4M1664.6,1580h1.4M1699.3,1580h1.4M1734.1,1580h1.4M1768.8,1580h1.4M1803.5,1580h1.4M1838.3,1580h1.4M1873,1580h1.4M1907.8,1580h1.4M240.2,1819.6h1.4M275,1819.6h1.4M309.7,1819.6h1.4M344.5,1819.6h1.4M379.2,1819.6h1.4M413.9,1819.6h1.4M448.7,1819.6h1.4M483.4,1819.6h1.4M518.2,1819.6h1.4M552.9,1819.6h1.4M587.6,1819.6h1.4M622.4,1819.6h1.4M657.1,1819.6h1.4M691.9,1819.6h1.4M726.6,1819.6h1.4M761.3,1819.6h1.4M796.1,1819.6h1.4M830.8,1819.6h1.4M865.6,1819.6h1.4M900.3,1819.6h1.4M935,1819.6h1.4M969.8,1819.6h1.4M1004.5,1819.6h1.4M1039.3,1819.6h1.4M1074,1819.6h1.4M1108.7,1819.6h1.4M1143.5,1819.6h1.4M1178.2,1819.6h1.4M1213,1819.6h1.4M1247.7,1819.6h1.4M1282.4,1819.6h1.4M1317.2,1819.6h1.4M1351.9,1819.6h1.4M1386.7,1819.6h1.4M1421.4,1819.6h1.4M1456.1,1819.6h1.4M1490.9,1819.6h1.4M1525.6,1819.6h1.4M1560.4,1819.6h1.4M1595.1,1819.6h1.4M1629.8,1819.6h1.4M1664.6,1819.6h1.4M1699.3,1819.6h1.4M1734.1,1819.6h1.4M1768.8,1819.6h1.4M1803.5,1819.6h1.4M1838.3,1819.6h1.4M1873,1819.6h1.4M1907.8,1819.6h1.4M240.2,1939.4h1.4M275,1939.4h1.4M309.7,1939.4h1.4M344.5,1939.4h1.4M379.2,1939.4h1.4M413.9,1939.4h1.4M448.7,1939.4h1.4M483.4,1939.4h1.4M518.2,1939.4h1.4M552.9,1939.4h1.4M587.6,1939.4h1.4M622.4,1939.4h1.4M657.1,1939.4h1.4M691.9,1939.4h1.4M726.6,1939.4h1.4M761.3,1939.4h1.4M796.1,1939.4h1.4M830.8,1939.4h1.4M865.6,1939.4h1.4M900.3,1939.4h1.4M935,1939.4h1.4M969.8,1939.4h1.4M1004.5,1939.4h1.4M1039.3,1939.4h1.4M1074,1939.4h1.4M1108.7,1939.4h1.4M1143.5,1939.4h1.4M1178.2,1939.4h1.4M1213,1939.4h1.4M1247.7,1939.4h1.4M1282.4,1939.4h1.4M1317.2,1939.4h1.4M1351.9,1939.4h1.4M1386.7,1939.4h1.4M1421.4,1939.4h1.4M1456.1,1939.4h1.4M1490.9,1939.4h1.4M1525.6,1939.4h1.4M1560.4,1939.4h1.4M1595.1,1939.4h1.4M1629.8,1939.4h1.4M1664.6,1939.4h1.4M1699.3,1939.4h1.4M1734.1,1939.4h1.4M1768.8,1939.4h1.4M1803.5,1939.4h1.4M1838.3,1939.4h1.4M1873,1939.4h1.4M1907.8,1939.4h1.4M240.2,2059.2h1.4M275,2059.2h1.4M309.7,2059.2h1.4M344.5,2059.2h1.4M379.2,2059.2h1.4M413.9,2059.2h1.4M448.7,2059.2h1.4M483.4,2059.2h1.4M518.2,2059.2h1.4M552.9,2059.2h1.4M587.6,2059.2h1.4M622.4,2059.2h1.4M657.1,2059.2h1.4M691.9,2059.2h1.4M726.6,2059.2h1.4M761.3,2059.2h1.4M796.1,2059.2h1.4M830.8,2059.2h1.4M865.6,2059.2h1.4M900.3,2059.2h1.4M935,2059.2h1.4M969.8,2059.2h1.4M1004.5,2059.2h1.4M1039.3,2059.2h1.4M1074,2059.2h1.4M1108.7,2059.2h1.4M1143.5,2059.2h1.4M1178.2,2059.2h1.4M1213,2059.2h1.4M1247.7,2059.2h1.4M1282.4,2059.2h1.4M1317.2,2059.2h1.4M1351.9,2059.2h1.4M1386.7,2059.2h1.4M1421.4,2059.2h1.4M1456.1,2059.2h1.4M1490.9,2059.2h1.4M1525.6,2059.2h1.4M1560.4,2059.2h1.4M1595.1,2059.2h1.4M1629.8,2059.2h1.4M1664.6,2059.2h1.4M1699.3,2059.2h1.4M1734.1,2059.2h1.4M1768.8,2059.2h1.4M1803.5,2059.2h1.4M1838.3,2059.2h1.4M1873,2059.2h1.4M1907.8,2059.2h1.4M379.2,1244.6h1.4M379.2,1268.5h1.4M379.2,1292.5h1.4M379.2,1316.4h1.4M379.2,1364.4h1.4M379.2,1388.3h1.4M379.2,1412.3h1.4M379.2,1436.2h1.4M379.2,1484.2h1.4M379.2,1508.1h1.4M379.2,1532.1h1.4M379.2,1556h1.4M379.2,1604h1.4M379.2,1627.9h1.4M379.2,1651.9h1.4M379.2,1675.8h1.4M379.2,1723.8h1.4M379.2,1747.7h1.4M379.2,1771.7h1.4M379.2,1795.6h1.4M379.2,1843.6h1.4M379.2,1867.5h1.4M379.2,1891.5h1.4M379.2,1915.4h1.4M379.2,1963.4h1.4M379.2,1987.3h1.4M379.2,2011.3h1.4M379.2,2035.2h1.4M379.2,2083.2h1.4M379.2,2107.1h1.4M379.2,2131.1h1.4M379.2,2155h1.4M552.9,1244.6h1.4M552.9,1268.5h1.4M552.9,1292.5h1.4M552.9,1316.4h1.4M552.9,1364.4h1.4M552.9,1388.3h1.4M552.9,1412.3h1.4M552.9,1436.2h1.4M552.9,1484.2h1.4M552.9,1508.1h1.4M552.9,1532.1h1.4M552.9,1556h1.4M552.9,1604h1.4M552.9,1627.9h1.4M552.9,1651.9h1.4M552.9,1675.8h1.4M552.9,1723.8h1.4M552.9,1747.7h1.4M552.9,1771.7h1.4M552.9,1795.6h1.4M552.9,1843.6h1.4M552.9,1867.5h1.4M552.9,1891.5h1.4M552.9,1915.4h1.4M552.9,1963.4h1.4M552.9,1987.3h1.4M552.9,2011.3h1.4M552.9,2035.2h1.4M552.9,2083.2h1.4M552.9,2107.1h1.4M552.9,2131.1h1.4M552.9,2155h1.4M726.6,1244.6h1.4M726.6,1268.5h1.4M726.6,1292.5h1.4M726.6,1316.4h1.4M726.6,1364.4h1.4M726.6,1388.3h1.4M726.6,1412.3h1.4M726.6,1436.2h1.4M726.6,1484.2h1.4M726.6,1508.1h1.4M726.6,1532.1h1.4M726.6,1556h1.4M726.6,1604h1.4M726.6,1627.9h1.4M726.6,1651.9h1.4M726.6,1675.8h1.4M726.6,1723.8h1.4M726.6,1747.7h1.4M726.6,1771.7h1.4M726.6,1795.6h1.4M726.6,1843.6h1.4M726.6,1867.5h1.4M726.6,1891.5h1.4M726.6,1915.4h1.4M726.6,1963.4h1.4M726.6,1987.3h1.4M726.6,2011.3h1.4M726.6,2035.2h1.4M726.6,2083.2h1.4M726.6,2107.1h1.4M726.6,2131.1h1.4M726.6,2155h1.4M900.3,1244.6h1.4M900.3,1268.5h1.4M900.3,1292.5h1.4M900.3,1316.4h1.4M900.3,1364.4h1.4M900.3,1388.3h1.4M900.3,1412.3h1.4M900.3,1436.2h1.4M900.3,1484.2h1.4M900.3,1508.1h1.4M900.3,1532.1h1.4M900.3,1556h1.4M900.3,1604h1.4M900.3,1627.9h1.4M900.3,1651.9h1.4M900.3,1675.8h1.4M900.3,1723.8h1.4M900.3,1747.7h1.4M900.3,1771.7h1.4M900.3,1795.6h1.4M900.3,1843.6h1.4M900.3,1867.5h1.4M900.3,1891.5h1.4M900.3,1915.4h1.4M900.3,1963.4h1.4M900.3,1987.3h1.4M900.3,2011.3h1.4M900.3,2035.2h1.4M900.3,2083.2h1.4M900.3,2107.1h1.4M900.3,2131.1h1.4M900.3,2155h1.4M1247.7,1244.6h1.4M1247.7,1268.5h1.4M1247.7,1292.5h1.4M1247.7,1316.4h1.4M1247.7,1364.4h1.4M1247.7,1388.3h1.4M1247.7,1412.3h1.4M1247.7,1436.2h1.4M1247.7,1484.2h1.4M1247.7,1508.1h1.4M1247.7,1532.1h1.4M1247.7,1556h1.4M1247.7,1604h1.4M1247.7,1627.9h1.4M1247.7,1651.9h1.4M1247.7,1675.8h1.4M1247.7,1723.8h1.4M1247.7,1747.7h1.4M1247.7,1771.7h1.4M1247.7,1795.6h1.4M1247.7,1843.6h1.4M1247.7,1867.5h1.4M1247.7,1891.5h1.4M1247.7,1915.4h1.4M1247.7,1963.4h1.4M1247.7,1987.3h1.4M1247.7,2011.3h1.4M1247.7,2035.2h1.4M1247.7,2083.2h1.4M1247.7,2107.1h1.4M1247.7,2131.1h1.4M1247.7,2155h1.4M1421.4,1244.6h1.4M1421.4,1268.5h1.4M1421.4,1292.5h1.4M1421.4,1316.4h1.4M1421.4,1364.4h1.4M1421.4,1388.3h1.4M1421.4,1412.3h1.4M1421.4,1436.2h1.4M1421.4,1484.2h1.4M1421.4,1508.1h1.4M1421.4,1532.1h1.4M1421.4,1556h1.4M1421.4,1604h1.4M1421.4,1627.9h1.4M1421.4,1651.9h1.4M1421.4,1675.8h1.4M1421.4,1723.8h1.4M1421.4,1747.7h1.4M1421.4,1771.7h1.4M1421.4,1795.6h1.4M1421.4,1843.6h1.4M1421.4,1867.5h1.4M1421.4,1891.5h1.4M1421.4,1915.4h1.4M1421.4,1963.4h1.4M1421.4,1987.3h1.4M1421.4,2011.3h1.4M1421.4,2035.2h1.4M1421.4,2083.2h1.4M1421.4,2107.1h1.4M1421.4,2131.1h1.4M1421.4,2155h1.4M1595.1,1244.6h1.4M1595.1,1268.5h1.4M1595.1,1292.5h1.4M1595.1,1316.4h1.4M1595.1,1364.4h1.4M1595.1,1388.3h1.4M1595.1,1412.3h1.4M1595.1,1436.2h1.4M1595.1,1484.2h1.4M1595.1,1508.1h1.4M1595.1,1532.1h1.4M1595.1,1556h1.4M1595.1,1604h1.4M1595.1,1627.9h1.4M1595.1,1651.9h1.4M1595.1,1675.8h1.4M1595.1,1723.8h1.4M1595.1,1747.7h1.4M1595.1,1771.7h1.4M1595.1,1795.6h1.4M1595.1,1843.6h1.4M1595.1,1867.5h1.4M1595.1,1891.5h1.4M1595.1,1915.4h1.4M1595.1,1963.4h1.4M1595.1,1987.3h1.4M1595.1,2011.3h1.4M1595.1,2035.2h1.4M1595.1,2083.2h1.4M1595.1,2107.1h1.4M1595.1,2131.1h1.4M1595.1,2155h1.4M1768.8,1244.6h1.4M1768.8,1268.5h1.4M1768.8,1292.5h1.4M1768.8,1316.4h1.4M1768.8,1364.4h1.4M1768.8,1388.3h1.4M1768.8,1412.3h1.4M1768.8,1436.2h1.4M1768.8,1484.2h1.4M1768.8,1508.1h1.4M1768.8,1532.1h1.4M1768.8,1556h1.4M1768.8,1604h1.4M1768.8,1627.9h1.4M1768.8,1651.9h1.4M1768.8,1675.8h1.4M1768.8,1723.8h1.4M1768.8,1747.7h1.4M1768.8,1771.7h1.4M1768.8,1795.6h1.4M1768.8,1843.6h1.4M1768.8,1867.5h1.4M1768.8,1891.5h1.4M1768.8,1915.4h1.4M1768.8,1963.4h1.4M1768.8,1987.3h1.4M1768.8,2011.3h1.4M1768.8,2035.2h1.4M1768.8,2083.2h1.4M1768.8,2107.1h1.4M1768.8,2131.1h1.4M1768.8,2155h1.4" stroke="#6a6a6a" stroke-width="1.4" fill="none"/>
<path d="M215,1699.8H1940 M1074.7,1223.1V2176.5" stroke="#262626" stroke-width="1.1" fill="none"/>
<path d="M240.9,1696.6v6.4M275.7,1696.6v6.4M310.4,1696.6v6.4M345.2,1696.6v6.4M379.9,1694.3v11M414.6,1696.6v6.4M449.4,1696.6v6.4M484.1,1696.6v6.4M518.9,1696.6v6.4M553.6,1694.3v11M588.3,1696.6v6.4M623.1,1696.6v6.4M657.8,1696.6v6.4M692.6,1696.6v6.4M727.3,1694.3v11M762,1696.6v6.4M796.8,1696.6v6.4M831.5,1696.6v6.4M866.3,1696.6v6.4M901,1694.3v11M935.7,1696.6v6.4M970.5,1696.6v6.4M1005.2,1696.6v6.4M1040,1696.6v6.4M1074.7,1694.3v11M1109.4,1696.6v6.4M1144.2,1696.6v6.4M1178.9,1696.6v6.4M1213.7,1696.6v6.4M1248.4,1694.3v11M1283.1,1696.6v6.4M1317.9,1696.6v6.4M1352.6,1696.6v6.4M1387.4,1696.6v6.4M1422.1,1694.3v11M1456.8,1696.6v6.4M1491.6,1696.6v6.4M1526.3,1696.6v6.4M1561.1,1696.6v6.4M1595.8,1694.3v11M1630.5,1696.6v6.4M1665.3,1696.6v6.4M1700,1696.6v6.4M1734.8,1696.6v6.4M1769.5,1694.3v11M1804.2,1696.6v6.4M1839,1696.6v6.4M1873.7,1696.6v6.4M1908.5,1696.6v6.4M1071.5,1244.6h6.4M1071.5,1268.5h6.4M1071.5,1292.5h6.4M1071.5,1316.4h6.4M1069.2,1340.4h11M1071.5,1364.4h6.4M1071.5,1388.3h6.4M1071.5,1412.3h6.4M1071.5,1436.2h6.4M1069.2,1460.2h11M1071.5,1484.2h6.4M1071.5,1508.1h6.4M1071.5,1532.1h6.4M1071.5,1556h6.4M1069.2,1580h11M1071.5,1604h6.4M1071.5,1627.9h6.4M1071.5,1651.9h6.4M1071.5,1675.8h6.4M1069.2,1699.8h11M1071.5,1723.8h6.4M1071.5,1747.7h6.4M1071.5,1771.7h6.4M1071.5,1795.6h6.4M1069.2,1819.6h11M1071.5,1843.6h6.4M1071.5,1867.5h6.4M1071.5,1891.5h6.4M1071.5,1915.4h6.4M1069.2,1939.4h11M1071.5,1963.4h6.4M1071.5,1987.3h6.4M1071.5,2011.3h6.4M1071.5,2035.2h6.4M1069.2,2059.2h11M1071.5,2083.2h6.4M1071.5,2107.1h6.4M1071.5,2131.1h6.4M1071.5,2155h6.4" stroke="#262626" stroke-width="1" fill="none"/>
<path d="M240.9,1223.1v1.6M275.7,1223.1v1.6M310.4,1223.1v1.6M345.2,1223.1v1.6M379.9,1223.1v3M379.9,2173.5v3M414.6,1223.1v1.6M449.4,1223.1v1.6M484.1,1223.1v1.6M518.9,1223.1v1.6M553.6,1223.1v3M553.6,2173.5v3M588.3,1223.1v1.6M623.1,1223.1v1.6M657.8,1223.1v1.6M692.6,1223.1v1.6M727.3,1223.1v3M727.3,2173.5v3M762,1223.1v1.6M796.8,1223.1v1.6M831.5,1223.1v1.6M866.3,1223.1v1.6M901,1223.1v3M901,2173.5v3M935.7,1223.1v1.6M970.5,1223.1v1.6M1005.2,1223.1v1.6M1040,1223.1v1.6M1074.7,1223.1v3M1074.7,2173.5v3M1109.4,1223.1v1.6M1144.2,1223.1v1.6M1178.9,1223.1v1.6M1213.7,1223.1v1.6M1248.4,1223.1v3M1248.4,2173.5v3M1283.1,1223.1v1.6M1317.9,1223.1v1.6M1352.6,1223.1v1.6M1387.4,1223.1v1.6M1422.1,1223.1v3M1422.1,2173.5v3M1456.8,1223.1v1.6M1491.6,1223.1v1.6M1526.3,1223.1v1.6M1561.1,1223.1v1.6M1595.8,1223.1v3M1595.8,2173.5v3M1630.5,1223.1v1.6M1665.3,1223.1v1.6M1700,1223.1v1.6M1734.8,1223.1v1.6M1769.5,1223.1v3M1769.5,2173.5v3M1804.2,1223.1v1.6M1839,1223.1v1.6M1873.7,1223.1v1.6M1908.5,1223.1v1.6M215,1340.4h3M1937,1340.4h3M215,1460.2h3M1937,1460.2h3M215,1580h3M1937,1580h3M215,1699.8h3M1937,1699.8h3M215,1819.6h3M1937,1819.6h3M215,1939.4h3M1937,1939.4h3M215,2059.2h3M1937,2059.2h3" stroke="#333" stroke-width="1" fill="none"/>
<text class="mn" x="247.5" y="1208" textLength="31" lengthAdjust="spacingAndGlyphs">File</text>
<text class="mn" x="388.5" y="1208" textLength="57" lengthAdjust="spacingAndGlyphs">Utility</text>
<text class="mn" x="549.5" y="1208" textLength="41.5" lengthAdjust="spacingAndGlyphs">Help</text>
<path d="M866,1201.8H1283.5" stroke="#444" stroke-width="1.4" fill="none"/>
<path d="M869,1194.5H865.8V1210H869M1280.5,1194.5H1283.7V1210H1280.5" stroke="#111" stroke-width="1.5" fill="none"/>
<path d="M215,1520.2 218,1520.2 221,1520.2 224,1520.2 227,1520.2 230,1520.2 233.1,1520.2 236.1,1520.2 239.1,1520.2 242.1,1520.2 245.1,1520.2 248.1,1520.2 251.1,1520.2 254.1,1520.2 257.1,1520.2 260.1,1520.2 263.1,1520.2 266.2,1520.2 269.2,1520.2 272.2,1520.2 275.2,1520.2 278.2,1520.2 281.2,1520.2 284.2,1520.2 287.2,1520.2 290.2,1520.2 293.2,1520.2 296.2,1520.2 299.3,1520.2 302.3,1520.2 305.3,1520.2 308.3,1520.2 311.3,1520.2 314.3,1520.2 317.3,1520.2 320.3,1520.2 323.3,1520.2 326.3,1520.2 329.3,1520.2 332.4,1520.2 335.4,1520.2 338.4,1520.2 341.4,1520.2 344.4,1520.2 347.4,1520.2 350.4,1520.2 353.4,1520.2 356.4,1520.2 359.4,1520.2 362.4,1520.2 365.5,1520.2 368.5,1520.2 371.5,1520.2 374.5,1520.2 377.5,1520.2 380.5,1520.2 383.5,1520.2 386.5,1520.2 389.5,1520.2 392.5,1520.2 395.5,1520.2 398.6,1520.2 401.6,1520.2 404.6,1520.2 407.6,1520.2 410.6,1520.2 413.6,1520.2 416.6,1520.2 419.6,1520.2 422.6,1520.2 425.6,1520.2 428.6,1520.2 431.7,1520.2 434.7,1520.2 437.7,1520.2 440.7,1520.2 443.7,1520.2 446.7,1520.2 449.7,1520.2 452.7,1520.2 455.7,1520.2 458.7,1520.2 461.7,1520.2 464.8,1520.2 467.8,1520.2 470.8,1520.2 473.8,1520.2 476.8,1520.2 479.8,1520.2 483.9,1517.2 487.9,1514.3 490.6,1511.1 493.3,1507.8 496,1504.6 498,1502.6 499.9,1497.6 501.9,1495.5 503.8,1492 505.8,1489.5 507.7,1487.5 509.7,1484.5 511.6,1481.5 513.6,1476.9 515.5,1474.4 517.5,1471.4 519.4,1468.4 521.4,1465.4 523.3,1461.3 525.3,1459.8 527.2,1456.3 529.2,1453.8 531.1,1451.3 533.1,1448.3 535.1,1443.7 537,1442.2 539,1438.2 540.9,1434.2 542.9,1432.2 544.8,1429.1 546.8,1425.1 548.7,1422.1 550.7,1420.1 552.6,1417.6 554.6,1413.6 556.5,1410.5 558.5,1409 560.4,1404.5 562.4,1402.5 564.3,1399 566.3,1394.9 568.3,1393.4 570.2,1389.9 572.2,1387.4 574.1,1383.4 576.1,1381.9 578,1377.8 580,1375.3 581.9,1370.8 583.9,1369.8 585.8,1365.8 587.8,1363.2 589.7,1359.7 591.7,1356.7 593.6,1354.7 595.6,1350.7 597.5,1347.2 599.5,1345.6 601.4,1341.1 603.4,1338.6 607.5,1334.2 611.6,1329.8 614.8,1328.6 618.1,1327.4 621.3,1326.2 624.6,1326.2 627.8,1326.2 631.1,1326.2 634.3,1326.2 637.6,1326.2 639,1323.3 642,1323.3 645,1323.3 648,1323.3 651,1323.3 654,1323.3 657,1323.3 660,1323.3 663,1323.3 666,1323.3 669,1323.3 672,1323.3 675,1323.3 678,1323.3 681,1323.3 684,1323.3 687,1323.3 690,1323.3 693.1,1323.3 696.1,1323.3 699.1,1323.3 702.1,1323.3 705.1,1323.3 708.1,1323.3 711.1,1323.3 714.1,1323.3 717.1,1323.3 720.1,1323.3 723.1,1323.3 726.1,1323.3 729.1,1323.3 732.1,1323.3 735.1,1323.3 738.1,1323.3 741.1,1323.3 744.1,1323.3 747.1,1323.3 750.1,1323.3 753.1,1323.3 756.1,1323.3 759.1,1323.3 762.1,1323.3 765.1,1323.3 768.1,1323.3 771.1,1323.3 774.1,1323.3 777.1,1323.3 780.1,1323.3 783.1,1323.3 786.1,1323.3 789.1,1323.3 792.1,1323.3 795.1,1323.3 798.1,1323.3 801.2,1323.3 804.2,1323.3 807.2,1323.3 810.2,1323.3 813.2,1323.3 816.2,1323.3 819.2,1323.3 822.2,1323.3 825.2,1323.3 828.2,1323.3 831.2,1323.3 834.2,1323.3 837.2,1323.3 840.2,1323.3 843.2,1323.3 846.2,1323.3 849.2,1323.3 852.2,1323.3 855.2,1323.3 858.2,1323.3 861.2,1323.3 864.2,1323.3 867.2,1323.3 870.2,1323.3 873.2,1323.3 876.2,1323.3 879.2,1323.3 882.2,1323.3 885.2,1323.3 888.2,1323.3 891.2,1323.3 894.2,1323.3 897.2,1323.3 900.2,1323.3 903.2,1323.3 906.3,1323.3 909.3,1323.3 912.3,1323.3 915.3,1323.3 918.3,1323.3 921.3,1323.3 924.3,1323.3 927.3,1323.3 930.3,1323.3 933.3,1323.3 936.3,1323.3 939.3,1323.3 942.3,1323.3 945.3,1323.3 948.3,1323.3 951.3,1323.3 954.3,1323.3 957.3,1323.3 960.3,1323.3 963.3,1323.3 966.3,1323.3 969.3,1323.3 972.3,1323.3 975.3,1323.3 978.3,1323.3 981.3,1323.3 984.3,1323.3 987.3,1323.3 990.3,1323.3 993.3,1323.3 996.3,1323.3 999.3,1323.3 1002.3,1323.3 1005.3,1323.3 1008.3,1323.3 1011.3,1323.3 1014.4,1323.3 1017.4,1323.3 1020.4,1323.3 1023.4,1323.3 1026.4,1323.3 1029.4,1323.3 1032.4,1323.3 1035.4,1323.3 1038.4,1323.3 1041.4,1323.3 1044.4,1323.3 1047.4,1323.3 1050.4,1323.3 1053.4,1323.3 1056.4,1323.3 1059.4,1323.3 1062.4,1323.3 1065.4,1323.3 1068.4,1323.3 1071.4,1323.3 1074.4,1323.3 1077.4,1323.3 1080.4,1323.3 1083.4,1323.3 1086.4,1323.3 1089.4,1323.3 1092.4,1323.3 1095.4,1323.3 1098.4,1323.3 1101.4,1323.3 1104.4,1323.3 1107.4,1323.3 1110.4,1323.3 1113.4,1323.3 1116.4,1323.3 1119.5,1323.3 1122.5,1323.3 1125.5,1323.3 1128.5,1323.3 1131.5,1323.3 1134.5,1323.3 1137.5,1323.3 1140.5,1323.3 1143.5,1323.3 1146.5,1323.3 1149.5,1323.3 1152.5,1323.3 1155.5,1323.3 1158.5,1323.3 1161.5,1323.3 1164.5,1323.3 1167.5,1323.3 1170.5,1323.3 1173.5,1323.3 1176.5,1323.3 1179.5,1323.3 1182.5,1323.3 1185.5,1323.3 1188.5,1323.3 1191.5,1323.3 1194.5,1323.3 1197.5,1323.3 1200.5,1323.3 1203.5,1323.3 1206.5,1323.3 1209.5,1323.3 1212.5,1323.3 1215.5,1323.3 1218.5,1323.3 1221.5,1323.3 1224.5,1323.3 1227.6,1323.3 1230.6,1323.3 1233.6,1323.3 1236.6,1323.3 1239.6,1323.3 1242.6,1323.3 1245.6,1323.3 1248.6,1323.3 1251.6,1323.3 1254.6,1323.3 1257.6,1323.3 1260.6,1323.3 1263.6,1323.3 1266.6,1323.3 1269.6,1323.3 1272.6,1323.3 1275.6,1323.3 1278.6,1323.3 1281.6,1323.3 1284.6,1323.3 1287.6,1323.3 1290.6,1323.3 1293.6,1323.3 1296.6,1323.3 1299.6,1323.3 1302.6,1323.3 1305.6,1323.3 1308.6,1323.3 1311.6,1323.3 1314.6,1323.3 1317.6,1323.3 1320.6,1323.3 1323.6,1323.3 1326.6,1323.3 1329.6,1323.3 1332.7,1323.3 1335.7,1323.3 1338.7,1323.3 1341.7,1323.3 1344.7,1323.3 1347.7,1323.3 1350.7,1323.3 1353.7,1323.3 1356.7,1323.3 1359.7,1323.3 1362.7,1323.3 1365.7,1323.3 1368.7,1323.3 1371.7,1323.3 1374.7,1323.3 1377.7,1323.3 1380.7,1323.3 1383.7,1323.3 1386.7,1323.3 1389.7,1323.3 1392.7,1323.3 1395.7,1323.3 1398.7,1323.3 1401.7,1323.3 1404.7,1323.3 1407.7,1323.3 1410.7,1323.3 1413.7,1323.3 1416.7,1323.3 1419.7,1323.3 1422.7,1323.3 1425.7,1323.3 1428.7,1323.3 1431.7,1323.3 1434.7,1323.3 1437.7,1323.3 1440.8,1323.3 1443.8,1323.3 1446.8,1323.3 1449.8,1323.3 1452.8,1323.3 1455.8,1323.3 1458.8,1323.3 1461.8,1323.3 1464.8,1323.3 1467.8,1323.3 1470.8,1323.3 1473.8,1323.3 1476.8,1323.3 1479.8,1323.3 1482.8,1323.3 1485.8,1323.3 1488.8,1323.3 1491.8,1323.3 1495.6,1325.1 1499.4,1327 1503.2,1328.8 1505.4,1331.8 1507.5,1335.3 1509.7,1336.8 1511.9,1341.8 1514,1344.3 1516.2,1346.8 1518.4,1350.8 1520.6,1351.8 1522.7,1355.8 1524.9,1358.9 1527.1,1361.9 1529.2,1364.9 1531.4,1366.9 1533.6,1369.9 1535.7,1372.9 1537.9,1376.9 1540.1,1379.9 1542.2,1383.9 1544.4,1386.9 1546.6,1389.9 1548.8,1391.9 1550.9,1395.4 1553.1,1397.9 1555.3,1399.9 1557.4,1403.4 1559.6,1406.9 1561.8,1410.9 1563.9,1412.9 1566.1,1416.4 1568.3,1418.5 1570.4,1422 1572.6,1425 1574.8,1427.5 1577,1430.5 1579.1,1433.5 1581.3,1436 1583.5,1441 1585.6,1442.5 1587.8,1446 1590,1450 1592.1,1452.5 1594.3,1456 1596.5,1457.5 1598.6,1460.5 1600.8,1464 1603,1468 1605.2,1471 1607.3,1473 1609.5,1476.1 1611.7,1479.1 1613.8,1482.6 1616,1486.1 1618.2,1487.6 1620.3,1491.1 1622.5,1494.1 1624.7,1496.6 1626.8,1500.1 1629,1504.1 1631.2,1506.1 1633.4,1510.1 1635.5,1512.1 1637.7,1515.1 1639.9,1519.1 1642,1520.6 1644.2,1524.1 1646.4,1526.1 1648.5,1531.1 1650.7,1533.1 1652.9,1536.2 1655,1538.7 1657.2,1543.2 1659.4,1545.2 1661.6,1548.2 1663.7,1551.2 1665.9,1554.2 1668.1,1557.2 1670.2,1560.7 1672.4,1563.2 1675.7,1565.6 1679,1568 1682.3,1566.7 1685.5,1565.3 1688.8,1564 1692,1562.7 1695.3,1561.3 1698.5,1560 1701.8,1558.7 1705,1557.3 1708.3,1556 1711.3,1556 1714.3,1556 1717.3,1556 1720.3,1556 1723.3,1556 1726.4,1556 1729.4,1556 1732.4,1556 1735.4,1556 1738.4,1556 1741.4,1556 1744.4,1556 1747.4,1556 1750.4,1556 1753.4,1556 1756.4,1556 1759.5,1556 1762.5,1556 1765.5,1556 1768.5,1556 1771.5,1556 1774.5,1556 1777.5,1556 1780.5,1556 1783.5,1556 1786.5,1556 1789.5,1556 1792.6,1556 1795.6,1556 1798.6,1556 1801.6,1556 1804.6,1556 1807.6,1556 1810.6,1556 1813.6,1556 1816.6,1556 1819.6,1556 1822.6,1556 1825.7,1556 1828.7,1556 1831.7,1556 1834.7,1556 1837.7,1556 1840.7,1556 1843.7,1556 1846.7,1556 1849.7,1556 1852.7,1556 1855.7,1556 1858.8,1556 1861.8,1556 1864.8,1556 1867.8,1556 1870.8,1556 1873.8,1556 1876.8,1556 1879.8,1556 1882.8,1556 1885.8,1556 1888.8,1556 1891.9,1556 1894.9,1556 1897.9,1556 1900.9,1556 1903.9,1556 1906.9,1556 1909.9,1556 1912.9,1556 1915.9,1556 1918.9,1556 1921.9,1556 1925,1556 1928,1556 1931,1556 1934,1556 1937,1556 1940,1556" stroke="#0ad636" stroke-width="3" fill="none" stroke-linejoin="round"/>
<path d="M215,1520.2 479.8,1520.2 487.9,1514.3 496,1504.6 603.4,1338.6 611.6,1329.8 621.3,1326.2 637.6,1326.2 639,1323.3 1491.8,1323.3 1503.2,1328.8 1672.4,1563.2 1679,1568 1708.3,1556 1940,1556" stroke="#078a1c" stroke-width="1" fill="none" stroke-dasharray="3 3"/>
<path d="M215,2020.9h2.4V2034.3h-2.4ZM218.6,2020.8h2.4V2034.4h-2.4ZM221,2022h7.2V2034.3h-7.2ZM229.4,2021.3h2.4V2035.7h-2.4ZM231.8,2020.6h2.4V2036.2h-2.4ZM236.6,2018.7h2.4V2036h-2.4ZM240.2,2021.3h2.4V2034.3h-2.4ZM242.6,2018.2h4.8V2035.1h-4.8ZM249.8,2022.1h2.4V2036.9h-2.4ZM253.4,2016.8h7.2V2035.4h-7.2ZM260.6,2022h2.4V2036.3h-2.4ZM263,2021.7h4.8V2034.9h-4.8ZM269,2020.2h2.4V2036.4h-2.4ZM273.8,2021.3h7.2V2035.9h-7.2ZM282.2,2020.9h2.4V2035.4h-2.4ZM285.8,2021.7h2.4V2036h-2.4ZM288.2,2021h7.2V2036.9h-7.2ZM295.4,2022.3h4.8V2035.9h-4.8ZM301.4,2020.3h7.2V2036.1h-7.2ZM309.8,2022.8h7.2V2035.2h-7.2ZM318.2,2020.5h4.8V2036.3h-4.8ZM324.2,2020.3h7.2V2036.4h-7.2ZM333.8,2022.7h4.8V2034h-4.8ZM341,2021.8h4.8V2034.6h-4.8ZM347,2022.7h7.2V2036.6h-7.2ZM355.4,2020.7h2.4V2034.8h-2.4ZM360.2,2020.2h2.4V2036.6h-2.4ZM365,2020.4h4.8V2034.7h-4.8ZM375.8,2021.5h2.4V2036.3h-2.4ZM378.2,2021.1h4.8V2035.1h-4.8ZM383,2020.5h4.8V2034.2h-4.8ZM389,2021.4h4.8V2036.5h-4.8ZM393.8,2020.5h7.2V2034.7h-7.2ZM402.2,2021.5h4.8V2036.4h-4.8ZM414.2,2021.1h2.4V2034h-2.4ZM419,2020.5h2.4V2036.3h-2.4ZM422.6,2021.8h4.8V2036.4h-4.8ZM428.6,2022.5h2.4V2035.5h-2.4ZM432.2,2021.1h4.8V2034h-4.8ZM437,2022.6h4.8V2034.3h-4.8ZM444.2,2021.7h2.4V2034.1h-2.4ZM446.6,2020.4h4.8V2036.2h-4.8ZM456.2,2017.8h4.8V2034.2h-4.8ZM463.4,2019.4h7.2V2036.9h-7.2ZM471.8,2021h7.2V2034.1h-7.2ZM482.6,2019.7h2.4V2037.3h-2.4ZM485,2019.6h7.2V2035.8h-7.2ZM493.4,2018.3h4.8V2035.4h-4.8ZM500.6,2015.6h4.8V2036.2h-4.8ZM505.4,2017.9h4.8V2035.3h-4.8ZM515,2017.1h4.8V2036.8h-4.8ZM519.8,2015.9h2.4V2038.3h-2.4ZM524.6,2014h4.8V2036.6h-4.8ZM531.8,2012.8h4.8V2036.1h-4.8ZM539,2013.6h2.4V2035.9h-2.4ZM542.6,2013.8h7.2V2037.1h-7.2ZM552.2,2014.2h7.2V2037.3h-7.2ZM560.6,2017.1h7.2V2036.3h-7.2ZM569,2018.9h4.8V2036.5h-4.8ZM575,2019.7h7.2V2035.6h-7.2ZM582.2,2018.9h7.2V2037.5h-7.2ZM589.4,2021.8h4.8V2036.4h-4.8ZM594.2,2023.8h2.4V2037.3h-2.4ZM596.6,2022.4h2.4V2038h-2.4ZM600.2,2026.2h2.4V2038.5h-2.4ZM605,2027h4.8V2038.4h-4.8ZM614.6,2029.8h2.4V2038h-2.4ZM619.4,2030.5h2.4V2040.1h-2.4ZM629,2031.8h2.4V2039.2h-2.4ZM633.8,2032.4h2.4V2040.4h-2.4ZM638.6,2032.7h2.4V2042h-2.4ZM653,2033.3h2.4V2042.8h-2.4ZM667.4,2033.5h2.4V2041.8h-2.4ZM672.2,2033.3h2.4V2041.6h-2.4ZM677,2033.2h2.4V2042.3h-2.4ZM696.2,2033.3h2.4V2041.5h-2.4ZM698.6,2033.5h2.4V2042.2h-2.4ZM708.2,2033.5h2.4V2043.4h-2.4ZM710.6,2033.5h2.4V2042h-2.4ZM729.8,2033.6h2.4V2043.4h-2.4ZM746.6,2033.6h2.4V2041.8h-2.4ZM751.4,2034h2.4V2041h-2.4ZM770.6,2034.2h2.4V2042.3h-2.4ZM794.6,2033.7h2.4V2042h-2.4Z" fill="#1010c4"/>
<path d="M1532,2028.2h2.5V2047.6h-2.5ZM1541.6,2027.3h2.5V2048h-2.5ZM1546.4,2027.3h2.5V2049.5h-2.5ZM1551.2,2028.7h2.5V2049.6h-2.5ZM1556,2027.3h2.5V2049.7h-2.5ZM1560.8,2026.4h2.5V2051.2h-2.5ZM1565.6,2027.6h2.5V2051.6h-2.5ZM1570.4,2027.3h2.5V2050.1h-2.5ZM1575.2,2026.3h2.5V2050.6h-2.5ZM1580,2028h2.5V2049.5h-2.5ZM1584.8,2028.9h2.5V2049.9h-2.5ZM1594.4,2026.1h2.5V2051.6h-2.5ZM1604,2028.7h2.5V2049.1h-2.5ZM1608.8,2026h2.5V2052h-2.5ZM1613.6,2028.2h2.5V2051.5h-2.5ZM1623.2,2026.8h2.5V2049.4h-2.5ZM1628,2028.3h2.5V2052.1h-2.5ZM1642.4,2026.7h2.5V2052.3h-2.5ZM1647.2,2029.2h2.5V2050.7h-2.5ZM1652,2025.8h2.5V2052.3h-2.5ZM1656.8,2028h2.5V2052.7h-2.5ZM1661.6,2028.9h2.5V2052.6h-2.5ZM1671.2,2029.6h2.5V2052h-2.5ZM1676,2028.6h2.5V2052.4h-2.5ZM1690.4,2029.7h2.5V2049.8h-2.5ZM1700,2027.9h2.5V2050.8h-2.5ZM1704.8,2026.7h2.5V2051h-2.5ZM1714.4,2028.6h2.5V2052h-2.5ZM1719.2,2028h2.5V2051.5h-2.5ZM1724,2029.5h2.5V2049.7h-2.5ZM1738.4,2027.6h2.5V2049.5h-2.5ZM1752.8,2029.9h2.5V2051.9h-2.5ZM1757.6,2026.8h2.5V2051.9h-2.5ZM1762.4,2027h2.5V2052.5h-2.5ZM1772,2027.8h2.5V2051.9h-2.5ZM1776.8,2026.7h2.5V2049.3h-2.5ZM1781.6,2026.6h2.5V2049.1h-2.5ZM1786.4,2027.4h2.5V2052.3h-2.5ZM1791.2,2029h2.5V2049.4h-2.5ZM1796,2026.9h2.5V2052.3h-2.5ZM1805.6,2029h2.5V2051.1h-2.5ZM1810.4,2028.1h2.5V2048.8h-2.5ZM1815.2,2028.7h2.5V2051.4h-2.5ZM1834.4,2027h2.5V2051.5h-2.5ZM1839.2,2028.5h2.5V2051.7h-2.5ZM1844,2026.9h2.5V2049.6h-2.5ZM1848.8,2028.8h2.5V2049.1h-2.5ZM1853.6,2029.3h2.5V2051.8h-2.5ZM1868,2028.7h2.5V2048.7h-2.5ZM1872.8,2030.4h2.5V2051.9h-2.5ZM1877.6,2028.5h2.5V2049.2h-2.5ZM1882.4,2027.6h2.5V2050.7h-2.5ZM1887.2,2028.5h2.5V2048.4h-2.5ZM1892,2028.7h2.5V2050.1h-2.5ZM1901.6,2027.9h2.5V2050.2h-2.5ZM1906.4,2029.6h2.5V2048.3h-2.5ZM1911.2,2028.3h2.5V2049.7h-2.5ZM1920.8,2030.3h2.5V2049.2h-2.5ZM1925.6,2027.7h2.5V2048.3h-2.5ZM1930.4,2027.2h2.5V2049.5h-2.5ZM1935.2,2030.6h2.5V2048.8h-2.5Z" fill="#1010c4"/>
<path d="M215,2033.2h3.9V2051.4h-3.9ZM218.6,2032.1h2.7V2053.5h-2.7ZM221,2034.3h8.7V2052.4h-8.7ZM229.4,2032.2h2.7V2045h-2.7ZM231.8,2031.9h5.1V2051.3h-5.1ZM236.6,2034.4h3.9V2051.4h-3.9ZM240.2,2033.5h2.7V2051.4h-2.7ZM242.6,2033h5.1V2051.4h-5.1ZM249.8,2031.7h3.9V2054.6h-3.9ZM253.4,2033.9h7.5V2050.1h-7.5ZM260.6,2031.7h2.7V2043.6h-2.7ZM263,2032.7h5.1V2051.3h-5.1ZM269,2033.2h5.1V2054.2h-5.1ZM273.8,2032.1h7.5V2046.5h-7.5ZM282.2,2033.8h2.7V2054.2h-2.7ZM285.8,2034.2h2.7V2050.1h-2.7ZM288.2,2034.1h7.5V2052.7h-7.5ZM295.4,2033.4h5.1V2051.8h-5.1ZM301.4,2034h7.5V2051.4h-7.5ZM309.8,2032.6h8.7V2053.5h-8.7ZM318.2,2033.9h5.1V2043.6h-5.1ZM324.2,2032h9.9V2053.4h-9.9ZM333.8,2032.6h7.5V2052.4h-7.5ZM341,2032h6.3V2053.2h-6.3ZM347,2032.6h8.7V2046.8h-8.7ZM355.4,2031.7h2.7V2051.9h-2.7ZM360.2,2032.9h5.1V2054.3h-5.1ZM365,2031.7h5.1V2054.2h-5.1ZM369.8,2032.1h6.3V2050h-6.3ZM375.8,2032.9h2.7V2050.3h-2.7ZM378.2,2032.6h5.1V2051.9h-5.1ZM383,2033.4h5.1V2051.6h-5.1ZM389,2032.9h5.1V2047.9h-5.1ZM393.8,2031.5h7.5V2052.5h-7.5ZM402.2,2034.4h5.1V2052.5h-5.1ZM407,2034.6h5.1V2049.1h-5.1ZM414.2,2034.1h5.1V2052.3h-5.1ZM419,2033.7h2.7V2046.4h-2.7ZM422.6,2033.3h6.3V2043.8h-6.3ZM428.6,2031.4h2.7V2054.2h-2.7ZM432.2,2033.1h5.1V2051.9h-5.1ZM437,2033.7h7.5V2044.7h-7.5ZM444.2,2034.4h2.7V2053.3h-2.7ZM446.6,2031.5h6.3V2050.4h-6.3ZM452.6,2031.9h3.9V2052.5h-3.9ZM456.2,2032.6h5.1V2051.7h-5.1ZM463.4,2034.4h7.5V2051h-7.5ZM471.8,2031.9h7.5V2054.8h-7.5ZM480.2,2033.8h2.7V2055.9h-2.7ZM482.6,2032.5h2.7V2052.4h-2.7ZM485,2033.6h8.7V2056.4h-8.7ZM493.4,2034.8h5.1V2054.6h-5.1ZM500.6,2034.5h5.1V2051.5h-5.1ZM505.4,2036.4h6.3V2050h-6.3ZM511.4,2035.5h2.7V2060.3h-2.7ZM515,2036.3h5.1V2058.7h-5.1ZM519.8,2035.3h2.7V2056.5h-2.7ZM524.6,2035.3h7.5V2058.5h-7.5ZM531.8,2035.9h7.5V2051.4h-7.5ZM539,2032.9h2.7V2059.5h-2.7ZM542.6,2035h7.5V2060.1h-7.5ZM552.2,2037.8h8.7V2062h-8.7ZM560.6,2038.6h8.7V2056h-8.7ZM569,2038.6h6.3V2056.7h-6.3ZM575,2038.8h7.5V2058h-7.5ZM582.2,2037.7h7.5V2056.3h-7.5ZM589.4,2035.6h5.1V2055.2h-5.1ZM594.2,2034.5h2.7V2050.5h-2.7ZM596.6,2034.6h3.9V2044.7h-3.9ZM600.2,2033.7h2.7V2048.9h-2.7ZM605,2031.7h5.1V2049.3h-5.1ZM609.8,2031.3h5.1V2047.8h-5.1ZM614.6,2030.9h2.7V2045.5h-2.7ZM617,2030.5h2.7V2045.6h-2.7ZM619.4,2030.2h2.7V2045.5h-2.7ZM621.8,2030.7h2.7V2046h-2.7ZM624.2,2030.3h2.7V2045.1h-2.7ZM626.6,2029.8h2.7V2045.6h-2.7ZM629,2030.3h2.7V2045.2h-2.7ZM631.4,2029.7h2.7V2045.3h-2.7ZM633.8,2030.2h2.7V2044.5h-2.7ZM636.2,2030h2.7V2044.7h-2.7ZM638.6,2030.2h2.7V2043.8h-2.7ZM641,2029.7h2.7V2044.8h-2.7ZM643.4,2029.6h2.7V2044.5h-2.7ZM645.8,2030h2.7V2043.9h-2.7ZM648.2,2030.2h2.7V2044.4h-2.7ZM650.6,2030.2h2.7V2044.5h-2.7ZM653,2030.1h2.7V2044.4h-2.7ZM655.4,2029.4h2.7V2044.1h-2.7ZM657.8,2030h2.7V2044.9h-2.7ZM660.2,2030.2h2.7V2044.2h-2.7ZM662.6,2030.1h2.7V2044.5h-2.7ZM665,2030h2.7V2044.7h-2.7ZM667.4,2029.6h2.7V2043.9h-2.7ZM669.8,2029.6h2.7V2044.1h-2.7ZM672.2,2030h2.7V2043.7h-2.7ZM674.6,2029.5h2.7V2044.5h-2.7ZM677,2029.6h2.7V2044.9h-2.7ZM679.4,2030h2.7V2043.7h-2.7ZM681.8,2029.5h2.7V2044.1h-2.7ZM684.2,2029.7h2.7V2044.4h-2.7ZM686.6,2029.8h2.7V2044.6h-2.7ZM689,2030h2.7V2044.8h-2.7ZM691.4,2029.8h2.7V2043.8h-2.7ZM693.8,2030h2.7V2044.5h-2.7ZM696.2,2030.2h2.7V2044.3h-2.7ZM698.6,2029.8h2.7V2044.5h-2.7ZM701,2030.1h2.7V2044h-2.7ZM703.4,2030.3h2.7V2044.2h-2.7ZM705.8,2030.3h2.7V2044.4h-2.7ZM708.2,2030.2h2.7V2044.3h-2.7ZM710.6,2029.6h2.7V2043.8h-2.7ZM713,2029.5h2.7V2043.7h-2.7ZM715.4,2029.5h2.7V2044.7h-2.7ZM717.8,2029.9h2.7V2044.3h-2.7ZM720.2,2029.6h2.7V2044.2h-2.7ZM722.6,2029.8h2.7V2044.5h-2.7ZM725,2030h2.7V2043.9h-2.7ZM727.4,2030.2h2.7V2044h-2.7ZM729.8,2029.8h2.7V2044h-2.7ZM732.2,2029.7h2.7V2044.6h-2.7ZM734.6,2029.7h2.7V2044.5h-2.7ZM737,2030.1h2.7V2044.6h-2.7ZM739.4,2030.1h2.7V2044.7h-2.7ZM741.8,2030.2h2.7V2044.8h-2.7ZM744.2,2029.9h2.7V2044.5h-2.7ZM746.6,2030h2.7V2044.2h-2.7ZM749,2029.9h2.7V2043.8h-2.7ZM751.4,2030.1h2.7V2044.1h-2.7ZM753.8,2030.1h2.7V2043.7h-2.7ZM756.2,2029.8h2.7V2044.3h-2.7ZM758.6,2029.8h2.7V2044.4h-2.7ZM761,2029.8h2.7V2044.5h-2.7ZM763.4,2030.2h2.7V2044.3h-2.7ZM765.8,2030.3h2.7V2044.5h-2.7ZM768.2,2030.4h2.7V2044.6h-2.7ZM770.6,2029.6h2.7V2044.7h-2.7ZM773,2030h2.7V2044.7h-2.7ZM775.4,2029.8h2.7V2044.8h-2.7ZM777.8,2029.8h2.7V2043.9h-2.7ZM780.2,2029.8h2.7V2044.3h-2.7ZM782.6,2029.8h2.7V2044h-2.7ZM785,2030.2h2.7V2043.9h-2.7ZM787.4,2030h2.7V2044.4h-2.7ZM789.8,2030.3h2.7V2043.8h-2.7ZM792.2,2029.7h2.7V2044.7h-2.7ZM794.6,2029.9h2.7V2044.7h-2.7ZM797,2029.9h2.7V2044.5h-2.7ZM799.4,2030h2.7V2044.8h-2.7ZM800,2029.6h2.7V2044.1h-2.7ZM802.4,2030.3h2.7V2044.3h-2.7ZM804.8,2030.5h2.7V2044.9h-2.7ZM807.2,2029.8h2.7V2044.5h-2.7ZM809.6,2030.4h2.7V2044.4h-2.7ZM812,2029.9h2.7V2043.8h-2.7ZM814.4,2030.5h2.7V2043.8h-2.7ZM816.8,2030.5h2.7V2044.5h-2.7ZM819.2,2030.8h2.7V2044.4h-2.7ZM821.6,2030.4h2.7V2043.5h-2.7ZM824,2030.8h2.7V2044.1h-2.7ZM826.4,2030.5h2.7V2043.2h-2.7ZM828.8,2030.8h2.7V2044.1h-2.7ZM831.2,2030.9h2.7V2043.1h-2.7ZM833.6,2030.5h2.7V2043.1h-2.7ZM836,2030.6h2.7V2043.8h-2.7ZM838.4,2031.4h2.7V2042.8h-2.7ZM840.8,2031.4h2.7V2042.7h-2.7ZM843.2,2030.8h2.7V2043h-2.7ZM845.6,2030.8h2.7V2043.1h-2.7ZM848,2031.8h2.7V2042.7h-2.7ZM850.4,2031.8h2.7V2042.5h-2.7ZM852.8,2031.9h2.7V2043.4h-2.7ZM855.2,2032.1h2.7V2043.3h-2.7ZM857.6,2031.5h2.7V2042.9h-2.7ZM860,2031.7h2.7V2042.9h-2.7ZM862.4,2031.5h2.7V2042.1h-2.7ZM864.8,2032h2.7V2042.9h-2.7ZM867.2,2031.9h2.7V2042.3h-2.7ZM869.6,2032.5h2.7V2042h-2.7ZM872,2032.2h2.7V2042.1h-2.7ZM874.4,2032.6h2.7V2042.2h-2.7ZM876.8,2032.5h2.7V2042.4h-2.7ZM879.2,2032.6h2.7V2042.2h-2.7ZM881.6,2032.5h2.7V2041.8h-2.7ZM884,2032.6h2.7V2041.6h-2.7ZM886.4,2033.1h2.7V2041.5h-2.7ZM888.8,2032.6h2.7V2042.3h-2.7ZM891.2,2032.9h2.7V2041.4h-2.7ZM893.6,2032.5h2.7V2042h-2.7ZM896,2033h2.7V2041.9h-2.7ZM898.4,2033.3h2.7V2041.9h-2.7ZM900.8,2033h2.7V2041.3h-2.7ZM903.2,2033h2.7V2041.8h-2.7ZM905.6,2033.5h2.7V2041.8h-2.7ZM908,2032.9h2.7V2041.7h-2.7ZM910.4,2033.4h2.7V2040.9h-2.7ZM912.8,2033.7h2.7V2041.6h-2.7ZM915.2,2033.1h2.7V2041.3h-2.7ZM917.6,2033.3h2.7V2041.5h-2.7ZM920,2033.1h2.7V2040.9h-2.7ZM922.4,2033.3h2.7V2041.2h-2.7ZM924.8,2033.6h2.7V2041.1h-2.7ZM927.2,2033.7h2.7V2041.7h-2.7ZM929.6,2033.7h2.7V2041.6h-2.7ZM932,2034.2h2.7V2040.9h-2.7ZM934.4,2033.5h2.7V2040.8h-2.7ZM936.8,2033.7h2.7V2041h-2.7ZM939.2,2034.4h2.7V2040.9h-2.7ZM941.6,2034.3h2.7V2041.5h-2.7ZM944,2033.7h2.7V2041.4h-2.7ZM946.4,2034.1h2.7V2040.8h-2.7ZM948.8,2034.4h2.7V2041.3h-2.7ZM951.2,2034.6h2.7V2040.8h-2.7ZM953.6,2034.3h2.7V2040.9h-2.7ZM956,2034.4h2.7V2040.9h-2.7ZM958.4,2034.6h2.7V2041.1h-2.7ZM960.8,2034.4h2.7V2041.3h-2.7ZM963.2,2034.3h2.7V2041.1h-2.7ZM965.6,2034.4h2.7V2041h-2.7ZM968,2034.9h2.7V2041.1h-2.7ZM970.4,2035.1h2.7V2040.6h-2.7ZM972.8,2035.2h2.7V2041.2h-2.7ZM975.2,2034.5h2.7V2040.7h-2.7ZM977.6,2035h2.7V2040.9h-2.7ZM980,2035h2.7V2041.1h-2.7ZM982.4,2034.8h2.7V2041.2h-2.7ZM984.8,2035.5h2.7V2040.6h-2.7ZM987.2,2035.3h2.7V2040.4h-2.7ZM989.6,2035.6h2.7V2040.5h-2.7ZM992,2035.5h2.7V2041h-2.7ZM994.4,2035.2h2.7V2040.4h-2.7ZM996.8,2035.3h2.7V2040.6h-2.7ZM999.2,2035.8h2.7V2040.8h-2.7ZM1001.6,2035.5h2.7V2040.7h-2.7ZM1004,2035.4h2.7V2040.8h-2.7ZM1006.4,2035.9h2.7V2040.9h-2.7ZM1008.8,2035.6h2.7V2040.6h-2.7ZM1011.2,2035.9h2.7V2040.7h-2.7ZM1013.6,2036h2.7V2040.7h-2.7ZM1016,2036h2.7V2040.2h-2.7ZM1018.4,2035.9h2.7V2040.5h-2.7ZM1020.8,2036h2.7V2040.6h-2.7ZM1023.2,2036h2.7V2040.5h-2.7ZM1025.6,2036h2.7V2040.4h-2.7ZM1028,2035.9h2.7V2040.7h-2.7ZM1030.4,2036.2h2.7V2040.4h-2.7ZM1032.8,2036.3h2.7V2040.4h-2.7ZM1035.2,2036.2h2.7V2040.2h-2.7ZM1037.6,2036.1h2.7V2040.8h-2.7ZM1040,2035.9h2.7V2040.7h-2.7ZM1042.4,2035.9h2.7V2040.6h-2.7ZM1044.8,2036.3h2.7V2040.2h-2.7ZM1047.2,2035.9h2.7V2040.3h-2.7ZM1049.6,2035.9h2.7V2040.6h-2.7ZM1052,2036.1h2.7V2040.3h-2.7ZM1054.4,2036.2h2.7V2040.6h-2.7ZM1056.8,2035.9h2.7V2040.4h-2.7ZM1059.2,2036h2.7V2040.4h-2.7ZM1061.6,2035.9h2.7V2040.4h-2.7ZM1064,2036h2.7V2040.4h-2.7ZM1066.4,2035.9h2.7V2040.4h-2.7ZM1068.8,2035.8h2.7V2040.6h-2.7ZM1071.2,2035.8h2.7V2040.5h-2.7ZM1073.6,2035.8h2.7V2040.5h-2.7ZM1076,2036.1h2.7V2040.5h-2.7ZM1078.4,2035.9h2.7V2040.5h-2.7ZM1080.8,2035.9h2.7V2040.6h-2.7ZM1083.2,2036h2.7V2040.8h-2.7ZM1085.6,2035.9h2.7V2040.5h-2.7ZM1088,2036h2.7V2040.3h-2.7ZM1090.4,2036.3h2.7V2040.4h-2.7ZM1092.8,2036.1h2.7V2040.7h-2.7ZM1095.2,2035.5h2.7V2040.7h-2.7ZM1097.6,2035.6h2.7V2040.6h-2.7ZM1100,2035.3h2.7V2040.8h-2.7ZM1102.4,2035.5h2.7V2040.9h-2.7ZM1104.8,2035.3h2.7V2040.4h-2.7ZM1107.2,2035.4h2.7V2040.4h-2.7ZM1109.6,2034.9h2.7V2040.6h-2.7ZM1112,2035h2.7V2040.9h-2.7ZM1114.4,2034.8h2.7V2041h-2.7ZM1116.8,2034.6h2.7V2041.1h-2.7ZM1119.2,2034.2h2.7V2040.7h-2.7ZM1121.6,2034.6h2.7V2040.5h-2.7ZM1124,2034.1h2.7V2040.9h-2.7ZM1126.4,2034h2.7V2040.7h-2.7ZM1128.8,2034h2.7V2040.6h-2.7ZM1131.2,2034h2.7V2040.5h-2.7ZM1133.6,2034.1h2.7V2040.7h-2.7ZM1136,2034h2.7V2040.7h-2.7ZM1138.4,2033.9h2.7V2041h-2.7ZM1140.8,2033.7h2.7V2040.7h-2.7ZM1143.2,2032.9h2.7V2041.2h-2.7ZM1145.6,2032.9h2.7V2041.6h-2.7ZM1148,2033.1h2.7V2041.2h-2.7ZM1150.4,2032.8h2.7V2041.4h-2.7ZM1152.8,2032.7h2.7V2041.7h-2.7ZM1155.2,2032.5h2.7V2041.2h-2.7ZM1157.6,2032.4h2.7V2041.5h-2.7ZM1160,2032h2.7V2041.3h-2.7ZM1162.4,2032.6h2.7V2041.8h-2.7ZM1164.8,2031.7h2.7V2042.1h-2.7ZM1167.2,2031.9h2.7V2042h-2.7ZM1169.6,2032h2.7V2041.4h-2.7ZM1172,2032.1h2.7V2042.2h-2.7ZM1174.4,2031.3h2.7V2041.9h-2.7ZM1176.8,2031.1h2.7V2042.5h-2.7ZM1179.2,2031.2h2.7V2042.4h-2.7ZM1181.6,2030.8h2.7V2041.9h-2.7ZM1184,2030.6h2.7V2041.9h-2.7ZM1186.4,2031.2h2.7V2042.3h-2.7ZM1188.8,2031h2.7V2042.7h-2.7ZM1191.2,2030.3h2.7V2042.7h-2.7ZM1193.6,2030.8h2.7V2042.6h-2.7ZM1196,2030.6h2.7V2042.8h-2.7ZM1198.4,2030.1h2.7V2042.3h-2.7ZM1200.8,2029.5h2.7V2042.4h-2.7ZM1203.2,2030.1h2.7V2042.7h-2.7ZM1205.6,2030.2h2.7V2043.4h-2.7ZM1208,2029.2h2.7V2042.9h-2.7ZM1210.4,2029.9h2.7V2043.4h-2.7ZM1212.8,2029.8h2.7V2042.8h-2.7ZM1215.2,2029.6h2.7V2042.7h-2.7ZM1217.6,2029.7h2.7V2042.7h-2.7ZM1220,2029.3h2.7V2042.6h-2.7ZM1222.4,2029.7h2.7V2043.2h-2.7ZM1224.8,2029.1h2.7V2042.6h-2.7ZM1227.2,2029.4h2.7V2042.4h-2.7ZM1229.6,2029.7h2.7V2042.7h-2.7ZM1232,2029.5h2.7V2042.5h-2.7ZM1234.4,2028.9h2.7V2043.3h-2.7ZM1236.8,2030h2.7V2042.6h-2.7ZM1239.2,2029.3h2.7V2043.1h-2.7ZM1241.6,2029.1h2.7V2043h-2.7ZM1244,2029.8h2.7V2043.5h-2.7ZM1246.4,2029.3h2.7V2043.1h-2.7ZM1248.8,2028.9h2.7V2042.6h-2.7ZM1251.2,2029.3h2.7V2042.6h-2.7ZM1253.6,2029.5h2.7V2042.8h-2.7ZM1256,2029h2.7V2043.4h-2.7ZM1258.4,2029.8h2.7V2042.9h-2.7ZM1260.8,2029h2.7V2042.6h-2.7ZM1263.2,2028.9h2.7V2042.4h-2.7ZM1265.6,2029.4h2.7V2043.2h-2.7ZM1268,2029.9h2.7V2042.5h-2.7ZM1270.4,2029.8h2.7V2042.8h-2.7ZM1272.8,2029h2.7V2042.4h-2.7ZM1275.2,2029.9h2.7V2042.8h-2.7ZM1277.6,2029h2.7V2042.7h-2.7ZM1280,2029.2h2.7V2043h-2.7ZM1282.4,2029.2h2.7V2043.1h-2.7ZM1284.8,2029.2h2.7V2043.5h-2.7ZM1287.2,2029.6h2.7V2043.6h-2.7ZM1289.6,2029.8h2.7V2043h-2.7ZM1292,2029h2.7V2042.5h-2.7ZM1294.4,2029.9h2.7V2043.2h-2.7ZM1296.8,2029.8h2.7V2042.5h-2.7ZM1299.2,2029.9h2.7V2043.6h-2.7ZM1301.6,2029.6h2.7V2042.5h-2.7ZM1304,2029h2.7V2043.2h-2.7ZM1306.4,2029.2h2.7V2043.3h-2.7ZM1308.8,2029.9h2.7V2043.4h-2.7ZM1311.2,2029.3h2.7V2042.5h-2.7ZM1313.6,2029.8h2.7V2042.6h-2.7ZM1316,2029h2.7V2043.3h-2.7ZM1318.4,2029.1h2.7V2042.8h-2.7ZM1320.8,2029.8h2.7V2042.4h-2.7ZM1323.2,2029.1h2.7V2043h-2.7ZM1325.6,2029.9h2.7V2043.3h-2.7ZM1328,2030h2.7V2043.2h-2.7ZM1330.4,2029h2.7V2042.4h-2.7ZM1332.8,2028.9h2.7V2043h-2.7ZM1335.2,2029h2.7V2043.1h-2.7ZM1337.6,2029.9h2.7V2042.5h-2.7ZM1340,2029.4h2.7V2043.2h-2.7ZM1342.4,2029.6h2.7V2043.4h-2.7ZM1344.8,2029.8h2.7V2043h-2.7ZM1347.2,2029.7h2.7V2042.8h-2.7ZM1349.6,2029.5h2.7V2043.3h-2.7ZM1352,2029.1h2.7V2042.9h-2.7ZM1354.4,2030h2.7V2043h-2.7ZM1356.8,2029.6h2.7V2043.2h-2.7ZM1359.2,2029h2.7V2043.3h-2.7ZM1361.6,2029.8h2.7V2043.4h-2.7ZM1364,2029.6h2.7V2043.1h-2.7ZM1366.4,2029.6h2.7V2043.5h-2.7ZM1368.8,2029h2.7V2043.2h-2.7ZM1371.2,2029.7h2.7V2043.3h-2.7ZM1373.6,2029.4h2.7V2043.5h-2.7ZM1376,2029.7h2.7V2043.4h-2.7ZM1378.4,2030h2.7V2042.9h-2.7ZM1380.8,2029.3h2.7V2043.1h-2.7ZM1383.2,2030h2.7V2043h-2.7ZM1385.6,2029.3h2.7V2042.6h-2.7ZM1388,2029h2.7V2042.9h-2.7ZM1390.4,2028.9h2.7V2042.8h-2.7ZM1392.8,2029.1h2.7V2043.5h-2.7ZM1395.2,2029.5h2.7V2042.7h-2.7ZM1397.6,2029.7h2.7V2042.9h-2.7ZM1400,2029.4h2.7V2042.8h-2.7ZM1402.4,2029.1h2.7V2042.8h-2.7ZM1404.8,2030h2.7V2043.6h-2.7ZM1407.2,2029.3h2.7V2043.5h-2.7ZM1409.6,2029.6h2.7V2043.4h-2.7ZM1412,2029.4h2.7V2042.4h-2.7ZM1414.4,2029h2.7V2042.7h-2.7ZM1416.8,2029.7h2.7V2043.3h-2.7ZM1419.2,2030.1h2.7V2043.3h-2.7ZM1421.6,2029.7h2.7V2042.6h-2.7ZM1424,2029.2h2.7V2042.9h-2.7ZM1426.4,2029.3h2.7V2042.7h-2.7ZM1428.8,2029.3h2.7V2043.3h-2.7ZM1431.2,2030h2.7V2043.4h-2.7ZM1433.6,2029.7h2.7V2043h-2.7ZM1436,2028.9h2.7V2043.5h-2.7ZM1438.4,2029h2.7V2042.9h-2.7ZM1440.8,2029.5h2.7V2042.6h-2.7ZM1443.2,2029.5h2.7V2043.5h-2.7ZM1445.6,2028.9h2.7V2043.5h-2.7ZM1448,2029.1h2.7V2043.5h-2.7ZM1450.4,2030.1h2.7V2042.6h-2.7ZM1452.8,2030.1h2.7V2043.2h-2.7ZM1455.2,2029.8h2.7V2042.4h-2.7ZM1457.6,2029.4h2.7V2042.5h-2.7ZM1460,2029.7h2.7V2043h-2.7ZM1462.4,2029.3h2.7V2043.5h-2.7ZM1464.8,2029.9h2.7V2043h-2.7ZM1467.2,2029.5h2.7V2043.5h-2.7ZM1469.6,2029.9h2.7V2042.5h-2.7ZM1472,2029.5h2.7V2043.2h-2.7ZM1474.4,2029.6h2.7V2043.6h-2.7ZM1476.8,2029.3h2.7V2043.2h-2.7ZM1479.2,2030h2.7V2043h-2.7ZM1481.6,2030h2.7V2042.9h-2.7ZM1484,2029.3h2.7V2042.8h-2.7ZM1486.4,2029.5h2.7V2042.5h-2.7ZM1488.8,2029.6h2.7V2043h-2.7ZM1491.2,2029.1h2.7V2043.5h-2.7ZM1493.6,2029.2h2.7V2043h-2.7ZM1496,2029.9h2.7V2042.9h-2.7ZM1498.4,2029.4h2.7V2043.3h-2.7ZM1500.8,2029.9h2.7V2043.4h-2.7ZM1503.2,2029.4h2.7V2042.4h-2.7ZM1505.6,2029.7h2.7V2042.8h-2.7ZM1508,2029.3h2.7V2043.6h-2.7ZM1510.4,2030h2.7V2042.5h-2.7ZM1512.8,2029.9h2.7V2043.4h-2.7ZM1515.2,2030h2.7V2042.6h-2.7ZM1517.6,2029.8h2.7V2043.3h-2.7ZM1520,2027.3h2.6V2043.5h-2.6ZM1522.4,2027.1h2.6V2043.3h-2.6ZM1524.8,2027.7h2.6V2044h-2.6ZM1527.2,2026.6h2.6V2044.7h-2.6ZM1529.6,2025.9h2.6V2044.5h-2.6ZM1534.4,2025.4h2.6V2044.6h-2.6ZM1536.8,2026.5h2.6V2045.5h-2.6ZM1539.2,2024.6h2.6V2044.6h-2.6ZM1544,2023.7h2.6V2047.3h-2.6ZM1548.8,2026.1h2.6V2045.7h-2.6ZM1553.6,2024.8h2.6V2046.5h-2.6ZM1558.4,2026h2.6V2044.9h-2.6ZM1563.2,2023.6h2.6V2046.3h-2.6ZM1568,2024.8h2.6V2046.8h-2.6ZM1572.8,2023.6h2.6V2048.2h-2.6ZM1577.6,2025.5h2.6V2045.9h-2.6ZM1582.4,2022.9h2.6V2048h-2.6ZM1587.2,2022.4h2.6V2045.4h-2.6ZM1589.6,2023.6h2.6V2047.7h-2.6ZM1592,2022.2h2.6V2046.5h-2.6ZM1596.8,2024.4h2.6V2046.8h-2.6ZM1599.2,2024.6h2.6V2045.9h-2.6ZM1601.6,2022.6h2.6V2045.8h-2.6ZM1606.4,2025.3h2.6V2048.3h-2.6ZM1611.2,2025.6h2.6V2046.4h-2.6ZM1616,2022.4h2.6V2046.7h-2.6ZM1618.4,2024.9h2.6V2048.3h-2.6ZM1620.8,2024.6h2.6V2047.9h-2.6ZM1625.6,2025.4h2.6V2048.2h-2.6ZM1630.4,2023.8h2.6V2048.9h-2.6ZM1632.8,2024.4h2.6V2045.8h-2.6ZM1635.2,2023.8h2.6V2049.1h-2.6ZM1637.6,2024.6h2.6V2046.5h-2.6ZM1640,2024h2.6V2048.2h-2.6ZM1644.8,2024.7h2.6V2048.7h-2.6ZM1649.6,2023.2h2.6V2046.1h-2.6ZM1654.4,2026.6h2.6V2046.1h-2.6ZM1659.2,2026.2h2.6V2047.1h-2.6ZM1664,2022.9h2.6V2046.6h-2.6ZM1666.4,2023.2h2.6V2049.4h-2.6ZM1668.8,2024.6h2.6V2048.2h-2.6ZM1673.6,2025.2h2.6V2048.8h-2.6ZM1678.4,2026.9h2.6V2048.8h-2.6ZM1680.8,2025.4h2.6V2046.5h-2.6ZM1683.2,2024.5h2.6V2048.8h-2.6ZM1685.6,2023h2.6V2048.3h-2.6ZM1688,2023.9h2.6V2049h-2.6ZM1692.8,2023.1h2.6V2047.9h-2.6ZM1695.2,2026.9h2.6V2049.1h-2.6ZM1697.6,2025.3h2.6V2048.3h-2.6ZM1702.4,2026.9h2.6V2049h-2.6ZM1707.2,2025.6h2.6V2047.3h-2.6ZM1709.6,2024.6h2.6V2049.5h-2.6ZM1712,2023.2h2.6V2048.6h-2.6ZM1716.8,2025.3h2.6V2048.8h-2.6ZM1721.6,2025.4h2.6V2046.8h-2.6ZM1726.4,2026h2.6V2048.9h-2.6ZM1728.8,2025.6h2.6V2046.3h-2.6ZM1731.2,2025.9h2.6V2046.4h-2.6ZM1733.6,2027.1h2.6V2046.4h-2.6ZM1736,2024.5h2.6V2047.2h-2.6ZM1740.8,2023.5h2.6V2046.2h-2.6ZM1743.2,2024.1h2.6V2047.5h-2.6ZM1745.6,2026.9h2.6V2048.3h-2.6ZM1748,2026.3h2.6V2046.3h-2.6ZM1750.4,2023.5h2.6V2048.9h-2.6ZM1755.2,2023.5h2.6V2048.5h-2.6ZM1760,2026.7h2.6V2046.1h-2.6ZM1764.8,2025.9h2.6V2047.9h-2.6ZM1767.2,2026.3h2.6V2047.3h-2.6ZM1769.6,2023.4h2.6V2048.2h-2.6ZM1774.4,2023.4h2.6V2049.1h-2.6ZM1779.2,2023.5h2.6V2049.4h-2.6ZM1784,2025.2h2.6V2046.8h-2.6ZM1788.8,2027.1h2.6V2048.1h-2.6ZM1793.6,2026.5h2.6V2049.5h-2.6ZM1798.4,2025.9h2.6V2048.5h-2.6ZM1800.8,2024.6h2.6V2047.6h-2.6ZM1803.2,2027.3h2.6V2046.4h-2.6ZM1808,2026.5h2.6V2046.6h-2.6ZM1812.8,2026.4h2.6V2048.1h-2.6ZM1817.6,2026.1h2.6V2048h-2.6ZM1820,2025.3h2.6V2049.6h-2.6ZM1822.4,2025.1h2.6V2048.8h-2.6ZM1824.8,2027.1h2.6V2049.4h-2.6ZM1827.2,2024.9h2.6V2046.8h-2.6ZM1829.6,2024h2.6V2046.8h-2.6ZM1832,2024.9h2.6V2048.5h-2.6ZM1836.8,2026.2h2.6V2047.2h-2.6ZM1841.6,2023.9h2.6V2047h-2.6ZM1846.4,2024.7h2.6V2049.7h-2.6ZM1851.2,2025.1h2.6V2048.9h-2.6ZM1856,2027.3h2.6V2046.7h-2.6ZM1858.4,2023.8h2.6V2048.6h-2.6ZM1860.8,2026.7h2.6V2049.4h-2.6ZM1863.2,2024.8h2.6V2046h-2.6ZM1865.6,2025.2h2.6V2047.5h-2.6ZM1870.4,2026h2.6V2048h-2.6ZM1875.2,2025.5h2.6V2046.2h-2.6ZM1880,2025.1h2.6V2046.2h-2.6ZM1884.8,2027.8h2.6V2049.7h-2.6ZM1889.6,2025.9h2.6V2048h-2.6ZM1894.4,2027.6h2.6V2049.1h-2.6ZM1896.8,2026.4h2.6V2046.4h-2.6ZM1899.2,2027h2.6V2046.3h-2.6ZM1904,2026.4h2.6V2049.2h-2.6ZM1908.8,2026.5h2.6V2049.1h-2.6ZM1913.6,2027.4h2.6V2047.3h-2.6ZM1916,2026.5h2.6V2048.6h-2.6ZM1918.4,2024h2.6V2047.8h-2.6ZM1923.2,2027.8h2.6V2049.4h-2.6ZM1928,2024.1h2.6V2046.7h-2.6ZM1932.8,2027.4h2.6V2049h-2.6ZM1937.6,2025.9h2.6V2047.2h-2.6Z" fill="#12c8cc"/>
<path d="M216.4,2034.2V2054M232.9,2032.9V2053M243.6,2034V2053.4M280.8,2033.1V2046.9M322.9,2034.9V2046.8M335.7,2033.6V2054.5M351.4,2033.6V2047.1M357.4,2032.7V2053.3M377.6,2033.9V2052.6M394.6,2032.5V2054.4M410.5,2035.6V2050.3M429,2032.4V2057.5M437.4,2034.7V2047.2M447.2,2032.5V2052M490.3,2034.6V2059.4M503.3,2035.5V2053.5M511.9,2036.5V2062.8M569.9,2039.6V2059.2M577.2,2039.8V2061.4M598,2035.6V2045.4M600.9,2034.7V2052.4M607.6,2032.7V2050.8M615.9,2031.9V2045.5M617.9,2031.5V2045.6M626,2031.3V2045.1M629.5,2031.3V2045.2M641.7,2030.7V2044.8M657.6,2030.4V2044.1M659.1,2031V2044.9M668,2030.6V2043.9M673.7,2031V2043.7M676.1,2030.5V2044.5M681.5,2031V2043.7M682.9,2030.5V2044.1M698.9,2030.8V2044.5M702.9,2031.1V2044M704.4,2031.3V2044.2M706.3,2031.3V2044.4M714.7,2030.5V2043.7M722.1,2030.6V2044.2M730.3,2030.8V2044M735.7,2030.7V2044.5M748.3,2031V2044.2M755,2031.1V2043.7M763.8,2031.2V2044.3M779.8,2030.8V2043.9M781,2030.8V2044.3M787.4,2031.2V2043.9M794.1,2030.7V2044.7M803.6,2030.8V2043.8M808.4,2030.3V2044M815.6,2031V2043.3M827.6,2031V2042.7M830,2031.3V2043.6M832.4,2031.4V2042.6M834.8,2031V2042.6M839.6,2031.9V2042.3M842,2031.9V2042.2M854,2032.4V2042.9M856.4,2032.6V2042.8M858.8,2032V2042.4M863.6,2032V2041.6M866,2032.5V2042.4M875.6,2033.1V2041.7M880.4,2033.1V2041.7M882.8,2033V2041.3M894.8,2033V2041.5M904.4,2033.5V2041.3M906.8,2034V2041.3M909.2,2033.4V2041.2M914,2034.2V2041.1M923.6,2033.8V2040.7M933.2,2034.7V2040.4M940.4,2034.9V2040.4M950,2034.9V2040.8M952.4,2035.1V2040.3M959.6,2035.1V2040.6M964.4,2034.8V2040.6M969.2,2035.4V2040.6M971.6,2035.6V2040.1M986,2036V2040.1M988.4,2035.8V2039.9M990.8,2036.1V2040M993.2,2036V2040.5M1000.4,2036.3V2040.3M1002.8,2036V2040.2M1014.8,2036.5V2040.2M1031.6,2036.7V2039.9M1048.4,2036.4V2039.8M1050.8,2036.4V2040.1M1072.4,2036.3V2040M1079.6,2036.4V2040M1082,2036.4V2040.1M1084.4,2036.5V2040.3M1089.2,2036.5V2039.8M1094,2036.6V2040.2M1098.8,2036.1V2040.1M1101.2,2035.8V2040.3M1106,2035.8V2039.9M1113.2,2035.5V2040.4M1118,2035.1V2040.6M1120.4,2034.7V2040.2M1122.8,2035.1V2040M1127.6,2034.5V2040.2M1137.2,2034.5V2040.2M1144.4,2033.4V2040.7M1146.8,2033.4V2041.1M1149.2,2033.6V2040.7M1151.6,2033.3V2040.9M1156.4,2033V2040.7M1158.8,2032.9V2041M1166,2032.2V2041.6M1170.8,2032.5V2040.9M1173.2,2032.6V2041.7M1175.6,2031.8V2041.4M1180.4,2031.7V2041.9M1187.6,2031.7V2041.8M1190,2031.5V2042.2M1194.8,2031.3V2042.1M1199.6,2030.6V2041.8M1206.8,2030.7V2042.9M1214,2030.3V2042.3M1221.2,2029.8V2042.1M1223.6,2030.2V2042.7M1226,2029.6V2042.1M1228.4,2029.9V2041.9M1238,2030.5V2042.1M1247.6,2029.8V2042.6M1250,2029.4V2042.1M1252.4,2029.8V2042.1M1254.8,2030V2042.3M1262,2029.5V2042.1M1276.4,2030.4V2042.3M1278.8,2029.5V2042.2M1281.2,2029.7V2042.5M1283.6,2029.7V2042.6M1286,2029.7V2043M1290.8,2030.3V2042.5M1293.2,2029.5V2042M1295.6,2030.4V2042.7M1298,2030.3V2042M1305.2,2029.5V2042.7M1310,2030.4V2042.9M1312.4,2029.8V2042M1314.8,2030.3V2042.1M1324.4,2029.6V2042.5M1326.8,2030.4V2042.8M1334,2029.4V2042.5M1336.4,2029.5V2042.6M1338.8,2030.4V2042M1346,2030.3V2042.5M1348.4,2030.2V2042.3M1362.8,2030.3V2042.9M1370,2029.5V2042.7M1372.4,2030.2V2042.8M1374.8,2029.9V2043M1379.6,2030.5V2042.4M1396.4,2030V2042.2M1401.2,2029.9V2042.3M1406,2030.5V2043.1M1427.6,2029.8V2042.2M1432.4,2030.5V2042.9M1439.6,2029.5V2042.4M1446.8,2029.4V2043M1454,2030.6V2042.7M1463.6,2029.8V2043M1466,2030.4V2042.5M1468.4,2030V2043M1470.8,2030.4V2042M1478,2029.8V2042.7M1492.4,2029.6V2043M1497.2,2030.4V2042.4M1499.6,2029.9V2042.8M1502,2030.4V2042.9M1516.4,2030.5V2042.1M1518.8,2030.3V2042.8M1526,2030V2042.6M1528.4,2029.8V2042.9M1535.6,2029.1V2043.7M1559.6,2027.7V2045.3M1569.2,2027.5V2045.5M1583.6,2027.2V2045.8M1696.4,2028.1V2047M1710.8,2028.1V2047M1713.2,2028.1V2047M1722.8,2028.2V2047M1732.4,2028.2V2047M1734.8,2028.2V2047M1746.8,2028.3V2047M1749.2,2028.3V2047M1756.4,2028.3V2047M1775.6,2028.4V2047M1785.2,2028.4V2047M1799.6,2028.5V2047M1809.2,2028.5V2047M1814,2028.5V2047M1821.2,2028.5V2047M1823.6,2028.5V2047M1838,2028.6V2047M1842.8,2028.6V2047M1862,2028.7V2047M1864.4,2028.7V2047M1866.8,2028.7V2047M1876.4,2028.8V2047M1895.6,2028.8V2047M1898,2028.8V2047M1914.8,2028.9V2047" stroke="#22eef2" stroke-width="1.1" fill="none"/>
<path d="M860,2042.5H905M930,2042H960M1000,2041.2H1075M1100,2041.8H1135M1150,2043.2H1200M1215,2044.2H1440M1455,2044.2H1500M1400,2045.5H1440M1485,2045.5H1525" stroke="#1010c4" stroke-width="2" fill="none"/>
<path d="M218,2037.2h2.4v2.9h-2.4ZM222.8,2037.1h4.8v3.4h-4.8ZM227.6,2037.9h2.4v4.5h-2.4ZM246.8,2038.4h2.4v2.8h-2.4ZM256.4,2043h2.4v2.8h-2.4ZM261.2,2038h2.4v3.6h-2.4ZM266,2041.7h2.4v3.1h-2.4ZM275.6,2042.7h2.4v3.2h-2.4ZM285.2,2039.6h2.4v4.5h-2.4ZM299.6,2042.2h2.4v3.6h-2.4ZM328.4,2040h2.4v3.8h-2.4ZM338,2042.8h4.8v3h-4.8ZM342.8,2040.4h2.4v3h-2.4ZM352.4,2039.5h2.4v4.9h-2.4ZM357.2,2041.2h2.4v2.6h-2.4ZM366.8,2041.8h2.4v2.5h-2.4ZM390.8,2041.7h2.4v3.1h-2.4ZM395.6,2040.3h2.4v3.5h-2.4ZM400.4,2038.4h4.8v4.3h-4.8ZM405.2,2040h4.8v3.4h-4.8ZM424.4,2037.8h4.8v3.5h-4.8ZM429.2,2039.8h2.4v3.6h-2.4ZM434,2039.1h4.8v4.3h-4.8ZM438.8,2041.9h2.4v4.2h-2.4ZM453.2,2042.8h2.4v4.4h-2.4ZM482,2040.9h2.4v2.9h-2.4ZM486.8,2042.1h2.4v4.7h-2.4ZM496.4,2040.6h2.4v3.5h-2.4ZM506,2042h2.4v2.7h-2.4ZM510.8,2038.4h2.4v3.2h-2.4ZM525.2,2037.5h2.4v2.7h-2.4ZM530,2039h2.4v3.8h-2.4ZM534.8,2041.5h2.4v4.7h-2.4ZM539.6,2038.6h2.4v3.2h-2.4ZM544.4,2041.2h2.4v3.2h-2.4ZM558.8,2037.8h2.4v4h-2.4ZM582.8,2041.3h2.4v3.1h-2.4ZM597.2,2037.9h4.8v4.5h-4.8ZM1606,2043h12v9h-12ZM1598,2045h6v5h-6ZM1630,2044h4v7h-4ZM1640,2043h3v8h-3ZM1655,2042h3v9h-3ZM1664,2040h3v10h-3Z" fill="#1010c4"/>
<polygon points="212,1803.4 244.5,1803.4 257.8,1818.5 244.5,1833.5 212,1833.5" fill="#fff" stroke="#6e9e14" stroke-width="1.9"/>
<text class="ch" x="216.5" y="1825.3" fill="#6e9e14" textLength="22.5" lengthAdjust="spacingAndGlyphs">C4</text>
<polygon points="215,1938.6 244.5,1938.6 259,1955 244.5,1971.5 215,1971.5" fill="#16b2d2"/>
<text class="ch" x="217" y="1962" fill="#fff" textLength="21" lengthAdjust="spacingAndGlyphs">C2</text>
<path d="M1876.7,1234.4H1929.8V1285.5Z" fill="#8b9dc3" stroke="#8b9dc3" stroke-width="2.4" stroke-linejoin="round"/>
<path d="M1874.3,1234L1930.2,1287.9" stroke="#2f3a52" stroke-width="1.1" stroke-linecap="round"/>
<path d="M1914,1250.9L1902,1261.3" stroke="#fff" stroke-width="2.8" stroke-linecap="round"/>
<circle cx="1919.2" cy="1245.3" r="6.9" fill="#8d9cc6" stroke="#fff" stroke-width="2"/>
<g fill="#000" filter="url(#sa)">
<polygon points="663.7,1612 526.7,1524.1 533.9,1521.2 509.8,1521.3 521.4,1542.4 520.5,1534.7"/>
<polygon points="1482.1,1628 1563.1,1467.9 1565.8,1474.2 1563.3,1451.5 1544.4,1464.4 1551,1462.3"/>
<polygon points="760.2,1895 702.7,2012.4 700.3,2005.7 702.9,2028.8 721.4,2014.8 714.9,2017.6"/>
<polygon points="1597.2,1887.6 1663.3,2019.5 1656.1,2017.2 1676.4,2029.3 1676.7,2005.6 1674.9,2013"/>
</g>
<g filter="url(#sh)">
<text class="lb" x="899.5" y="1296.8" font-size="64" stroke-width="13.4" textLength="319" lengthAdjust="spacingAndGlyphs">1500 1/min</text>
<text class="lb" x="216.5" y="1592.3" font-size="64" stroke-width="13.4" textLength="287" lengthAdjust="spacingAndGlyphs">900 1/min</text>
<text class="lb" x="691" y="1658.7" font-size="64.2" stroke-width="13.5" textLength="765" lengthAdjust="spacingAndGlyphs">Rotational speed change</text>
<text class="lb" x="456" y="1860.2" font-size="64.4" stroke-width="13.5" textLength="1392" lengthAdjust="spacingAndGlyphs">Generator &amp; battery current sharing ~50/50 %</text>
<text class="lb" x="1075.5" y="1996" font-size="62.5" stroke-width="13.1" textLength="148.5" lengthAdjust="spacingAndGlyphs">0.7 A</text>
</g>
<path fill="#000" fill-rule="evenodd" d="M208.2,1217.8H1946.7V2181.8H208.2Z M215.1,1223.1V2176.5H1940V1223.1Z"/>
<path d="M1068.2,1191H1081Q1077.8,1196.2 1074.6,1196.6Q1071.4,1196.2 1068.2,1191Z" fill="#f58a2c"/>
<rect x="1066.2" y="1197.2" width="15" height="14.7" rx="1.2" fill="#2a1a14" stroke="#7c421c" stroke-width="2"/>
<rect x="1067.4" y="1198.4" width="12.6" height="12.3" fill="none" stroke="#b5672a" stroke-width="0.8"/>
<path d="M1070,1201.6h7.4M1073.7,1201.6v7.6" stroke="#ee8a34" stroke-width="1.9" fill="none"/>
<polygon points="1070.7,1212.9 1076.7,1212.9 1074.6,1218.7" fill="#a85a20"/>
<polygon points="1062.2,1222.8 1087,1222.8 1074.6,1234.9" fill="#f58a2c" stroke="#c86a1e" stroke-width="0.8"/>
<text class="fg" x="4" y="1333.7" font-size="85">(<tspan font-weight="bold">b</tspan>)</text>
</svg>
</body></html>
